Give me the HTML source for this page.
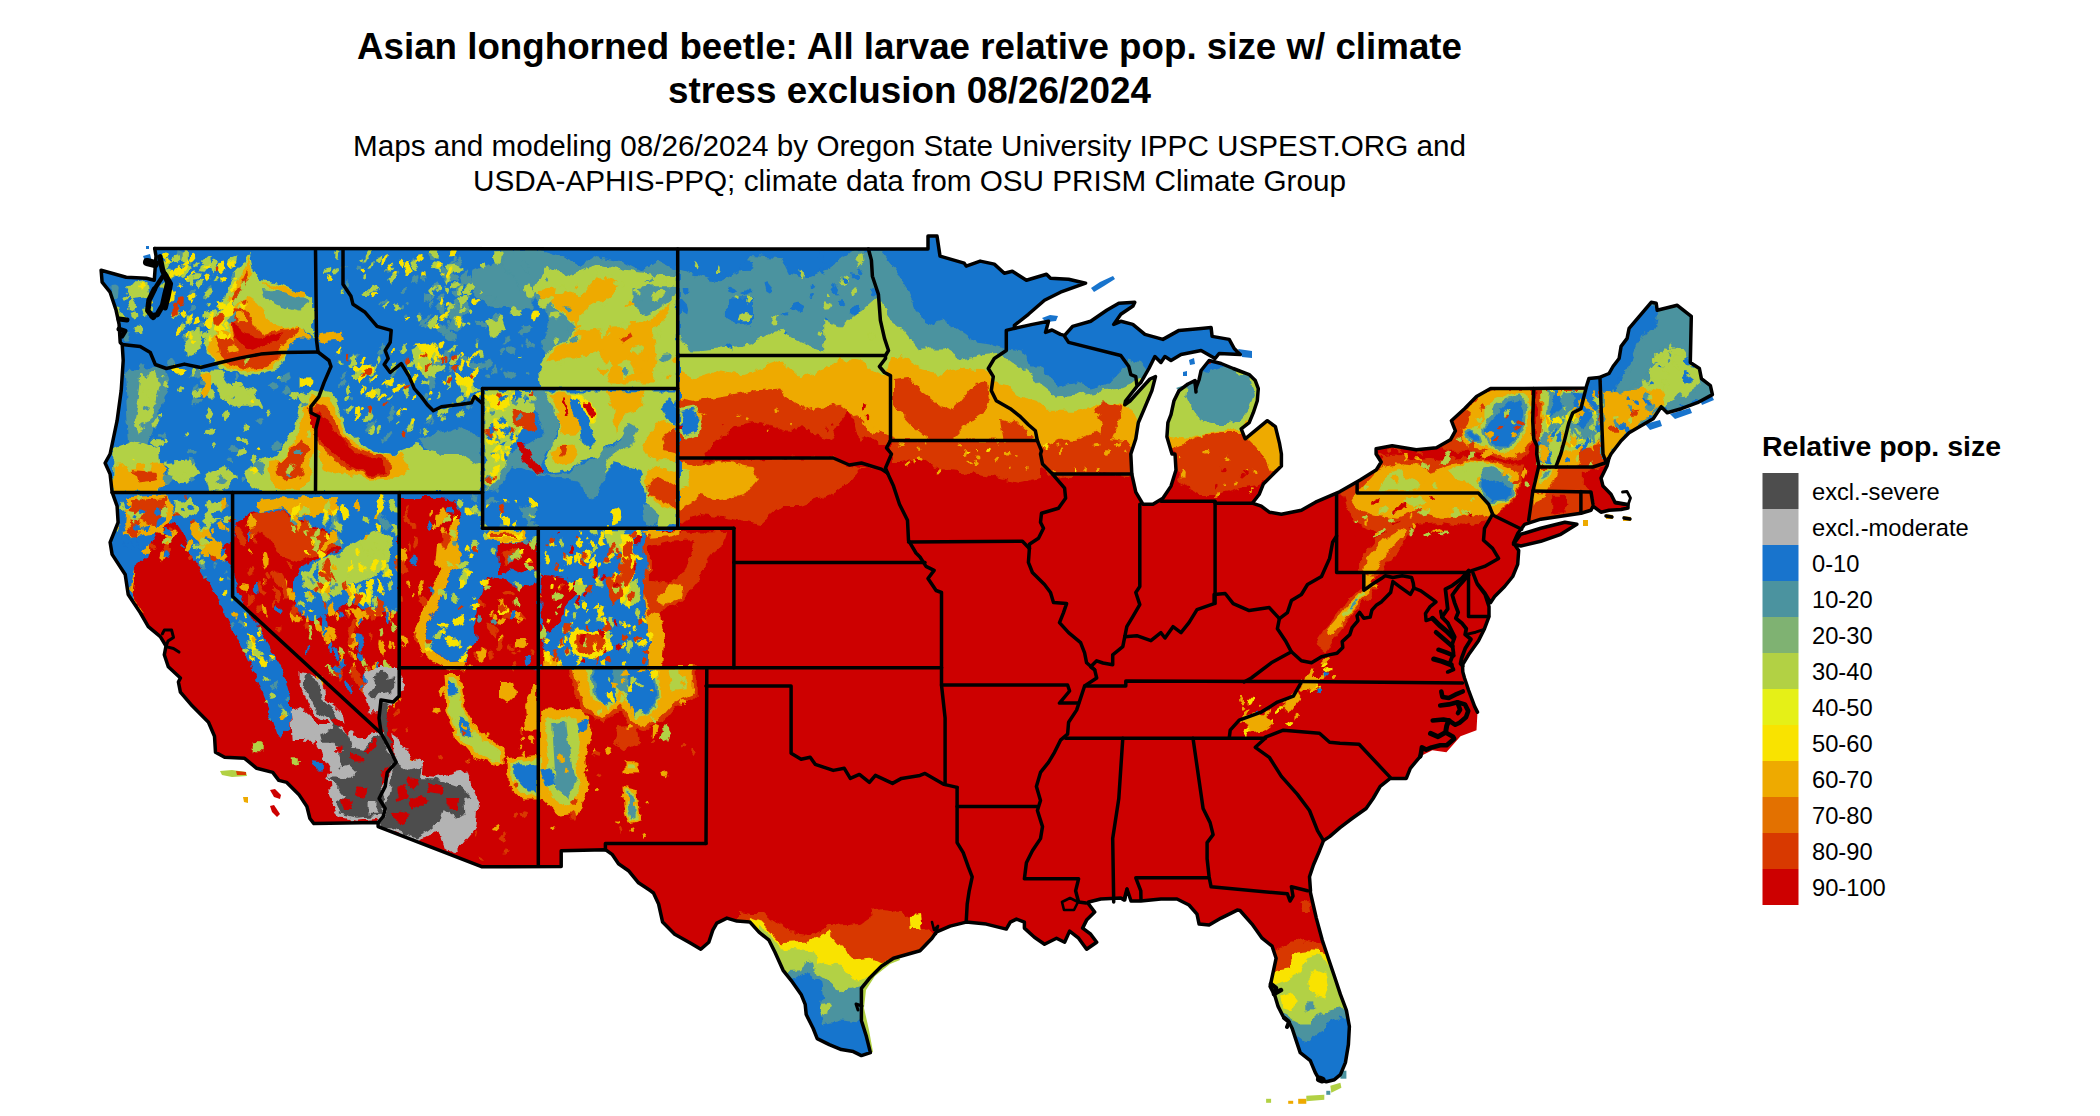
<!DOCTYPE html><html><head><meta charset="utf-8"><title>Asian longhorned beetle</title>
<style>html,body{margin:0;padding:0;background:#fff}svg{display:block}text{font-family:"Liberation Sans",Arial,sans-serif;fill:#000}</style></head><body>
<svg width="2100" height="1116" viewBox="0 0 2100 1116">
<rect width="2100" height="1116" fill="#fff"/>
<defs><clipPath id="us"><polygon points="154.7,248.5 928.0,249.0 928.0,236.0 937.0,236.0 940.0,256.1 964.2,263.1 966.2,266.1 980.2,261.1 994.3,264.1 1004.3,273.2 1012.3,271.2 1026.4,280.2 1046.5,274.2 1050.5,278.2 1068.6,279.2 1085.6,283.2 1060.5,292.2 1044.5,300.3 1028.4,314.3 1014.4,325.4 1014.4,328.4 1032.4,324.4 1048.5,321.3 1045.5,332.4 1052.0,330.0 1060.5,334.4 1064.6,335.4 1072.6,326.4 1090.7,321.3 1106.7,310.3 1118.8,303.3 1134.8,302.3 1133.0,306.0 1120.8,314.3 1113.7,324.4 1120.8,321.3 1132.8,324.4 1144.9,334.4 1162.9,339.4 1179.0,330.4 1201.1,328.4 1211.1,327.4 1212.1,336.4 1229.2,339.4 1234.2,348.5 1240.2,354.5 1219.1,353.5 1215.1,358.5 1201.1,350.5 1181.0,354.5 1171.0,360.5 1164.9,356.5 1160.9,362.5 1154.9,356.5 1148.9,368.5 1140.8,382.6 1136.8,386.6 1131.0,394.0 1125.5,401.0 1124.8,404.7 1130.0,401.0 1139.0,391.0 1150.0,379.0 1155.5,376.6 1151.9,390.6 1143.5,410.7 1138.3,422.7 1135.8,438.8 1130.8,454.0 1131.8,474.1 1135.8,492.1 1142.9,504.2 1152.9,504.2 1162.9,498.2 1171.0,486.1 1176.0,470.1 1175.0,454.0 1172.0,454.0 1166.9,436.8 1167.9,422.7 1171.0,414.7 1174.0,400.7 1179.0,390.6 1188.0,384.0 1195.0,380.6 1196.0,388.0 1199.0,380.0 1201.1,370.5 1209.1,360.5 1221.1,363.5 1233.2,368.5 1249.2,374.6 1255.3,380.6 1258.3,388.6 1257.3,400.7 1253.3,412.7 1249.2,422.7 1241.2,428.8 1245.2,438.8 1257.3,428.8 1267.3,420.7 1275.4,426.7 1279.4,442.8 1281.4,454.0 1281.4,466.0 1273.3,474.1 1263.3,484.1 1259.3,494.2 1252.3,503.2 1261.3,506.2 1269.3,512.2 1281.4,514.2 1301.4,510.2 1315.5,502.2 1340.0,491.6 1360.1,480.1 1376.1,470.1 1381.2,462.0 1376.1,454.0 1376.1,448.8 1392.2,445.8 1416.3,449.8 1436.4,447.8 1450.4,439.8 1455.4,430.8 1451.4,420.7 1464.5,408.7 1476.5,396.6 1490.6,388.6 1585.9,388.0 1588.9,378.6 1599.0,377.6 1609.0,373.5 1613.0,366.5 1619.1,358.5 1621.1,346.4 1627.1,338.4 1629.1,328.4 1651.2,302.3 1656.2,303.3 1657.2,310.3 1677.3,305.3 1691.3,316.3 1690.3,362.5 1699.4,368.5 1701.4,378.6 1710.4,385.6 1712.4,394.6 1697.4,402.7 1681.3,408.7 1667.2,412.7 1661.2,406.7 1653.2,418.7 1641.1,425.7 1629.1,432.8 1621.1,440.8 1615.0,448.8 1611.0,454.0 1609.0,458.0 1607.0,466.0 1601.0,478.1 1603.0,486.1 1611.0,494.2 1615.0,502.2 1628.0,504.5 1628.0,508.0 1621.1,509.5 1609.0,510.2 1601.0,512.2 1593.0,506.2 1591.0,510.2 1580.9,513.2 1560.8,516.2 1540.8,519.2 1524.7,524.3 1518.0,533.0 1513.5,543.0 1518.7,550.4 1517.7,564.4 1512.7,576.5 1504.6,586.5 1494.6,596.5 1490.6,602.6 1484.5,592.5 1476.5,582.5 1473.0,573.0 1477.5,584.5 1485.0,594.5 1489.0,606.6 1489.0,616.6 1484.5,628.7 1478.5,640.7 1468.5,654.8 1462.5,664.8 1462.8,671.9 1464.5,678.0 1468.5,690.0 1474.5,706.1 1477.5,712.1 1476.5,730.2 1460.5,736.2 1446.4,752.3 1432.4,750.3 1420.3,756.3 1410.3,768.3 1406.3,778.4 1390.2,778.4 1380.2,786.4 1373.1,798.5 1366.1,808.5 1352.0,818.5 1340.0,827.6 1329.6,836.6 1323.5,840.6 1319.5,850.7 1313.5,864.7 1309.5,876.8 1310.5,890.8 1310.3,892.0 1316.3,918.1 1322.3,940.2 1328.3,958.3 1334.4,976.3 1340.4,994.4 1346.4,1010.4 1349.4,1026.5 1348.4,1044.6 1345.4,1062.6 1340.4,1074.7 1334.4,1079.7 1326.3,1081.7 1319.3,1079.7 1315.3,1072.7 1310.3,1060.6 1300.2,1052.6 1296.2,1040.6 1292.2,1028.5 1288.2,1020.5 1283.2,1016.5 1278.1,1006.4 1275.1,996.4 1270.1,986.4 1273.1,972.3 1276.1,958.3 1272.1,946.2 1262.1,938.2 1252.0,924.1 1240.0,910.5 1237.2,910.1 1229.2,914.1 1221.1,918.1 1209.1,925.1 1199.1,924.1 1197.0,914.1 1189.0,905.0 1177.0,899.0 1160.9,899.0 1140.8,901.0 1131.0,901.0 1127.0,889.0 1124.0,900.0 1120.8,898.0 1100.7,899.0 1088.6,902.0 1088.6,904.0 1094.7,912.1 1086.6,920.1 1082.6,928.1 1090.7,934.2 1096.7,942.2 1086.6,949.2 1078.6,938.2 1069.6,931.1 1064.6,942.2 1056.5,938.2 1044.5,944.2 1034.4,937.2 1024.4,928.1 1024.4,922.1 1016.4,919.1 1010.3,922.1 1006.3,929.1 986.3,924.1 966.2,922.1 950.1,926.1 936.1,932.2 932.0,938.2 920.0,950.7 893.5,958.3 881.4,966.3 869.4,978.3 861.4,988.4 861.4,1006.4 861.4,1020.5 866.4,1036.6 870.4,1052.6 861.4,1055.6 853.3,1051.6 841.3,1049.6 829.3,1044.6 817.2,1038.6 813.2,1028.5 806.2,1014.5 805.2,1004.4 801.1,994.4 791.1,980.3 783.1,970.3 775.0,952.2 769.0,940.2 759.0,932.2 750.0,922.1 736.9,921.1 726.9,918.1 716.8,923.1 712.8,930.1 708.8,942.2 700.8,949.2 690.7,943.2 674.7,934.2 662.6,922.1 658.6,904.0 653.5,893.0 650.6,890.8 638.5,882.8 628.5,870.7 618.5,863.7 612.4,854.7 605.4,849.7 561.2,850.7 561.2,866.5 481.5,866.7 378.1,826.6 378.1,822.6 313.9,823.6 309.9,818.5 306.9,806.5 298.8,794.4 286.8,782.4 278.8,780.4 272.7,772.4 256.7,768.3 244.6,758.3 224.6,757.3 215.5,752.3 214.5,736.2 208.5,722.2 192.4,706.1 180.4,692.1 178.4,682.0 180.4,678.0 168.3,666.8 164.3,654.8 166.0,646.0 160.3,636.7 148.3,626.7 140.2,612.6 128.2,594.5 125.2,574.5 112.1,554.4 110.1,542.3 118.1,522.3 117.1,506.2 112.1,492.1 110.1,474.1 105.1,463.0 110.1,454.0 117.1,420.7 121.2,390.6 123.2,360.5 122.2,344.4 120.2,342.4 119.1,324.4 116.1,310.3 110.1,292.2 102.1,282.2 101.1,270.2 126.2,277.2 146.3,278.2 154.3,280.2 156.0,256.0"/><polygon points="1513.5,544.3 1520.7,534.3 1540.8,528.3 1564.9,522.3 1576.9,524.3 1560.8,534.3 1540.8,541.3 1520.7,546.0"/></clipPath><filter id="rough" x="0" y="0" width="2100" height="1116" filterUnits="userSpaceOnUse"><feTurbulence type="fractalNoise" baseFrequency="0.09" numOctaves="3" seed="7" result="n"/><feDisplacementMap in="SourceGraphic" in2="n" scale="9" xChannelSelector="R" yChannelSelector="G"/></filter></defs>
<g font-weight="bold" font-size="36.7" text-anchor="middle"><text x="909.5" y="59" textLength="1105" lengthAdjust="spacingAndGlyphs">Asian longhorned beetle: All larvae relative pop. size w/ climate</text><text x="909.5" y="103" textLength="483" lengthAdjust="spacingAndGlyphs">stress exclusion 08/26/2024</text></g>
<g font-size="29.6" text-anchor="middle"><text x="909.5" y="155.5" textLength="1113" lengthAdjust="spacingAndGlyphs">Maps and modeling 08/26/2024 by Oregon State University IPPC USPEST.ORG and</text><text x="909.5" y="191" textLength="873" lengthAdjust="spacingAndGlyphs">USDA-APHIS-PPQ; climate data from OSU PRISM Climate Group</text></g>
<g clip-path="url(#us)"><g filter="url(#rough)">
<rect x="90" y="230" width="1640" height="880" fill="#CD0000"/>
<g fill="#D83900"><!-- RO plains -->
<polygon points="636.0,440.0 640.0,470.0 642.0,496.0 650.0,520.0 678.0,524.0 700.8,514.0 720.8,516.0 761.0,524.0 781.1,506.0 801.1,506.0 831.3,494.0 851.3,480.0 860.0,470.0 886.0,462.0 900.0,462.0 920.0,458.0 940.0,470.0 980.0,474.0 1020.0,482.0 1040.0,478.0 1040.0,466.0 1060.0,480.0 1080.0,474.0 1100.0,472.0 1120.0,476.0 1135.0,478.0 1135.0,225.0 636.0,225.0"/>
</g>
<g fill="#EEAA00"><!-- O plains -->
<polygon points="640.0,398.0 678.0,398.0 692.7,400.7 730.9,394.6 751.0,390.6 781.1,388.6 791.1,400.7 805.2,410.7 821.2,406.7 841.3,404.7 861.4,420.7 871.4,430.8 890.5,436.0 900.0,440.0 1036.0,440.8 1042.5,446.8 1060.5,438.8 1080.6,438.8 1096.7,430.8 1110.0,440.0 1128.8,442.8 1135.0,450.0 1150.0,450.0 1150.0,225.0 640.0,225.0"/>
</g>
<g fill="#B2D144"><!-- G plains -->
<polygon points="640.0,370.0 678.0,370.5 692.7,378.6 720.8,370.5 740.9,374.6 781.1,360.5 801.1,378.6 821.2,370.5 841.3,358.5 861.4,362.5 875.4,370.5 886.0,376.0 890.5,356.0 900.0,356.0 910.0,362.0 920.0,368.5 940.1,374.6 960.2,368.5 986.3,370.5 996.3,382.6 1010.3,386.6 1020.4,396.6 1036.4,400.7 1048.5,410.7 1072.6,410.7 1090.7,406.7 1100.7,402.7 1120.8,404.7 1132.8,410.7 1138.8,422.7 1145.0,425.0 1162.0,425.0 1162.0,225.0 640.0,225.0"/>
</g>
<g fill="#4B939F"><!-- T plains -->
<polygon points="678.0,334.4 692.7,350.5 720.8,348.4 751.0,344.4 767.0,334.4 781.1,328.4 791.1,338.4 823.2,350.5 823.2,320.3 841.3,326.4 861.4,310.3 875.4,298.3 879.4,300.3 890.0,318.0 905.0,330.0 920.0,348.4 944.1,348.4 960.2,358.5 980.2,354.5 1000.3,352.5 1008.3,358.5 1024.4,370.5 1040.5,384.6 1056.5,396.6 1080.6,394.6 1100.7,390.6 1120.8,388.6 1130.8,384.6 1142.0,380.0 1160.0,380.0 1160.0,225.0 678.0,225.0"/>
</g>
<g fill="#1874CD"><!-- B plains -->
<polygon points="678.0,270.2 700.8,276.2 720.8,282.2 740.9,270.2 751.0,256.1 781.1,258.1 789.1,274.2 805.2,278.2 829.3,268.1 851.3,252.1 868.4,250.1 880.0,250.0 890.0,262.0 905.0,285.0 920.0,318.3 932.0,324.4 946.1,320.3 960.2,330.4 976.2,342.4 990.3,344.4 1004.3,348.5 1022.4,350.5 1028.4,366.5 1040.5,366.5 1058.5,386.6 1076.6,382.6 1090.7,388.6 1106.7,384.6 1120.8,370.5 1128.8,358.5 1140.0,362.0 1150.0,374.0 1165.0,374.0 1165.0,366.0 1195.0,366.0 1200.0,357.0 1260.0,357.0 1260.0,225.0 678.0,225.0"/>
</g>
<g fill="#CD0000"><!-- R SD -->
<polygon points="700.0,462.0 716.0,442.0 735.0,426.0 760.0,422.0 790.0,432.0 800.0,424.0 815.0,436.0 830.0,440.0 840.0,424.0 848.0,410.0 854.0,420.0 858.0,440.0 870.0,436.0 880.0,444.0 892.0,444.0 892.0,464.0 860.0,468.0 840.0,462.0 833.0,456.0"/>
</g>
<g fill="#D83900"><!-- RO MN -->
<polygon points="893.0,380.0 910.0,378.0 922.0,392.0 935.0,402.0 952.0,410.0 962.0,398.0 975.0,384.0 988.0,382.0 990.0,400.0 984.0,412.0 965.0,425.0 950.0,440.0 930.0,440.0 915.0,428.0 900.0,412.0 893.0,405.0"/>
<polygon points="1096.0,410.0 1104.0,402.0 1122.0,408.0 1118.0,424.0 1110.0,442.0 1100.0,438.0 1102.0,424.0"/>
<polygon points="1000.0,420.0 1020.0,424.0 1034.0,436.0 1030.0,442.0 1004.0,442.0"/>
</g>
<g fill="#EEAA00"><!-- O NE -->
<polygon points="678.7,462.0 700.0,466.0 720.0,462.0 752.0,466.0 757.0,480.0 745.0,496.0 720.0,500.0 700.0,496.0 690.0,504.0 678.7,510.0"/>
</g>
<g fill="#B2D144"><!-- G NE -->
<polygon points="678.7,470.0 688.7,472.0 690.0,486.0 678.7,490.0"/>
</g>
<g fill="#D83900"><!-- RO MI -->
<polygon points="1160.0,466.0 1175.0,466.0 1181.0,484.0 1201.0,494.0 1221.0,494.0 1241.0,488.0 1261.0,484.0 1273.0,474.0 1290.0,470.0 1290.0,363.0 1185.0,363.0 1160.0,400.0"/>
</g>
<g fill="#EEAA00"><!-- O MI -->
<polygon points="1160.0,450.0 1167.0,448.0 1180.0,446.0 1200.0,436.0 1222.0,432.0 1240.0,432.0 1248.0,440.0 1256.0,448.0 1262.0,456.0 1272.0,472.0 1290.0,470.0 1290.0,363.0 1185.0,363.0 1160.0,400.0"/>
</g>
<g fill="#B2D144"><!-- G MI -->
<polygon points="1160.0,438.0 1167.0,436.8 1187.0,438.8 1217.0,430.8 1241.0,428.8 1248.0,418.0 1256.0,410.0 1265.0,400.0 1265.0,363.0 1185.0,363.0 1160.0,400.0"/>
</g>
<g fill="#4B939F"><!-- T MI -->
<polygon points="1195.0,380.0 1210.0,362.0 1225.0,366.0 1250.0,376.0 1254.0,395.0 1248.0,410.0 1240.0,420.0 1228.0,424.0 1215.0,424.0 1200.0,420.0 1192.0,410.0 1186.0,396.0 1188.0,386.0"/>
</g>
<g fill="#1874CD"><!-- B MI -->
<polygon points="1200.0,363.0 1225.0,363.0 1222.0,368.0 1210.0,372.0 1203.0,370.0"/>
</g>
<g fill="#D83900"><!-- RO NY -->
<polygon points="1375.9,447.4 1390.2,443.8 1414.6,447.4 1440.4,447.4 1450.4,440.2 1454.7,433.1 1450.4,421.6 1459.0,413.0 1469.1,402.9 1483.4,392.9 1493.4,385.7 1612.5,385.7 1612.5,471.8 1595.3,471.8 1583.8,483.3 1595.3,494.7 1595.3,509.1 1580.9,517.7 1529.3,523.4 1512.1,501.9 1504.9,509.1 1496.3,514.8 1489.1,522.0 1476.2,523.4 1461.9,524.8 1440.4,522.0 1420.3,523.4 1397.4,534.9 1375.9,532.0 1354.3,523.4 1348.6,509.1 1344.3,494.7 1334.3,493.3 1334.3,486.1 1357.2,480.4 1375.9,466.0 1380.2,457.4 1375.9,453.1"/>
</g>
<g fill="#CD0000"><!-- R hudson -->
<polygon points="1532.2,388.6 1536.5,388.6 1537.2,423.0 1536.5,440.2 1539.3,466.0 1532.2,491.9 1529.3,523.4 1523.6,529.1 1512.1,523.4 1497.8,514.8 1504.9,509.1 1513.5,500.5 1519.3,489.0 1522.1,473.2 1526.4,457.4 1532.2,447.4 1531.5,423.0 1532.9,405.8"/>
<polygon points="1378.7,448.8 1397.4,446.7 1414.6,450.3 1440.4,448.6 1449.0,451.7 1469.1,451.7 1483.4,453.1 1497.8,458.2 1512.1,460.3 1526.4,456.0 1526.4,464.6 1512.1,464.6 1497.8,461.7 1483.4,458.2 1469.1,456.0 1454.7,457.4 1440.4,460.3 1428.9,457.4 1414.6,460.3 1397.4,454.6 1383.0,456.0 1377.3,453.1"/>
<polygon points="1552.2,494.7 1563.7,494.7 1569.5,503.3 1563.7,513.4 1552.2,514.8"/>
<polygon points="1583.8,471.8 1612.5,466.0 1612.5,494.7 1598.1,509.1 1592.4,494.7 1583.8,483.3"/>
</g>
<g fill="#EEAA00"><!-- O NY -->
<polygon points="1469.1,405.8 1483.4,395.8 1494.9,390.0 1532.2,390.0 1531.5,408.7 1532.2,425.9 1530.7,440.2 1523.6,451.7 1512.1,457.4 1497.8,454.6 1483.4,448.8 1469.1,447.4 1461.9,440.2 1460.5,428.8 1469.1,423.0 1471.9,414.4 1466.2,410.1"/>
<polygon points="1358.6,490.4 1375.9,471.8 1387.3,466.0 1404.5,463.2 1420.3,466.0 1428.9,471.8 1440.4,468.9 1449.0,464.6 1469.1,460.3 1490.6,461.7 1504.9,466.0 1519.3,471.8 1517.8,489.0 1509.2,503.3 1497.8,513.4 1483.4,517.7 1469.1,513.4 1454.7,517.7 1440.4,517.7 1420.3,509.1 1397.4,517.7 1375.9,514.8 1357.2,509.1 1351.5,500.5"/>
<polygon points="1540.8,394.3 1546.5,392.9 1546.5,417.3 1543.6,437.4 1540.8,444.5 1539.3,423.0"/>
<polygon points="1559.4,448.8 1576.6,446.0 1595.3,443.1 1602.4,440.2 1603.9,454.6 1595.3,466.0 1558.0,466.0"/>
<polygon points="1537.9,468.9 1558.0,468.9 1555.1,480.4 1547.9,491.9 1533.6,491.9"/>
<polygon points="1533.6,493.3 1545.1,493.3 1540.8,501.9 1533.6,504.8"/>
</g>
<g fill="#D83900"><!-- RO NH -->
<polygon points="1583.8,448.8 1602.4,443.1 1605.3,457.4 1598.1,466.0 1576.6,466.0"/>
</g>
<g fill="#B2D144"><!-- G NY -->
<polygon points="1483.4,408.7 1494.9,400.1 1512.1,392.9 1526.4,394.3 1529.3,408.7 1526.4,427.3 1520.7,440.2 1512.1,451.7 1497.8,451.7 1483.4,444.5 1469.1,443.1 1463.3,435.9 1464.8,427.3 1476.2,425.9 1483.4,420.2"/>
<polygon points="1378.7,486.1 1387.3,473.2 1400.2,468.9 1407.4,477.5 1420.3,483.3 1417.4,490.4 1380.2,490.4"/>
<polygon points="1449.0,468.9 1469.1,461.7 1490.6,463.2 1504.9,471.8 1516.4,480.4 1515.0,494.7 1504.9,504.8 1490.6,506.2 1480.5,497.6 1477.7,489.0 1469.1,483.3 1454.7,480.4"/>
<polygon points="1404.5,497.6 1420.3,496.2 1426.0,503.3 1414.6,506.2 1404.5,503.3"/>
<polygon points="1449.0,509.1 1459.0,509.1 1461.9,516.2 1450.4,517.7"/>
<polygon points="1540.8,390.0 1585.2,390.0 1582.4,408.7 1572.3,413.0 1563.7,434.5 1559.4,451.7 1556.5,466.0 1537.9,466.0 1539.3,437.4 1543.6,415.9"/>
<polygon points="1563.7,434.5 1572.3,413.0 1583.8,427.3 1599.6,423.0 1601.0,440.2 1591.0,447.4 1576.6,448.8 1560.9,451.7"/>
<polygon points="1540.8,470.3 1550.8,470.3 1547.9,480.4 1540.8,483.3"/>
</g>
<g fill="#4B939F"><!-- T NY -->
<polygon points="1494.9,405.8 1504.9,398.6 1519.3,394.3 1526.4,402.9 1525.0,423.0 1519.3,437.4 1509.2,448.8 1497.8,450.3 1486.3,441.7 1482.0,430.2 1486.3,420.2 1492.0,414.4"/>
<polygon points="1463.3,430.2 1469.1,427.3 1477.7,434.5 1480.5,443.1 1471.9,443.1 1464.8,437.4"/>
<polygon points="1482.0,468.9 1492.0,466.0 1497.8,471.8 1507.8,477.5 1515.0,483.3 1513.5,494.7 1504.9,501.9 1490.6,503.3 1482.0,494.7 1479.1,486.1 1483.4,477.5"/>
<polygon points="1547.9,392.9 1583.8,391.5 1580.9,407.2 1569.5,411.6 1560.9,427.3 1550.8,440.2 1543.6,460.3 1540.8,466.0 1540.8,443.1 1546.5,423.0 1546.5,405.8"/>
<polygon points="1576.6,408.7 1598.1,401.5 1599.6,423.0 1592.4,434.5 1580.9,440.2 1569.5,437.4 1572.3,423.0"/>
<polygon points="1542.2,471.8 1547.9,471.8 1546.5,477.5 1542.2,479.0"/>
</g>
<g fill="#1874CD"><!-- B NY -->
<polygon points="1497.8,413.0 1509.2,401.5 1519.3,398.6 1523.6,408.7 1522.1,423.0 1516.4,437.4 1506.4,447.4 1497.8,447.4 1489.1,438.8 1484.8,428.8 1490.6,421.6"/>
<polygon points="1466.2,433.1 1470.5,430.2 1476.2,435.9 1477.7,441.7 1471.9,441.7"/>
<polygon points="1483.4,480.4 1497.8,479.0 1507.8,483.3 1512.1,489.0 1504.9,499.0 1492.0,500.5 1483.4,493.3"/>
<polygon points="1555.1,392.9 1563.7,394.3 1560.9,408.7 1552.2,415.9 1550.8,402.9"/>
<polygon points="1572.3,391.5 1583.8,392.9 1582.4,404.4 1575.2,405.8"/>
<polygon points="1542.2,454.6 1549.4,451.7 1550.8,463.2 1542.2,464.6"/>
<polygon points="1586.7,377.1 1598.1,377.1 1599.6,401.5 1592.4,417.3 1583.8,427.3 1576.6,423.0 1580.9,408.7 1583.8,397.2"/>
</g>
<g fill="#D83900"><!-- RO VT -->
<polygon points="1536.5,388.6 1540.8,388.6 1542.2,423.0 1540.1,444.5 1537.2,444.5"/>
</g>
<g fill="#4B939F"><!-- T ME -->
<polygon points="1600.0,377.6 1609.0,370.5 1621.1,342.4 1629.1,326.4 1651.2,300.3 1681.3,302.3 1695.4,314.3 1693.3,362.5 1715.4,386.6 1713.4,398.6 1681.3,410.7 1653.2,422.7 1621.1,442.8 1607.0,458.9 1601.0,458.9"/>
</g>
<g fill="#1874CD"><!-- B ME -->
<polygon points="1599.0,378.6 1609.0,373.5 1621.1,346.4 1629.1,328.4 1651.2,302.3 1657.2,310.3 1655.2,326.4 1641.1,334.4 1635.1,350.5 1627.1,370.5 1617.1,386.6 1603.0,396.6 1602.0,386.6"/>
<polygon points="1653.2,416.7 1669.3,410.7 1681.3,410.7 1665.2,422.7 1653.2,428.8"/>
<polygon points="1681.3,406.7 1701.4,400.6 1693.3,408.7"/>
</g>
<g fill="#B2D144"><!-- G ME -->
<polygon points="1637.1,390.6 1645.2,376.6 1657.2,360.5 1665.2,348.5 1681.3,350.5 1689.3,362.5 1699.4,370.5 1701.4,382.6 1681.3,396.6 1669.3,402.7 1661.2,410.7 1649.2,400.6 1621.1,402.7"/>
</g>
<g fill="#EEAA00"><!-- O ME -->
<polygon points="1603.0,390.6 1621.1,392.6 1641.1,386.6 1661.2,390.6 1665.2,402.7 1657.2,410.7 1641.1,422.7 1621.1,438.8 1607.0,458.9 1602.0,458.9"/>
</g>
<g fill="#D83900"><!-- RO ME -->
<polygon points="1629.1,410.7 1639.1,409.7 1637.1,415.7 1629.1,415.7"/>
<polygon points="1609.0,426.7 1617.1,425.7 1617.1,430.8 1609.0,430.8"/>
</g>
<g fill="#D83900"><!-- W1 RO -->
<polygon points="616.4,728.2 636.5,726.2 639.5,744.3 624.5,751.3 613.4,742.2"/>
<polygon points="568.3,666.0 696.7,666.0 696.7,696.1 676.7,706.1 664.6,720.2 644.5,730.2 626.5,724.2 619.5,708.1 604.4,722.2 584.3,712.1 574.3,692.1"/>
</g>
<g fill="#EEAA00"><!-- W1 O -->
<polygon points="644.0,530.0 662.0,530.0 664.0,560.0 658.0,600.0 664.0,640.0 662.0,668.0 648.0,668.0 650.0,640.0 644.0,600.0 647.0,560.0"/>
<polygon points="425.0,630.0 440.0,600.0 452.0,570.0 456.0,540.0 462.0,520.0 452.0,520.0 444.0,545.0 440.0,570.0 428.0,598.0 414.0,630.0 422.0,655.0 450.0,670.0 480.0,668.0 480.0,660.0 450.0,662.0 430.0,650.0"/>
<polygon points="506.0,758.3 542.2,754.3 543.2,798.5 522.1,798.5 508.0,784.4"/>
<polygon points="540.2,710.1 582.3,708.1 592.4,728.2 584.3,762.3 588.3,790.4 578.3,814.5 560.2,816.5 544.2,802.5 539.1,790.4"/>
<polygon points="572.3,666.0 692.7,666.0 692.7,694.1 674.7,702.1 662.6,716.1 644.5,726.2 628.5,720.2 620.5,702.1 604.4,718.2 586.3,708.1 578.3,690.0"/>
<polygon points="622.5,786.4 638.5,790.4 641.5,820.5 628.5,823.6 623.5,806.5"/>
<polygon points="624.5,760.3 638.5,760.3 638.5,772.4 624.5,772.4"/>
<polygon points="500.0,682.0 514.1,684.0 516.1,694.1 508.0,702.1 500.0,698.1"/>
<polygon points="524.1,708.1 534.1,684.0 538.1,684.0 538.1,728.2 526.1,730.2"/>
<polygon points="444.4,674.0 460.4,674.0 464.5,708.1 476.5,728.2 503.6,748.3 503.6,766.3 471.5,756.3 454.4,736.2 446.4,710.1"/>
<polygon points="110.1,542.3 128.2,554.4 135.2,574.5 132.2,594.5 144.2,614.6 127.2,596.5 123.2,574.5 112.1,558.4"/>
</g>
<g fill="#F9E300"><!-- W1 Y -->
</g>
<g fill="#B2D144"><!-- W1 G -->
<polygon points="510.0,762.3 540.2,758.3 540.2,794.4 524.1,794.4 512.0,782.4"/>
<polygon points="546.2,718.2 576.3,718.2 580.3,738.2 576.3,766.3 580.3,786.4 570.3,806.5 552.2,798.5 544.2,782.4 548.2,758.3 546.2,738.2"/>
<polygon points="584.3,668.0 656.6,668.0 660.6,698.1 652.6,714.1 636.5,718.2 626.5,702.1 620.5,690.0 608.4,710.1 592.4,698.1"/>
<polygon points="668.6,670.0 686.7,670.0 686.7,688.0 672.7,690.0"/>
<polygon points="625.5,789.4 636.9,793.4 638.9,818.5 630.1,820.9 625.9,806.5"/>
<polygon points="627.5,763.3 634.5,763.3 634.5,769.3 627.5,769.3"/>
<polygon points="447.4,678.0 457.4,678.0 461.4,708.1 473.5,730.2 500.0,750.3 500.0,762.3 473.5,752.3 457.4,734.2 449.4,710.1"/>
<polygon points="252.7,742.2 262.7,742.2 262.7,752.3 252.7,752.3"/>
<polygon points="290.8,758.3 298.8,758.3 298.8,764.3 290.8,764.3"/>
<polygon points="110.1,542.3 125.2,554.4 130.2,574.5 128.2,592.5 125.2,574.5 112.1,554.4"/>
</g>
<g fill="#4B939F"><!-- W1 T -->
<polygon points="552.2,724.2 566.3,722.2 570.3,758.3 576.3,778.4 568.3,798.5 556.2,790.4 554.2,758.3"/>
<polygon points="627.5,792.4 635.5,796.5 636.9,816.5 630.9,818.5 627.9,806.5"/>
<polygon points="590.3,668.0 654.6,668.0 658.6,698.1 648.6,714.1 632.5,716.1 626.5,696.1 618.5,688.0 606.4,708.1 594.4,696.1"/>
</g>
<g fill="#1874CD"><!-- W1 B -->
<polygon points="90.0,230.0 680.0,230.0 680.0,530.0 644.0,530.0 647.0,560.0 644.0,600.0 650.0,640.0 648.0,668.0 560.0,668.0 545.0,650.0 538.0,620.0 520.0,600.0 500.0,590.0 490.0,610.0 492.0,640.0 480.0,660.0 450.0,662.0 430.0,650.0 425.0,630.0 440.0,600.0 452.0,570.0 456.0,540.0 462.0,520.0 455.0,500.0 440.0,498.0 400.0,498.0 399.0,530.0 399.0,610.0 371.0,614.6 361.0,606.6 351.0,600.6 331.0,614.6 311.0,620.6 301.0,614.6 293.0,598.5 293.0,582.5 301.0,566.4 321.0,558.4 341.0,548.4 337.0,534.3 321.0,528.3 301.0,520.3 281.0,510.2 261.0,514.2 252.7,512.2 236.6,520.3 232.0,540.0 225.0,545.0 222.0,560.0 234.0,570.0 238.0,592.0 254.0,620.0 266.0,640.0 282.0,668.0 290.0,696.0 290.0,728.0 278.0,736.0 270.0,712.0 258.0,680.0 242.0,648.0 226.0,616.0 210.0,584.0 186.0,544.0 178.0,524.0 162.0,522.0 152.0,540.0 146.0,558.0 134.0,568.0 131.0,590.0 138.0,612.0 130.0,612.0 122.0,590.0 90.0,585.0"/>
<polygon points="514.1,764.3 538.1,764.3 538.1,790.4 526.1,790.4 516.1,778.4"/>
<polygon points="540.2,770.4 552.2,768.3 556.2,782.4 546.2,786.4"/>
<polygon points="576.3,724.2 588.3,718.2 588.3,728.2 578.3,732.2"/>
<polygon points="594.4,668.0 612.4,668.0 616.4,698.1 604.4,708.1 596.4,694.1"/>
<polygon points="628.5,668.0 652.6,668.0 656.6,698.1 644.5,714.1 630.5,714.1 626.5,694.1"/>
<polygon points="447.4,682.0 455.4,682.0 457.4,694.1 449.4,696.1"/>
<polygon points="457.4,718.2 469.5,722.2 473.5,738.2 461.4,736.2"/>
<polygon points="313.9,761.3 323.9,762.3 323.9,771.4 315.9,771.4"/>
</g>
<g fill="#4B939F"><!-- W2 T -->
<polygon points="472.0,272.6 510.0,254.0 532.6,254.0 532.6,309.9 486.0,305.2 472.0,291.2"/>
<polygon points="416.1,440.3 462.7,426.3 481.3,440.3 481.3,491.6 439.4,491.6 453.4,463.6"/>
<polygon points="124.9,370.4 164.5,365.8 169.2,384.4 162.2,407.7 152.9,426.3 145.9,449.6 129.6,449.6 127.3,417.0"/>
<polygon points="500.0,250.1 676.7,250.1 676.7,388.6 540.2,388.6 538.1,370.5 548.2,354.5 540.2,342.4 550.2,326.4 546.2,310.3 532.1,298.3 520.1,290.2 512.0,274.2 500.0,266.1"/>
<polygon points="530.2,391.5 550.3,391.5 556.0,408.7 558.9,427.3 556.0,440.2 544.6,454.6 538.8,471.8 547.4,474.7 570.4,471.8 579.0,463.2 593.3,460.3 607.7,447.4 620.6,440.2 627.8,423.0 637.8,428.8 632.1,446.0 613.4,460.3 607.7,471.8 601.9,483.3 593.3,500.5 584.7,494.7 579.0,480.4 556.0,477.5 527.4,471.8 513.0,466.0 505.9,477.5 495.8,491.9 485.8,489.0 485.8,466.0 498.7,460.3 513.0,451.7 533.1,440.2 544.6,434.5 538.8,417.3 533.1,405.8"/>
<polygon points="642.1,506.2 655.0,504.8 659.3,517.7 653.6,526.3 645.0,523.4"/>
<polygon points="518.8,506.2 536.0,509.1 530.2,523.4 521.6,517.7"/>
</g>
<g fill="#1874CD"><!-- W2 B -->
<polygon points="540.2,250.1 676.7,250.1 676.7,270.2 660.6,262.1 640.5,270.2 620.5,260.1 596.4,256.1 580.3,266.1 560.2,256.1"/>
</g>
<g fill="#B2D144"><!-- W2 G -->
<polygon points="201.8,370.4 220.4,370.4 229.8,384.4 253.1,389.1 262.4,407.7 239.1,407.7 220.4,398.4 215.8,384.4 204.1,389.1"/>
<polygon points="299.6,403.1 313.6,389.1 332.3,393.7 341.6,412.4 346.2,431.0 369.5,449.6 392.8,454.3 416.1,445.0 434.7,449.6 453.4,463.6 462.7,482.3 439.4,491.6 392.8,491.6 346.2,491.6 313.6,491.6 276.3,491.6 267.0,472.9 281.0,449.6 295.0,426.3"/>
<polygon points="141.2,375.1 155.2,372.8 159.9,384.4 155.2,403.1 148.2,421.7 138.9,435.7 134.3,421.7 138.9,398.4"/>
<polygon points="113.3,449.6 136.6,440.3 159.9,449.6 162.2,472.9 159.9,491.6 113.3,491.6"/>
<polygon points="411.5,349.5 430.1,344.8 439.4,361.1 432.4,379.8 416.1,370.4"/>
<polygon points="453.4,370.4 472.0,379.8 479.0,391.4 462.7,393.7"/>
<polygon points="483.7,319.2 502.3,316.9 507.0,330.8 490.7,335.5"/>
<polygon points="183.2,333.2 199.5,328.5 201.8,349.5 187.8,356.5"/>
<polygon points="124.9,284.3 148.2,281.9 150.6,295.9 129.6,298.2"/>
<polygon points="532.1,290.2 546.2,266.1 566.3,276.2 596.4,264.1 620.5,270.2 676.7,276.2 676.7,388.6 540.2,388.6 538.1,370.5 548.2,350.5 566.3,342.4 576.3,326.4 560.2,310.3 540.2,296.3"/>
<polygon points="244.6,470.1 264.7,458.0 314.9,450.0 314.9,492.1 260.7,492.1 248.6,484.1"/>
<polygon points="316.9,454.0 461.4,454.0 481.5,466.0 481.5,492.1 316.9,492.1"/>
<polygon points="166.3,462.0 192.4,460.0 200.5,472.1 184.4,484.1 168.3,478.1"/>
<polygon points="204.5,474.1 224.5,466.0 232.6,480.1 220.5,492.1 208.5,490.1"/>
<polygon points="174.4,500.2 192.4,498.2 198.5,510.2 184.4,518.2 174.4,512.2"/>
<polygon points="204.5,504.2 220.5,502.2 224.5,518.2 210.5,522.3"/>
<polygon points="320.9,560.4 341.0,550.4 361.1,538.3 381.1,530.3 393.2,538.3 389.2,558.4 377.1,574.5 361.1,582.5 341.0,590.5 320.9,594.5 304.9,586.5 300.8,574.5"/>
<polygon points="304.9,497.2 337.0,497.2 339.0,508.2 320.9,512.2 306.9,506.2"/>
<polygon points="648.6,582.5 666.6,578.5 670.6,594.5 656.6,598.5"/>
<polygon points="604.4,530.3 624.5,530.3 628.5,550.4 612.4,554.4"/>
<polygon points="616.4,582.5 636.5,582.5 640.5,602.6 624.5,606.6"/>
<polygon points="208.3,332.2 216.3,316.0 224.4,305.3 227.1,289.1 232.5,274.4 243.2,262.3 249.9,252.8 252.6,270.3 262.0,281.1 278.2,283.8 291.6,289.1 305.1,294.5 313.1,297.2 313.1,337.5 305.1,329.5 297.0,334.8 288.9,345.6 283.5,359.0 275.5,369.8 256.7,375.2 237.8,372.5 219.0,369.8 211.0,359.0 205.6,345.6"/>
<polygon points="544.6,391.5 676.5,391.5 676.5,526.3 656.4,526.3 659.3,514.8 647.8,503.3 642.1,480.4 639.2,468.9 624.9,466.0 613.4,463.2 604.8,471.8 607.7,460.3 616.3,451.7 632.1,444.5 637.8,428.8 627.8,423.0 622.0,437.4 607.7,446.0 599.1,457.4 581.9,460.3 570.4,468.9 550.3,471.8 544.6,460.3 550.3,446.0 558.9,437.4 558.9,423.0 553.2,405.8"/>
<polygon points="484.3,390.0 533.1,390.0 536.0,408.7 527.4,423.0 513.0,440.2 507.3,460.3 498.7,480.4 488.6,489.0 484.3,480.4"/>
</g>
<g fill="#4B939F"><!-- W2 T2 -->
<polygon points="632.5,288.2 652.6,286.2 672.7,286.2 672.7,298.3 656.6,310.3 640.5,314.3 632.5,302.3"/>
<polygon points="262.0,289.1 294.3,293.2 310.4,302.6 299.7,310.6 278.2,305.3 264.7,297.2"/>
</g>
<g fill="#F9E300"><!-- W2 Y -->
<polygon points="416.1,344.8 432.4,342.5 444.1,356.5 430.1,361.1"/>
<polygon points="453.4,370.4 472.0,379.8 474.3,391.4 458.0,384.4"/>
<polygon points="299.6,377.4 311.3,377.4 311.3,386.8 299.6,386.8"/>
<polygon points="353.2,365.8 369.5,363.5 371.9,370.4 355.5,372.8"/>
<polygon points="246.6,634.7 252.7,636.7 260.7,654.8 266.7,666.8 260.7,666.8 252.7,652.8"/>
<polygon points="620.5,534.3 632.5,534.3 636.5,566.4 628.5,594.5 620.5,606.6 618.5,582.5 622.5,558.4"/>
<polygon points="568.3,630.7 608.4,630.7 612.4,646.7 596.4,658.8 572.3,654.8"/>
<polygon points="500.0,530.3 520.1,530.3 520.1,542.3 500.0,542.3"/>
<polygon points="488.6,394.3 504.4,392.9 510.2,402.9 503.0,410.1 491.5,408.7"/>
<polygon points="495.8,420.2 507.3,423.0 505.9,434.5 497.2,437.4 492.9,428.8"/>
<polygon points="492.9,467.5 500.1,463.2 500.8,471.8 495.8,480.4"/>
<polygon points="570.4,392.9 581.9,394.3 593.3,408.7 596.2,421.6 590.5,421.6 581.9,408.7"/>
<polygon points="609.1,511.9 619.1,509.1 622.0,520.5 613.4,523.4"/>
</g>
<g fill="#EEAA00"><!-- W2 O -->
<polygon points="304.3,407.7 313.6,393.7 329.9,398.4 339.2,417.0 343.9,435.7 364.9,449.6 390.5,456.6 402.1,463.6 392.8,477.6 369.5,479.9 346.2,472.9 327.6,459.0 313.6,449.6 309.0,468.3 299.6,482.3 281.0,486.9 271.7,482.3 283.3,459.0 297.3,435.7"/>
<polygon points="118.0,472.9 136.6,463.6 157.6,468.3 157.6,489.2 118.0,489.2"/>
<polygon points="201.8,375.1 211.1,370.4 211.1,389.1 201.8,398.4"/>
<polygon points="318.3,333.2 341.6,330.8 343.9,340.2 320.6,342.5"/>
<polygon points="536.1,290.2 556.2,288.2 580.3,296.3 600.4,274.2 620.5,282.2 612.4,296.3 590.3,306.3 580.3,314.3 576.3,330.4 600.4,328.4 628.5,326.4 652.6,318.3 672.7,300.3 666.6,316.3 654.6,334.4 656.6,358.5 652.6,382.6 606.4,382.6 612.4,366.5 600.4,350.5 580.3,358.5 560.2,358.5 546.2,362.5 552.2,350.5 568.3,342.4 578.3,326.4 566.3,314.3 556.2,306.3 540.2,298.3"/>
<polygon points="114.1,466.0 164.3,462.0 166.3,484.1 156.3,491.1 114.1,491.1"/>
<polygon points="268.7,462.0 300.8,458.0 312.9,474.1 300.8,490.1 272.7,488.1"/>
<polygon points="316.9,454.0 401.2,454.0 409.3,470.1 393.2,480.1 357.1,476.1 324.9,470.1"/>
<polygon points="126.2,496.2 168.3,494.2 174.4,514.2 164.3,530.3 146.3,534.3 130.2,538.3 124.2,524.3"/>
<polygon points="192.4,520.3 220.5,540.3 228.6,558.4 220.5,562.4 204.5,550.4 192.4,534.3"/>
<polygon points="256.7,500.2 280.8,497.2 337.0,497.2 341.0,510.2 320.9,514.2 300.8,518.2 280.8,508.2 260.7,512.2"/>
<polygon points="646.6,532.3 680.7,532.3 660.6,540.3 646.6,544.3"/>
<polygon points="664.6,582.5 686.7,584.5 680.7,598.5 668.6,602.6"/>
<polygon points="542.2,654.8 560.2,658.8 564.2,666.8 542.2,666.8"/>
<polygon points="211.0,334.8 219.0,326.8 229.8,332.2 229.8,313.3 235.2,305.3 248.6,297.2 256.7,302.6 264.7,313.3 270.1,324.1 283.5,328.1 297.0,326.8 305.1,329.5 310.4,337.5 299.7,337.5 288.9,345.6 280.9,359.0 270.1,369.8 251.3,372.5 232.5,369.8 216.3,361.7 208.3,348.3"/>
<polygon points="241.9,274.4 248.6,256.9 251.3,273.0 245.9,286.5 237.8,291.8 232.5,302.6 227.1,299.9 235.2,286.5"/>
<polygon points="262.0,283.8 280.9,286.5 305.1,293.2 302.4,297.2 278.2,290.5"/>
<polygon points="550.3,392.9 570.4,394.3 579.0,408.7 587.6,423.0 579.0,433.1 561.8,434.5 558.9,420.2 556.0,405.8"/>
<polygon points="606.2,391.5 643.5,391.5 642.1,405.8 632.1,413.0 623.4,415.9 614.8,434.5 613.4,423.0 614.8,408.7"/>
<polygon points="550.3,454.6 556.0,446.0 573.3,444.5 577.6,454.6 570.4,463.2 556.0,466.0"/>
<polygon points="642.1,446.0 656.4,423.0 662.2,420.2 676.5,425.9 676.5,460.3 656.4,460.3 647.8,454.6"/>
<polygon points="645.0,471.8 656.4,466.0 676.5,471.8 676.5,511.9 662.2,506.2 647.8,494.7"/>
</g>
<g fill="#B2D144"><!-- W2 G3 -->
<polygon points="618.5,364.5 628.5,360.5 634.5,370.5 624.5,378.6"/>
<polygon points="679.7,407.7 693.7,405.7 702.8,418.7 698.8,434.8 684.7,438.8 678.7,426.7"/>
</g>
<g fill="#D83900"><!-- W2 RO -->
<polygon points="306.6,407.7 315.9,403.1 327.6,407.7 336.9,424.0 341.6,438.0 360.2,449.6 388.2,459.0 390.5,475.3 369.5,477.6 348.6,470.6 332.3,456.6 318.3,445.0 313.6,426.3"/>
<polygon points="276.3,472.9 290.3,449.6 302.0,440.3 309.0,449.6 299.6,468.3 285.7,482.3"/>
<polygon points="134.3,472.9 150.6,472.9 155.2,482.3 136.6,484.6"/>
<polygon points="620.5,338.4 630.5,333.4 632.5,337.4 622.5,343.4"/>
<polygon points="132.2,470.1 156.3,472.1 158.3,482.1 140.2,484.1"/>
<polygon points="276.7,462.0 296.8,462.0 304.9,474.1 292.8,480.1 278.8,474.1"/>
<polygon points="331.0,454.0 381.1,454.0 393.2,466.0 389.2,476.1 361.1,472.1 337.0,462.0"/>
<polygon points="130.2,500.2 164.3,498.2 166.3,520.3 156.3,526.3 140.2,520.3 132.2,534.3 128.2,514.2"/>
<polygon points="624.5,542.3 632.5,542.3 636.5,566.4 628.5,586.5 620.5,582.5"/>
<polygon points="604.4,578.5 620.5,574.5 624.5,594.5 612.4,606.6"/>
<polygon points="576.3,634.7 600.4,634.7 604.4,646.7 588.3,654.8 576.3,650.7"/>
<polygon points="216.3,337.5 229.8,334.8 235.2,342.9 229.8,316.0 235.2,309.3 248.6,310.6 254.0,324.1 264.7,334.8 283.5,329.5 299.7,328.1 291.6,337.5 280.9,345.6 278.2,359.0 264.7,368.4 248.6,369.8 229.8,364.4 219.0,353.7"/>
<polygon points="243.2,278.4 247.3,270.3 248.6,281.1 244.6,287.8 236.5,297.2 232.5,305.3 229.8,302.6 236.5,290.5"/>
<polygon points="511.6,408.7 533.1,414.4 537.4,428.8 527.4,431.6 515.9,425.9"/>
<polygon points="558.9,446.0 567.5,446.0 566.1,454.6 560.3,454.6"/>
<polygon points="662.2,440.2 667.9,431.6 676.5,428.8 676.5,451.7 665.0,448.8"/>
<polygon points="646.4,486.1 652.1,477.5 662.2,480.4 676.5,489.0 676.5,509.1 660.7,500.5 647.8,494.7"/>
</g>
<g fill="#EEAA00"><!-- W2 O2 -->
<polygon points="236.5,313.3 244.6,312.0 247.3,320.1 237.8,322.7"/>
<polygon points="224.4,345.6 235.2,344.2 237.8,351.0 227.1,353.7"/>
</g>
<g fill="#CD0000"><!-- W2 R -->
<polygon points="309.0,412.4 318.3,410.0 327.6,421.7 336.9,435.7 355.5,452.0 383.5,461.3 385.8,472.9 369.5,475.3 350.9,468.3 334.6,454.3 320.6,440.3 311.3,426.3"/>
<polygon points="542.2,574.5 566.3,578.5 576.3,594.5 566.3,604.6 560.2,624.6 542.2,634.7 541.2,594.5"/>
<polygon points="500.0,542.3 538.1,544.3 538.1,566.4 520.1,572.5 508.0,566.4 500.0,574.5"/>
<polygon points="500.0,590.5 516.1,594.5 526.1,586.5 538.1,582.5 538.1,666.8 500.0,666.8"/>
<polygon points="231.1,322.7 237.8,326.8 245.9,334.8 256.7,337.5 270.1,336.2 283.5,332.2 278.2,340.2 264.7,345.6 251.3,351.0 243.2,345.6 235.2,337.5"/>
<polygon points="515.9,443.1 523.1,443.1 541.7,471.8 536.0,473.2 524.5,460.3"/>
<polygon points="583.3,402.9 589.0,404.4 594.8,415.9 590.5,417.3"/>
<polygon points="561.8,398.6 564.7,398.6 569.0,414.4 566.1,414.4"/>
</g>
<g fill="#1874CD"><!-- W2 B2 -->
<polygon points="681.7,410.7 692.7,408.7 699.8,418.7 695.7,431.8 685.7,434.8 680.7,425.7"/>
<polygon points="726.9,298.3 753.0,298.3 753.0,324.4 736.9,326.4 726.9,314.3"/>
<polygon points="512.0,634.7 532.1,630.7 536.1,644.7 520.1,650.7"/>
<polygon points="660.7,407.2 669.3,397.2 676.5,402.9 676.5,425.9 669.3,420.2"/>
<polygon points="570.4,395.8 579.0,400.1 590.5,421.6 596.2,440.2 590.5,448.8 581.9,440.2 579.0,423.0 573.3,408.7"/>
</g>
<g fill="#D83900"><!-- CO RO -->
<polygon points="644.5,533.8 726.9,532.0 723.3,544.5 709.0,555.3 698.2,580.4 687.5,594.7 676.7,605.4 662.4,609.0 648.1,616.2 644.5,587.5 648.1,569.6 644.5,551.7"/>
</g>
<g fill="#EEAA00"><!-- CO O -->
<polygon points="669.6,583.9 683.9,587.5 680.3,598.3 666.0,605.4 655.2,601.9"/>
<polygon points="644.5,532.0 683.9,531.1 669.6,537.3 646.3,539.1"/>
</g>
<g fill="#CD0000"><!-- CO R -->
<polygon points="649.9,546.3 669.6,541.8 694.7,540.0 691.1,555.3 683.9,573.2 669.6,583.0 649.9,579.5"/>
</g>
<g fill="#CD0000"><!-- UT R -->
<polygon points="486.8,576.8 501.1,580.4 515.4,587.5 537.0,583.9 537.0,666.4 465.3,666.4 468.9,652.0 476.0,641.3 474.2,623.4 477.8,605.4 483.2,591.1"/>
<polygon points="497.5,546.3 515.4,542.7 537.0,540.9 537.0,569.6 522.6,569.6 511.9,566.0 504.7,573.2 497.5,562.4"/>
</g>
<g fill="#EEAA00"><!-- UT O -->
<polygon points="483.2,532.0 526.2,531.1 528.0,540.9 504.7,541.8 485.0,540.0"/>
</g>
<g fill="#F9E300"><!-- UT Y -->
<polygon points="486.8,532.9 522.6,532.3 523.5,538.2 487.7,538.2"/>
</g>
<g fill="#D83900"><!-- UT RO -->
<polygon points="490.4,533.8 515.4,533.4 516.3,537.0 491.3,537.0"/>
<polygon points="501.1,551.7 515.4,548.1 519.0,558.9 504.7,564.2"/>
</g>
<g fill="#D83900"><!-- NV RO -->
<polygon points="252.7,514.2 280.8,510.2 300.8,522.3 320.9,530.3 335.0,534.3 339.0,546.4 320.9,554.4 300.8,562.4 280.8,554.4 268.7,538.3 256.7,530.3"/>
</g>
<g fill="#EEAA00"><!-- UT O -->
<polygon points="437.4,542.3 457.4,542.3 461.4,566.4 445.4,574.5 435.4,562.4"/>
</g>
<g fill="#4B939F"><!-- speck T -->
<polygon points="190.7,293.6 189.3,291.8 191.4,288.3 193.6,288.2 194.7,291.6 192.3,294.3"/>
<polygon points="189.1,311.5 189.8,309.7 191.2,306.3 195.0,306.1 196.0,307.8 194.6,310.0 192.1,312.5"/>
<polygon points="199.0,328.2 199.0,325.8 201.5,322.6 205.2,322.2 206.0,323.5 205.0,326.3 202.9,328.3"/>
<polygon points="171.7,278.3 171.4,276.0 175.3,272.3 177.1,274.2 174.9,278.5"/>
<polygon points="182.8,339.5 183.0,337.4 184.9,333.6 188.7,332.9 188.8,335.9 185.9,338.8"/>
<polygon points="232.6,306.6 231.5,305.1 233.3,301.1 234.9,302.2 235.1,305.5"/>
<polygon points="176.6,256.9 176.7,254.4 177.6,250.1 183.2,251.9 183.5,254.6 179.8,259.0"/>
<polygon points="233.6,262.3 232.8,261.3 234.1,259.5 235.2,259.7 236.0,259.7 236.3,261.5 235.2,262.1"/>
<polygon points="230.7,281.7 229.8,277.7 233.0,272.4 236.4,272.9 234.2,279.6"/>
<polygon points="188.0,264.8 185.8,263.2 187.4,258.9 190.5,256.8 193.8,258.5 191.9,264.0"/>
<polygon points="207.5,292.7 206.0,287.1 210.4,284.8 213.3,290.3 211.2,294.2"/>
<polygon points="218.5,326.1 217.6,323.1 220.1,320.2 223.4,320.0 221.5,324.2"/>
<polygon points="228.1,324.4 226.0,319.7 229.0,314.7 236.2,313.0 235.0,319.2 230.7,324.3"/>
<polygon points="124.4,342.1 122.8,338.6 121.0,334.6 125.5,329.2 129.6,330.6 129.3,336.3 128.1,341.2"/>
<polygon points="114.0,323.4 115.2,318.4 120.6,318.1 122.1,320.3 117.9,324.2"/>
<polygon points="114.1,299.4 110.3,296.4 111.6,285.9 115.5,285.4 119.7,287.8 118.9,296.6"/>
<polygon points="423.9,329.5 425.3,325.6 430.5,320.6 433.0,321.1 432.1,325.0 427.6,329.1"/>
<polygon points="455.5,304.3 454.2,300.8 456.3,297.8 460.7,297.1 460.7,301.1 459.5,304.1"/>
<polygon points="453.0,268.3 455.4,262.2 459.4,258.4 463.4,259.0 457.9,267.7"/>
<polygon points="380.7,303.1 380.3,302.3 382.6,299.5 385.6,297.9 387.3,299.3 385.4,302.5 383.1,303.5"/>
<polygon points="417.7,326.9 420.7,321.0 427.7,316.9 430.8,317.8 422.9,324.9"/>
<polygon points="455.5,296.2 454.8,291.6 458.6,283.9 463.3,283.8 460.1,293.8"/>
<polygon points="453.9,309.1 452.8,304.9 453.6,300.5 456.7,298.6 456.8,305.7"/>
<polygon points="356.8,270.8 356.2,269.2 358.6,266.6 361.0,267.2 361.7,269.8 359.2,271.6"/>
<polygon points="421.3,282.0 422.2,279.4 423.4,276.9 426.2,274.9 426.6,276.1 425.9,277.7 423.9,281.2"/>
<polygon points="430.6,306.0 431.0,303.6 431.7,301.3 433.5,299.1 435.6,300.5 434.9,301.9 432.3,306.5"/>
<polygon points="344.7,289.3 342.8,287.6 344.3,282.5 347.4,279.1 347.7,283.0 348.1,286.4"/>
<polygon points="453.8,262.6 452.5,261.4 453.1,257.9 453.9,256.3 455.9,256.0 456.8,258.5 456.1,261.3"/>
<polygon points="421.3,328.5 419.8,327.6 422.8,323.6 424.3,324.6 425.7,325.8 423.3,328.9"/>
<polygon points="361.7,262.5 362.1,260.3 366.5,255.6 370.6,255.1 369.6,258.8 366.1,262.1"/>
<polygon points="447.7,325.6 445.8,324.7 447.1,321.9 449.8,322.4 450.6,324.4"/>
<polygon points="450.6,330.0 450.7,328.4 452.5,327.0 454.5,325.9 454.3,327.6 453.7,328.9 452.0,330.2"/>
<polygon points="403.7,318.2 402.4,316.9 403.8,314.2 405.1,315.6 405.4,317.5"/>
<polygon points="445.0,269.8 446.0,265.7 450.0,261.9 453.6,260.5 453.2,262.6 450.9,267.3 448.4,270.1"/>
<polygon points="413.7,282.0 411.0,280.6 412.7,276.4 413.8,275.7 416.3,275.0 416.5,278.8 415.5,281.3"/>
<polygon points="448.4,335.3 446.6,332.3 447.0,329.1 448.4,325.2 449.2,326.2 450.0,329.6 449.5,332.2"/>
<polygon points="420.2,278.9 419.2,277.2 421.0,275.7 422.8,275.8 423.7,276.9 423.3,277.8 421.5,279.5"/>
<polygon points="413.6,265.7 412.6,263.2 414.0,257.6 415.6,259.6 415.9,262.2"/>
<polygon points="430.8,299.3 430.6,297.6 431.9,292.5 433.3,291.9 434.1,292.6 434.2,295.3 432.9,298.2"/>
<polygon points="395.9,273.4 396.3,271.9 398.0,270.4 399.8,271.5 398.2,273.4"/>
<polygon points="461.0,278.8 459.8,278.5 461.6,274.6 464.9,271.5 466.3,272.0 464.6,275.6 462.6,278.2"/>
<polygon points="383.2,263.0 383.6,260.8 384.8,258.9 386.4,258.5 388.7,258.9 387.0,261.1 384.5,263.1"/>
<polygon points="407.0,303.0 406.5,301.8 408.2,299.5 409.1,299.7 409.8,301.4 408.8,303.2"/>
<polygon points="438.5,299.8 437.5,298.2 440.1,294.6 443.0,292.9 444.6,294.3 443.4,297.2 441.8,299.4"/>
<polygon points="438.3,305.9 439.0,304.1 441.3,303.2 442.9,304.0 441.3,306.0"/>
<polygon points="419.6,316.5 419.0,314.4 421.7,312.3 423.7,314.6 422.1,316.7"/>
<polygon points="342.4,271.0 341.7,268.5 343.1,266.5 346.0,265.1 346.8,266.2 344.7,269.5"/>
<polygon points="401.4,291.6 402.3,288.7 405.6,287.2 407.2,287.6 407.5,290.7 405.1,292.1"/>
<polygon points="456.8,310.4 455.7,307.5 458.6,306.2 460.2,308.3 459.6,310.4"/>
<polygon points="400.8,308.7 398.7,306.2 400.7,302.9 402.9,303.8 402.5,306.3"/>
<polygon points="378.9,357.0 378.1,353.4 380.4,348.3 381.2,346.4 384.5,347.7 383.9,352.2 382.2,355.9"/>
<polygon points="424.8,399.7 423.5,397.7 423.5,394.9 424.9,392.8 426.5,393.2 427.5,394.9 427.0,398.0"/>
<polygon points="349.7,360.3 349.7,357.9 354.6,354.4 358.8,352.7 356.8,357.4 352.5,361.1"/>
<polygon points="463.4,406.3 461.5,403.7 467.0,399.2 468.8,399.9 466.5,404.6"/>
<polygon points="350.3,401.3 349.2,399.6 350.1,397.9 352.5,398.4 351.7,401.5"/>
<polygon points="382.2,441.8 381.0,438.7 382.0,437.3 384.6,437.7 383.7,440.3"/>
<polygon points="390.4,422.9 388.5,419.5 388.6,416.7 390.2,412.5 392.4,415.5 391.7,420.2"/>
<polygon points="476.5,346.2 475.2,342.3 477.4,337.0 479.8,338.9 479.2,344.0"/>
<polygon points="366.9,425.7 368.2,422.5 369.2,421.9 372.1,419.7 372.9,421.5 372.4,423.3 368.9,425.4"/>
<polygon points="380.4,349.1 379.3,347.2 381.0,345.1 383.8,344.8 383.7,347.2 381.5,348.8"/>
<polygon points="391.3,378.0 391.0,374.3 393.2,370.8 395.1,367.5 397.3,368.4 396.7,372.3 395.1,375.1"/>
<polygon points="365.6,432.9 366.2,429.0 370.3,423.9 373.1,421.5 374.0,424.4 369.2,430.6"/>
<polygon points="398.9,389.9 398.7,388.5 401.8,381.8 404.0,380.6 405.0,382.4 404.9,384.1 402.2,388.1"/>
<polygon points="440.2,365.7 442.5,361.9 445.6,359.8 446.2,362.2 443.1,365.6"/>
<polygon points="374.2,423.1 373.4,421.0 375.1,417.9 376.2,419.1 376.0,421.4"/>
<polygon points="391.5,415.6 390.1,413.2 391.6,407.6 394.0,407.9 394.5,413.2"/>
<polygon points="468.5,409.0 467.9,406.1 470.7,403.5 472.7,405.3 471.7,408.4"/>
<polygon points="431.6,423.6 431.7,422.7 432.0,420.8 432.9,419.8 434.0,420.9 434.7,422.2 433.6,423.5"/>
<polygon points="336.8,389.2 337.8,385.1 341.3,381.1 346.2,378.2 345.9,381.2 344.6,385.0 341.2,387.4"/>
<polygon points="448.8,371.3 450.1,367.5 452.1,364.7 454.3,365.8 451.2,371.0"/>
<polygon points="443.4,362.6 443.1,359.8 446.0,357.2 449.9,356.1 448.9,359.1 445.7,362.1"/>
<polygon points="417.7,435.2 418.4,432.5 420.7,429.8 421.6,430.7 420.6,433.8"/>
<polygon points="432.2,366.5 430.1,363.9 429.9,358.3 433.8,354.0 434.6,354.9 436.4,357.9 434.4,363.9"/>
<polygon points="384.5,440.9 383.8,437.5 386.4,434.7 390.5,431.8 391.2,433.9 389.1,436.9 387.1,439.5"/>
<polygon points="466.0,364.3 462.9,363.2 464.5,360.0 467.3,359.8 468.8,363.2"/>
<polygon points="340.3,379.4 339.3,377.9 344.0,372.6 345.6,371.6 348.0,372.8 345.0,377.0 343.5,378.2"/>
<polygon points="368.4,383.2 368.1,381.6 369.5,378.9 370.9,377.9 372.5,378.2 372.1,381.5 370.9,382.9"/>
<polygon points="424.3,423.6 427.4,418.4 432.4,416.3 433.0,419.7 428.8,423.2"/>
<polygon points="305.1,406.3 301.7,405.9 301.5,402.2 304.1,401.1 306.2,404.5"/>
<polygon points="190.8,463.3 188.8,460.7 189.1,457.2 193.2,458.7 193.7,462.8"/>
<polygon points="290.3,395.1 286.2,393.5 283.3,390.9 284.1,385.8 287.3,385.6 289.5,386.9 290.8,392.9"/>
<polygon points="216.5,481.4 219.0,476.8 223.0,476.1 224.4,481.2 219.4,483.3"/>
<polygon points="198.9,377.6 195.9,374.5 198.7,369.8 201.6,369.5 203.1,373.9 201.8,375.8"/>
<polygon points="272.3,391.1 268.7,386.6 270.7,385.2 273.3,382.9 276.5,384.1 277.6,386.7 274.8,391.4"/>
<polygon points="260.4,425.3 257.2,423.1 255.3,419.8 258.6,416.1 261.3,417.3 261.5,422.9"/>
<polygon points="260.9,475.9 256.5,472.3 256.6,467.2 260.3,459.4 262.9,463.7 264.6,467.9 262.3,472.7"/>
<polygon points="163.5,483.6 162.5,478.7 167.4,474.3 172.6,476.2 168.5,483.8"/>
<polygon points="235.4,378.9 234.1,377.4 233.9,375.3 234.3,374.3 236.1,374.4 237.7,375.9 237.8,377.6"/>
<polygon points="234.8,462.3 231.7,462.0 229.7,461.5 227.5,459.5 229.3,457.7 232.0,457.7 233.4,459.5"/>
<polygon points="192.1,405.2 194.4,398.2 197.3,398.1 202.0,400.0 200.9,403.6 196.5,405.0"/>
<polygon points="202.9,375.9 198.7,378.0 194.2,378.8 188.6,377.6 190.2,373.7 193.7,373.1 198.7,373.5"/>
<polygon points="195.9,452.1 194.2,453.9 188.9,453.3 186.9,451.4 190.0,449.3 194.5,449.9"/>
<polygon points="253.6,469.2 253.0,466.8 253.7,461.3 257.5,458.5 259.1,462.5 258.3,467.0"/>
<polygon points="140.5,425.9 140.2,423.6 141.9,422.2 143.6,422.2 144.9,424.6 144.0,426.4 141.1,427.4"/>
<polygon points="158.7,438.2 159.6,435.8 163.0,433.8 165.6,433.5 164.3,437.0 160.9,439.0"/>
<polygon points="168.5,369.3 166.6,366.9 167.6,362.4 171.5,359.2 173.9,362.3 175.2,364.8 173.2,368.1"/>
<polygon points="279.8,382.4 282.0,376.9 288.2,373.1 289.9,377.7 286.6,381.5"/>
<polygon points="144.6,409.8 143.8,407.0 144.8,404.9 148.2,404.0 148.7,405.6 147.3,409.5"/>
<polygon points="235.6,451.1 230.4,452.0 227.5,450.0 228.9,446.2 232.7,445.2 237.5,448.4"/>
<polygon points="245.8,479.6 244.4,480.7 241.2,480.9 240.5,477.3 242.6,476.7 245.3,477.5"/>
<polygon points="156.1,421.5 155.3,418.9 156.1,416.1 158.3,416.2 160.4,418.9 158.8,420.9"/>
<polygon points="231.6,399.1 231.9,397.4 234.2,396.1 235.4,397.2 234.0,399.3"/>
<polygon points="195.2,479.9 191.4,482.3 188.3,480.3 190.0,477.4 192.5,476.7"/>
<polygon points="292.6,476.9 289.4,477.5 286.3,474.7 286.8,473.0 288.3,472.4 291.1,474.1"/>
<polygon points="294.8,451.9 297.0,448.7 300.9,447.5 302.6,448.8 302.8,452.9 300.6,453.9 297.3,453.9"/>
<polygon points="145.3,379.0 144.0,375.2 144.3,371.0 147.0,367.0 149.8,369.6 150.9,372.2 148.0,376.9"/>
<polygon points="198.6,390.7 195.0,389.6 194.1,385.9 196.9,384.9 198.5,387.6"/>
<polygon points="202.3,385.3 198.7,384.8 197.6,380.8 201.2,378.7 203.6,381.8"/>
<polygon points="145.1,370.0 141.6,371.1 137.4,369.3 137.9,364.6 143.2,364.2"/>
<polygon points="158.9,423.5 156.7,427.9 146.1,427.9 143.3,423.6 146.7,421.7 154.7,419.4"/>
<polygon points="275.1,449.8 272.8,448.1 276.8,441.6 280.7,441.6 282.1,445.2 278.1,449.7"/>
<polygon points="451.7,268.5 449.7,265.1 456.1,261.7 459.7,263.1 455.6,268.4"/>
<polygon points="469.4,308.2 466.5,312.5 455.8,309.5 455.1,305.1 469.2,301.8"/>
<polygon points="459.1,337.4 454.4,340.7 448.3,341.0 445.2,338.6 444.1,334.8 451.4,331.7 456.2,335.3"/>
<polygon points="519.9,333.6 519.0,330.5 522.9,324.9 528.1,325.3 530.7,327.5 526.9,333.7 524.3,334.3"/>
<polygon points="438.2,361.6 435.6,360.4 435.4,358.0 435.9,356.9 438.1,357.4 438.7,359.2"/>
<polygon points="447.0,362.5 443.1,354.5 445.1,349.5 450.2,349.2 450.4,358.3"/>
<polygon points="512.8,377.1 511.6,379.3 506.7,376.2 505.4,373.5 506.9,369.8 510.6,370.5 514.4,372.3"/>
<polygon points="451.2,321.2 448.9,313.2 453.1,308.0 460.0,309.6 459.9,315.0 457.8,318.2"/>
<polygon points="468.8,312.6 463.6,316.0 454.2,311.4 453.1,306.3 462.3,307.7"/>
<polygon points="499.7,353.0 500.5,350.4 503.3,347.8 505.5,346.5 506.3,348.4 506.1,350.5 502.2,354.3"/>
<polygon points="470.6,361.5 465.9,365.3 458.3,362.1 459.2,356.9 466.7,356.5"/>
<polygon points="485.3,328.7 482.5,327.9 477.0,325.6 475.5,320.9 480.9,321.0 484.8,323.9"/>
<polygon points="447.5,329.2 451.6,321.5 455.0,315.3 464.2,313.8 463.4,318.4 460.0,325.7 457.0,330.7"/>
<polygon points="512.8,353.8 509.5,353.5 506.7,348.3 509.7,346.2 515.0,349.7"/>
<polygon points="497.5,374.4 493.5,373.9 491.8,368.8 493.0,366.1 495.7,366.7 497.2,371.0"/>
<polygon points="471.1,367.6 471.8,363.5 476.4,362.0 483.3,361.3 487.0,365.4 482.1,369.8 475.3,370.6"/>
<polygon points="431.2,259.2 428.5,260.2 427.4,254.9 432.0,250.2 434.6,252.0 435.2,255.9 433.8,258.8"/>
<polygon points="436.6,383.7 431.2,386.1 424.6,381.3 428.8,374.5 434.9,377.8"/>
<polygon points="448.3,333.3 441.5,335.6 434.1,327.0 435.2,324.4 441.4,323.3 446.8,327.3"/>
<polygon points="433.6,290.1 433.0,285.0 437.3,281.3 439.0,283.2 437.2,289.2"/>
<polygon points="510.6,313.4 510.6,310.4 511.6,307.9 514.0,307.4 516.2,309.2 515.3,312.5 510.8,314.7"/>
<polygon points="445.0,352.6 446.8,351.3 448.8,350.7 451.0,351.4 450.3,354.7 447.6,354.9"/>
<polygon points="501.0,370.8 501.2,368.5 503.6,365.5 504.9,367.0 503.9,369.2"/>
<polygon points="502.4,343.3 502.4,341.2 503.7,337.8 506.7,336.7 508.0,338.7 507.0,341.7 504.9,343.4"/>
<polygon points="457.8,280.5 450.0,280.9 440.0,276.4 440.9,270.8 442.1,266.2 447.6,269.6 458.1,276.6"/>
<polygon points="491.3,377.4 489.2,378.4 485.6,377.7 485.2,374.6 485.6,373.7 489.2,373.2 490.9,374.2"/>
<polygon points="488.4,368.2 484.8,367.0 483.7,363.5 483.9,359.9 488.0,358.1 489.3,360.9 490.8,366.0"/>
<polygon points="434.7,388.8 432.0,387.8 429.0,383.3 431.2,382.5 435.0,385.0"/>
<polygon points="523.0,347.6 521.4,346.8 521.3,344.6 522.2,344.0 524.0,344.5 524.2,347.0"/>
<polygon points="431.7,390.1 428.8,389.5 427.8,383.1 430.2,381.5 433.6,384.3"/>
<polygon points="488.6,303.4 486.9,298.3 490.1,294.1 494.4,295.9 491.8,301.2"/>
<polygon points="430.0,363.3 431.6,359.7 434.1,359.4 438.2,361.2 439.0,363.9 435.2,365.3 432.9,364.7"/>
<polygon points="440.7,316.3 437.7,312.7 436.0,304.7 439.7,300.1 444.0,303.9 444.7,311.7"/>
<polygon points="530.2,373.6 528.5,374.0 527.9,373.2 528.0,371.6 529.1,370.8 530.6,372.8"/>
<polygon points="533.4,346.8 530.2,347.0 526.5,343.4 526.8,339.5 529.4,339.5 534.0,344.1"/>
<polygon points="496.1,321.0 494.6,316.5 495.8,313.9 498.4,313.8 501.0,316.8 499.1,319.4"/>
<polygon points="474.4,283.8 469.4,285.9 461.5,284.9 460.7,278.5 463.3,275.3 470.8,277.8"/>
<polygon points="431.0,300.8 427.5,302.6 423.8,300.8 424.3,295.7 429.8,295.9"/>
<polygon points="502.3,266.4 497.0,263.8 493.0,255.1 497.3,251.3 505.1,259.6"/>
<polygon points="522.2,336.4 520.0,335.6 518.8,331.1 520.0,330.6 521.2,329.8 523.6,331.2 523.3,334.6"/>
<polygon points="530.8,275.2 524.8,272.6 520.4,264.2 522.5,262.1 527.8,264.1 530.6,270.0"/>
<polygon points="341.1,548.4 335.0,546.3 331.0,537.4 333.6,532.8 337.2,534.2 341.5,542.8"/>
<polygon points="332.8,527.0 330.8,528.4 331.0,520.7 335.8,510.6 337.1,513.7 337.5,522.1 335.5,529.4"/>
<polygon points="327.7,591.2 324.3,587.7 324.3,581.8 326.3,580.7 330.1,583.5 330.3,589.5"/>
<polygon points="388.9,529.4 382.7,528.7 377.5,517.0 381.5,511.5 389.4,522.7"/>
<polygon points="292.8,524.4 290.8,521.6 292.6,517.3 294.4,513.9 298.4,515.5 300.2,519.1 297.0,522.9"/>
<polygon points="312.4,584.0 310.3,583.0 309.0,580.1 308.2,577.3 311.2,578.6 313.4,581.8"/>
<polygon points="333.3,591.5 330.7,589.9 333.4,580.8 335.9,581.5 335.7,589.0"/>
<polygon points="339.6,558.7 338.5,558.3 337.1,554.8 337.1,552.2 338.7,552.4 340.6,554.2 340.7,556.7"/>
<polygon points="537.7,529.6 535.0,530.6 531.1,529.9 528.8,527.3 529.0,524.3 533.4,524.6 538.1,526.3"/>
<polygon points="507.1,562.8 507.8,556.7 513.8,553.4 516.0,556.6 513.5,561.1"/>
<polygon points="526.3,544.9 523.7,542.9 524.6,539.2 527.2,537.2 529.6,538.1 529.4,542.5"/>
<polygon points="476.0,621.7 477.5,617.6 479.2,614.4 481.3,616.0 482.4,618.2 481.1,621.4"/>
<polygon points="495.7,623.7 491.8,623.1 491.7,619.9 494.8,617.3 496.8,621.3"/>
<polygon points="500.4,529.6 499.4,527.5 499.9,525.1 502.9,523.0 505.3,523.2 504.8,526.1 503.2,528.4"/>
<polygon points="473.1,504.4 470.9,500.9 472.2,495.2 477.4,496.5 476.6,503.7"/>
<polygon points="480.6,511.5 476.8,514.0 472.0,513.5 467.0,510.8 472.7,508.3 479.7,509.2"/>
<polygon points="499.8,502.2 495.7,503.7 486.4,503.0 485.1,498.8 490.1,497.4 494.3,496.7"/>
<polygon points="529.4,526.3 528.6,523.2 529.7,521.4 532.8,520.9 533.6,522.0 533.1,525.4"/>
<polygon points="504.7,503.0 506.0,500.3 510.0,500.7 510.8,503.5 506.8,504.7"/>
<polygon points="455.3,546.4 452.9,545.4 450.8,540.5 454.8,539.9 456.9,542.9"/>
<polygon points="229.6,582.1 227.2,581.6 226.5,579.2 228.4,578.0 230.0,580.2"/>
<polygon points="244.0,626.3 242.1,626.4 238.8,624.6 239.9,621.9 241.9,620.9 243.7,623.0"/>
<polygon points="203.5,568.4 201.5,566.9 199.6,563.5 200.5,562.3 203.9,561.6 204.7,564.3 205.2,566.6"/>
<polygon points="270.2,662.5 267.7,661.4 268.6,658.9 270.7,657.4 271.5,660.0"/>
<polygon points="276.7,687.0 275.5,686.7 273.7,684.2 273.5,682.9 275.0,681.7 277.3,683.6 277.7,685.0"/>
<polygon points="288.7,700.5 286.3,700.0 285.5,698.4 285.9,696.6 287.3,696.3 289.0,696.4 289.6,699.1"/>
<polygon points="285.3,708.6 282.5,708.1 280.0,706.9 280.1,704.5 282.4,703.6 285.1,705.7"/>
<polygon points="272.8,718.6 270.8,719.1 270.6,718.1 270.3,716.8 272.1,716.0 273.1,716.7"/>
<polygon points="262.0,654.1 258.2,653.1 257.6,649.2 260.3,649.3 262.2,652.0"/>
<polygon points="204.8,568.5 201.1,568.0 199.4,565.0 198.9,563.1 199.9,561.4 202.7,564.3 204.5,566.0"/>
<polygon points="207.2,577.7 205.8,578.0 205.0,576.7 206.5,575.2 207.7,575.7 208.0,576.3"/>
<polygon points="276.2,689.6 275.2,689.2 274.1,684.9 275.1,683.7 276.5,683.1 277.9,685.1 277.5,688.0"/>
<polygon points="273.2,689.4 270.5,688.5 269.9,685.3 272.4,684.8 274.3,687.5"/>
<polygon points="217.5,567.7 216.0,567.7 214.4,566.6 215.5,564.4 217.1,565.4 218.3,566.7"/>
<polygon points="234.0,629.3 231.6,626.7 230.9,622.0 233.3,622.5 235.2,625.8"/>
<polygon points="284.3,719.6 282.4,718.3 281.6,716.5 281.3,714.5 282.8,714.9 284.0,715.7 284.6,718.0"/>
<polygon points="226.9,574.7 224.7,574.6 224.1,572.2 225.9,569.9 228.0,571.9"/>
<polygon points="282.0,707.8 279.9,707.8 278.3,706.4 278.0,704.0 279.0,703.1 281.7,705.0 282.2,706.1"/>
<polygon points="278.7,687.1 275.2,685.1 275.6,681.3 278.5,679.8 279.3,684.1"/>
<polygon points="1578.5,415.7 1575.1,411.2 1575.1,406.6 1577.2,405.4 1579.1,411.1"/>
<polygon points="1590.3,438.7 1588.6,437.0 1589.2,434.3 1591.1,433.1 1592.9,434.1 1592.2,437.0"/>
<polygon points="1575.2,391.0 1571.4,388.4 1572.4,383.1 1573.5,380.6 1575.5,384.1 1575.8,389.0"/>
<polygon points="1596.5,442.8 1592.0,438.2 1593.3,429.9 1596.7,431.4 1598.4,438.6"/>
<polygon points="1550.7,394.9 1547.3,390.5 1546.7,386.2 1548.8,385.5 1552.5,391.4"/>
<polygon points="1590.3,412.9 1588.6,412.4 1588.8,409.9 1589.5,409.0 1591.3,408.1 1592.7,411.2 1591.6,413.0"/>
<polygon points="498.4,455.4 496.7,458.5 491.2,457.5 490.2,454.3 494.8,453.5"/>
<polygon points="518.2,404.5 516.2,404.5 515.2,402.8 515.3,400.8 516.9,400.7 517.8,401.5"/>
<polygon points="496.6,443.2 494.5,441.9 494.5,436.9 496.6,434.7 499.4,437.6 500.5,439.5 498.2,443.2"/>
<polygon points="486.0,477.3 487.8,475.5 492.3,475.1 495.9,476.4 495.3,478.6 491.8,479.6 488.0,480.1"/>
<polygon points="529.7,398.9 526.1,400.2 524.2,396.9 526.3,394.2 529.4,394.9"/>
<polygon points="518.6,418.7 517.6,416.1 519.4,413.8 522.0,415.4 521.2,418.0"/>
<polygon points="500.7,401.8 498.4,399.2 500.1,395.5 502.6,397.1 502.5,400.3"/>
<polygon points="501.8,429.4 503.4,427.0 505.6,426.7 507.8,427.8 505.9,429.5 503.4,430.2"/>
<polygon points="535.5,403.2 533.5,403.4 531.4,401.7 533.2,400.4 535.8,401.0"/>
<polygon points="515.0,403.4 512.5,402.2 510.0,396.7 511.3,395.5 513.7,393.9 516.5,397.9 516.7,401.2"/>
<polygon points="491.5,415.9 491.0,414.8 490.7,413.0 493.2,411.3 495.4,410.7 494.7,414.2 493.3,416.8"/>
<polygon points="1661.1,353.3 1659.9,350.7 1661.7,346.3 1663.7,346.7 1665.2,350.2 1663.1,352.0"/>
<polygon points="1647.1,380.6 1644.4,379.8 1643.8,376.5 1645.5,373.5 1648.8,373.5 1649.7,378.8"/>
<polygon points="1623.5,427.4 1618.4,428.1 1614.4,422.4 1615.4,418.9 1623.4,424.0"/>
<polygon points="1651.6,412.0 1653.1,410.3 1655.8,408.6 1658.4,408.4 1657.7,411.0 1654.5,412.2"/>
<polygon points="1692.9,393.7 1691.8,392.6 1691.9,390.5 1692.5,389.4 1694.2,389.3 1694.6,391.0 1694.0,392.9"/>
<polygon points="1673.8,398.2 1674.7,396.0 1675.5,393.7 1679.5,393.3 1681.2,394.9 1680.3,397.9 1675.6,398.8"/>
<polygon points="1630.6,371.2 1629.0,370.8 1628.9,368.7 1630.2,367.3 1632.3,368.1 1632.2,370.8"/>
<polygon points="1628.9,388.7 1635.3,382.4 1641.2,383.0 1641.9,386.3 1637.9,388.8"/>
<polygon points="1665.8,415.8 1663.2,414.9 1661.3,413.0 1661.7,409.8 1663.3,407.6 1666.4,409.2 1666.6,413.8"/>
<polygon points="1671.6,356.1 1670.4,355.0 1670.6,351.3 1672.5,352.8 1673.3,355.0"/>
<polygon points="1627.8,410.9 1627.6,408.3 1627.6,406.5 1630.8,406.6 1631.6,408.3 1631.7,411.4 1630.1,411.9"/>
<polygon points="1664.8,411.2 1663.6,412.8 1660.1,409.6 1660.3,408.1 1661.6,406.1 1664.2,406.7 1665.4,408.9"/>
<polygon points="1643.4,398.2 1643.0,395.0 1645.7,392.2 1649.7,391.2 1651.0,393.1 1648.0,397.2 1646.4,397.9"/>
<polygon points="1669.8,362.2 1667.9,361.4 1668.0,358.4 1670.0,357.9 1671.8,359.6"/>
<polygon points="1645.5,408.0 1648.8,403.8 1653.5,403.7 1654.7,408.7 1649.5,409.9"/>
<polygon points="546.1,280.1 546.1,277.8 549.1,277.3 550.5,278.9 548.4,280.5"/>
<polygon points="567.4,335.1 566.7,333.9 566.5,331.8 568.2,328.8 568.7,330.1 569.0,332.2 569.0,333.9"/>
<polygon points="569.6,341.6 569.4,339.2 575.7,335.7 577.7,337.6 577.0,341.7 571.5,343.1"/>
<polygon points="570.7,309.7 567.9,310.3 566.0,308.6 565.7,305.0 569.4,305.8 572.1,308.0"/>
<polygon points="669.9,296.0 668.3,290.9 672.7,286.4 677.8,287.3 675.6,293.0"/>
<polygon points="641.6,303.3 640.5,301.9 642.6,299.8 643.4,301.1 642.7,303.1"/>
<polygon points="655.9,276.2 654.5,277.7 651.5,276.5 650.3,274.4 651.0,271.6 653.4,271.7 656.4,274.0"/>
<polygon points="644.9,282.0 647.9,279.4 651.2,278.3 651.8,280.8 648.4,283.4"/>
<polygon points="657.5,357.5 664.0,354.5 669.7,354.5 669.3,359.3 663.8,362.5"/>
<polygon points="620.1,373.2 621.9,369.3 626.6,369.1 629.0,371.1 628.8,373.9 624.0,375.5"/>
</g>
<g fill="#B2D144"><!-- speck G -->
<polygon points="238.4,310.2 238.4,307.7 240.1,304.9 241.8,304.5 243.3,307.1 241.3,309.3"/>
<polygon points="177.2,274.7 176.2,273.1 175.8,272.3 177.3,271.0 178.9,271.2 179.6,272.6 178.6,275.2"/>
<polygon points="229.1,264.3 229.4,260.5 232.4,257.2 237.1,255.5 236.3,260.5 232.7,262.8"/>
<polygon points="171.9,318.1 171.0,316.5 173.6,310.8 177.2,310.0 178.8,311.0 178.6,315.1 175.1,317.8"/>
<polygon points="233.8,306.2 233.2,303.4 236.0,297.1 239.4,297.4 240.0,301.1 236.6,305.5"/>
<polygon points="208.0,305.9 206.4,304.4 207.1,302.2 210.1,302.5 210.9,304.0 209.3,306.2"/>
<polygon points="164.2,269.9 162.5,268.5 162.3,262.1 165.4,259.9 168.3,261.5 169.1,265.1 167.7,267.6"/>
<polygon points="202.2,337.1 202.8,333.8 206.2,331.9 208.6,333.9 206.6,338.5"/>
<polygon points="184.6,313.8 183.3,313.5 182.9,311.3 183.7,309.9 185.5,310.9 186.4,312.0 185.9,313.9"/>
<polygon points="232.4,284.2 231.8,280.5 234.5,276.2 238.6,276.1 237.9,279.5 236.1,282.0"/>
<polygon points="225.0,321.7 222.5,320.6 222.2,317.2 224.5,314.7 227.0,315.5 229.0,318.6 227.3,321.2"/>
<polygon points="220.3,304.6 220.2,301.8 223.5,299.5 224.5,300.7 222.9,303.1"/>
<polygon points="242.3,271.8 241.0,268.0 244.1,263.6 246.6,262.9 247.0,265.6 245.2,268.9"/>
<polygon points="199.2,335.1 200.3,332.4 202.8,331.8 203.9,333.0 202.3,335.6"/>
<polygon points="164.6,288.4 162.5,286.8 164.5,283.5 168.9,281.3 170.5,283.0 169.2,286.5 165.7,289.2"/>
<polygon points="183.2,275.7 182.6,271.2 186.5,261.3 189.1,266.5 188.9,272.6"/>
<polygon points="211.1,332.5 209.1,325.6 210.0,320.4 215.9,321.2 215.2,326.9"/>
<polygon points="194.6,343.0 194.5,338.7 197.2,338.7 200.3,339.8 198.7,344.5"/>
<polygon points="223.9,320.5 224.2,316.6 224.5,313.5 227.4,311.3 231.0,310.6 231.6,314.9 229.0,318.4"/>
<polygon points="196.0,279.4 195.3,276.0 199.0,271.5 200.6,273.8 199.8,278.9"/>
<polygon points="229.3,297.4 230.5,293.1 233.5,290.9 235.4,293.1 232.8,296.4"/>
<polygon points="215.0,306.2 215.2,303.7 216.9,301.8 219.6,303.3 217.9,306.1"/>
<polygon points="168.0,263.2 166.2,261.3 168.2,258.9 171.7,260.5 170.4,262.9"/>
<polygon points="208.8,319.8 207.0,316.7 210.0,311.4 214.1,310.6 217.9,312.5 215.3,318.6 212.0,319.4"/>
<polygon points="194.1,266.7 194.0,264.8 195.4,263.3 197.5,262.2 197.6,264.5 196.1,267.2"/>
<polygon points="187.9,322.7 186.7,322.7 186.5,318.0 187.6,315.2 191.2,316.2 192.0,317.9 190.7,323.2"/>
<polygon points="161.1,276.6 159.8,273.9 164.1,271.0 170.2,268.6 171.0,270.2 167.0,276.5 164.7,277.5"/>
<polygon points="182.1,330.6 180.3,329.6 182.5,324.7 183.4,323.6 186.6,323.8 185.4,328.0 184.4,328.8"/>
<polygon points="186.6,272.9 185.0,271.0 186.1,267.0 189.7,265.0 192.1,265.6 192.5,267.7 190.1,271.3"/>
<polygon points="220.9,308.5 218.6,306.1 221.4,303.0 226.4,301.6 226.5,304.6 225.6,307.0 222.1,308.5"/>
<polygon points="203.4,343.9 203.4,341.5 205.7,338.4 208.8,339.4 208.3,342.1 206.3,343.9"/>
<polygon points="171.5,261.8 172.3,258.6 174.3,255.2 179.9,253.9 180.3,257.2 179.9,259.1 175.0,263.2"/>
<polygon points="242.3,290.1 239.3,288.9 240.2,283.4 242.8,282.6 245.6,280.6 247.0,286.5 246.0,289.1"/>
<polygon points="212.1,338.2 209.5,334.0 211.9,332.2 216.1,330.0 217.9,335.3 214.9,337.4"/>
<polygon points="197.7,288.2 196.0,283.9 200.1,279.7 203.8,281.0 201.5,285.8"/>
<polygon points="216.6,280.9 214.4,279.0 215.9,276.5 217.7,275.5 220.4,277.8 218.8,280.2"/>
<polygon points="225.6,317.8 225.7,315.4 230.1,312.6 231.7,314.2 228.5,318.0"/>
<polygon points="165.2,269.5 163.0,268.1 164.4,265.1 166.6,263.4 167.6,266.7 167.9,268.3"/>
<polygon points="207.1,340.0 207.0,337.1 210.0,336.1 213.3,337.2 209.8,341.7"/>
<polygon points="206.2,297.5 206.4,296.4 207.7,294.9 209.0,294.7 209.8,294.9 209.6,296.6 207.3,298.4"/>
<polygon points="208.9,332.7 207.0,329.4 212.4,326.1 217.8,328.7 212.8,335.1"/>
<polygon points="203.1,296.6 204.9,291.7 209.3,287.4 212.5,288.9 213.9,291.7 207.1,296.4"/>
<polygon points="203.3,268.3 203.5,265.0 205.9,260.5 209.4,257.9 211.6,259.7 212.4,264.8 206.7,268.4"/>
<polygon points="214.7,317.4 211.9,314.4 213.9,310.4 215.7,310.3 218.7,312.6 217.7,316.5"/>
<polygon points="211.9,274.4 209.8,268.1 210.9,263.9 215.6,260.5 217.8,263.2 216.0,270.5"/>
<polygon points="188.8,347.8 185.2,341.7 188.9,333.7 193.6,336.5 191.7,343.9"/>
<polygon points="178.5,275.2 177.5,272.1 179.3,270.2 181.2,270.2 182.0,272.0 180.6,274.2"/>
<polygon points="203.6,318.5 202.1,316.5 202.6,314.5 204.5,311.0 206.8,311.9 207.9,313.1 206.3,317.2"/>
<polygon points="184.6,282.7 184.3,281.0 187.2,276.2 194.0,273.4 196.2,277.8 192.3,284.0 189.6,284.5"/>
<polygon points="207.0,265.9 202.8,262.0 206.3,255.9 211.7,256.8 211.0,263.0"/>
<polygon points="222.5,305.3 221.9,300.6 225.0,298.2 227.0,299.6 228.8,305.0 226.7,306.5"/>
<polygon points="215.7,318.1 215.1,315.2 216.1,312.8 219.9,315.2 218.7,316.9"/>
<polygon points="201.2,264.1 199.9,260.7 206.0,255.5 209.1,257.8 205.6,264.9"/>
<polygon points="203.0,273.3 200.6,270.5 202.0,265.3 205.0,262.8 206.5,263.4 207.7,266.6 205.1,270.9"/>
<polygon points="181.0,259.3 181.8,254.8 183.4,252.4 187.5,249.6 188.9,253.2 188.8,257.1 184.5,261.1"/>
<polygon points="204.3,319.3 203.7,316.6 204.5,311.7 207.8,310.0 209.4,313.6 208.2,316.7"/>
<polygon points="180.8,275.5 181.4,273.3 183.3,271.0 185.6,272.3 186.4,273.3 182.5,276.9"/>
<polygon points="142.9,330.8 141.1,332.7 135.1,333.2 133.4,329.9 134.5,328.3 137.2,327.3 142.1,328.3"/>
<polygon points="116.8,316.8 115.9,314.6 116.9,311.6 118.2,310.0 119.3,312.2 118.5,316.1"/>
<polygon points="121.3,338.8 120.2,336.3 121.9,334.0 123.5,334.1 124.1,337.2"/>
<polygon points="144.1,316.0 142.0,311.5 146.4,306.3 152.0,308.1 151.9,312.3 146.8,315.8"/>
<polygon points="116.9,312.9 115.6,312.9 114.1,311.2 114.7,308.8 115.8,308.6 117.3,309.5 118.0,310.5"/>
<polygon points="126.4,317.6 123.2,320.0 119.0,318.4 118.6,316.5 118.1,313.8 121.9,312.8 124.5,313.7"/>
<polygon points="132.8,311.1 130.8,310.6 128.9,303.2 130.5,299.8 132.5,297.5 135.7,302.8 135.9,308.3"/>
<polygon points="127.0,293.1 125.4,289.6 129.1,285.9 133.6,285.0 134.5,289.3 132.7,292.8"/>
<polygon points="138.4,317.6 135.6,318.9 131.0,317.5 129.9,313.0 132.2,312.6 136.1,310.9 138.0,314.2"/>
<polygon points="123.3,299.4 122.2,296.3 125.5,295.1 128.2,296.6 127.3,299.5"/>
<polygon points="386.7,273.7 386.8,271.7 389.7,268.9 392.3,268.8 391.1,271.1 388.7,273.0"/>
<polygon points="369.1,269.6 368.3,268.6 369.3,266.8 371.4,264.8 372.2,265.5 372.3,267.9 371.4,269.6"/>
<polygon points="451.5,290.0 452.3,284.3 455.9,281.3 459.0,283.9 456.4,286.9"/>
<polygon points="364.8,296.6 363.5,295.7 367.0,290.1 370.8,290.5 370.5,293.8 367.6,297.2"/>
<polygon points="340.8,292.0 340.7,290.8 342.2,288.7 344.3,288.6 344.4,291.2 342.4,293.1"/>
<polygon points="368.9,269.9 368.6,267.8 371.7,264.1 374.3,263.0 374.5,264.0 374.4,265.8 370.7,268.8"/>
<polygon points="364.2,278.5 363.1,277.6 364.2,275.2 366.1,276.3 365.8,277.8"/>
<polygon points="460.1,326.8 460.4,322.6 463.4,322.3 465.1,324.7 463.1,326.8"/>
<polygon points="449.2,313.1 448.0,309.9 449.3,306.4 452.5,304.9 453.1,306.0 453.4,309.0 451.5,311.1"/>
<polygon points="368.6,292.7 370.8,290.0 373.8,285.7 376.5,285.2 378.7,287.4 376.0,291.4 372.8,292.5"/>
<polygon points="448.2,284.2 447.4,281.3 447.3,277.9 449.7,273.9 450.9,273.3 451.5,276.5 449.9,281.0"/>
<polygon points="461.6,311.3 460.0,308.7 465.2,305.5 467.6,308.1 465.5,310.8"/>
<polygon points="386.4,308.9 384.8,304.7 386.9,302.0 389.5,302.6 388.7,306.1"/>
<polygon points="324.1,273.7 324.7,269.4 328.1,267.9 332.1,266.9 332.2,270.7 328.1,273.8"/>
<polygon points="438.9,290.4 437.1,288.4 437.5,286.2 438.3,284.7 440.6,285.1 441.9,288.3 440.5,289.7"/>
<polygon points="418.3,321.6 416.7,319.1 417.6,316.6 420.5,314.6 421.5,317.0 421.3,320.1"/>
<polygon points="364.7,260.4 366.1,255.5 368.2,251.0 371.5,251.2 372.0,255.1 369.9,258.4"/>
<polygon points="445.2,321.6 444.3,316.6 448.0,312.9 449.9,313.6 448.4,320.3"/>
<polygon points="376.8,263.1 376.0,261.2 378.6,257.2 382.0,255.6 382.2,258.9 379.4,262.4"/>
<polygon points="428.5,292.5 430.4,288.7 432.8,286.6 434.0,285.7 437.0,285.3 435.2,288.7 432.3,291.3"/>
<polygon points="410.8,269.9 410.9,266.4 412.3,263.9 417.2,259.7 419.0,259.9 417.4,265.5 415.4,269.1"/>
<polygon points="431.8,327.6 429.2,326.9 432.0,318.8 433.2,315.2 435.6,315.7 436.3,323.0 433.1,328.4"/>
<polygon points="335.1,274.5 333.8,271.8 335.6,268.9 339.5,268.0 340.0,271.8 337.5,274.1"/>
<polygon points="405.9,273.0 405.3,270.0 407.0,267.6 410.6,269.1 409.6,271.5"/>
<polygon points="389.5,280.8 389.7,277.7 391.2,274.9 393.3,274.5 395.9,275.2 394.2,279.4 391.9,281.1"/>
<polygon points="463.6,293.1 462.9,291.1 468.8,283.6 472.6,282.8 473.1,286.0 468.2,292.7"/>
<polygon points="456.6,326.7 454.9,322.3 456.7,317.3 459.5,317.4 458.8,325.4"/>
<polygon points="430.1,295.7 428.9,294.0 428.4,291.1 430.7,289.7 432.9,290.6 432.8,292.4 432.6,295.7"/>
<polygon points="338.1,259.9 335.4,256.8 335.3,254.1 336.6,250.4 339.2,252.0 340.0,255.1 339.6,259.2"/>
<polygon points="394.4,309.6 394.0,305.6 396.1,304.2 399.3,306.2 397.9,310.6"/>
<polygon points="466.0,295.3 466.5,292.3 468.6,291.9 471.1,293.6 468.8,296.0"/>
<polygon points="459.3,295.3 458.1,292.7 458.7,286.7 460.9,285.5 462.2,286.0 462.1,289.6 461.6,292.5"/>
<polygon points="459.7,308.0 459.1,305.1 459.5,302.3 461.7,301.6 462.4,303.1 461.3,306.2"/>
<polygon points="389.5,283.9 390.2,281.9 392.2,279.4 394.4,277.7 395.7,279.1 394.6,282.0 390.4,285.4"/>
<polygon points="359.4,259.8 359.8,258.5 360.9,257.6 363.1,257.5 362.9,259.3 360.7,260.9"/>
<polygon points="345.0,411.5 344.5,409.6 348.1,407.1 350.3,406.3 353.2,406.4 349.7,410.5 347.5,411.8"/>
<polygon points="409.6,432.7 408.4,427.7 411.6,419.3 414.4,420.0 413.2,427.9"/>
<polygon points="338.7,362.4 338.4,360.4 340.7,359.5 341.9,360.1 341.0,362.3"/>
<polygon points="431.7,358.6 430.6,357.4 433.7,353.2 435.6,351.9 436.5,354.1 436.9,355.2 433.4,358.7"/>
<polygon points="363.0,422.8 364.2,417.5 366.0,414.4 372.8,408.3 372.6,412.6 370.6,417.2 365.0,423.5"/>
<polygon points="456.9,405.1 456.0,401.8 458.0,398.0 461.6,395.5 462.9,398.6 460.1,404.1"/>
<polygon points="447.1,408.7 447.3,406.5 449.5,403.4 452.8,404.2 451.4,407.3 449.3,408.8"/>
<polygon points="441.4,421.9 440.3,421.2 442.0,417.7 444.5,416.0 445.1,418.0 443.2,420.7"/>
<polygon points="447.1,389.4 445.9,382.8 446.9,376.8 450.1,373.4 450.5,380.2 450.9,384.0"/>
<polygon points="422.9,364.8 422.1,364.5 423.3,361.5 425.9,359.6 426.5,360.6 425.5,363.4 424.4,364.9"/>
<polygon points="371.3,434.8 369.3,432.7 369.8,428.5 372.2,425.8 373.6,426.9 374.4,429.4 373.1,433.1"/>
<polygon points="344.5,399.2 344.2,396.1 346.2,394.6 349.7,394.8 348.3,398.3 346.4,399.5"/>
<polygon points="436.8,419.1 438.7,414.8 442.2,414.4 443.7,415.3 439.7,419.0"/>
<polygon points="422.8,385.6 423.1,383.0 424.0,380.6 425.9,379.4 428.6,379.6 427.8,382.5 425.6,384.9"/>
<polygon points="387.6,388.0 388.0,381.7 390.8,377.0 393.1,378.1 393.5,384.3"/>
<polygon points="366.1,398.1 365.1,396.3 367.9,392.8 370.2,395.7 369.5,397.6"/>
<polygon points="349.7,369.2 348.4,365.7 352.2,359.3 355.9,355.3 356.2,361.8 352.5,367.6"/>
<polygon points="450.8,363.5 450.0,361.2 452.4,358.1 457.1,355.4 458.4,358.2 456.0,361.1 454.0,364.2"/>
<polygon points="369.9,396.3 370.2,394.3 372.1,390.3 375.5,388.1 376.6,390.0 375.1,393.5 372.6,396.0"/>
<polygon points="352.1,360.4 351.9,357.8 354.8,355.6 356.3,357.7 354.5,361.0"/>
<polygon points="340.3,365.1 339.5,361.8 341.5,360.5 343.4,361.4 343.4,364.5"/>
<polygon points="374.1,372.6 373.1,369.5 374.5,363.6 376.7,365.1 376.2,370.5"/>
<polygon points="376.1,397.2 374.7,397.2 375.1,390.8 377.0,387.7 378.4,390.7 377.7,396.0"/>
<polygon points="435.9,399.1 435.8,397.8 440.2,394.8 441.5,394.6 442.1,396.0 438.2,398.7"/>
<polygon points="354.4,380.4 353.2,377.1 357.8,369.0 359.6,368.9 361.8,370.1 361.1,373.0 357.5,378.0"/>
<polygon points="448.4,352.5 449.8,349.5 454.6,345.8 458.1,346.4 453.2,351.7"/>
<polygon points="386.0,400.2 386.2,398.9 388.1,396.5 390.7,396.1 390.5,398.1 388.5,399.7"/>
<polygon points="407.0,376.6 406.2,374.5 409.2,372.3 411.1,374.3 409.6,376.6"/>
<polygon points="459.2,416.4 459.1,414.1 460.4,411.2 461.9,410.2 463.3,410.8 462.9,412.7 462.2,415.5"/>
<polygon points="377.7,365.7 376.3,361.5 378.0,356.9 379.9,357.5 380.7,362.3"/>
<polygon points="393.9,391.5 393.7,388.0 397.5,385.7 400.2,384.4 401.1,385.4 399.8,389.3 397.2,391.2"/>
<polygon points="367.1,375.0 366.4,372.4 367.6,370.3 370.8,367.7 372.8,367.6 372.0,372.1 369.2,375.9"/>
<polygon points="425.5,419.1 425.4,416.1 426.3,414.0 430.9,413.4 430.6,417.1 428.4,419.3"/>
<polygon points="424.5,436.6 424.0,432.2 425.7,427.7 428.0,427.7 427.5,433.3"/>
<polygon points="347.9,393.7 346.7,388.9 349.3,385.4 351.0,388.4 350.8,392.8"/>
<polygon points="450.8,364.0 450.8,359.9 453.4,357.4 457.1,354.6 456.5,359.6 453.1,363.5"/>
<polygon points="429.1,402.5 428.0,400.6 428.6,399.3 429.8,398.9 430.9,399.1 431.1,400.7 430.3,401.4"/>
<polygon points="406.7,368.1 407.3,364.8 412.8,360.9 415.1,362.9 410.1,367.9"/>
<polygon points="434.3,375.2 435.1,372.7 439.0,366.6 444.2,364.2 446.9,366.1 443.3,371.8 440.0,373.5"/>
<polygon points="464.8,398.0 462.9,398.1 464.7,392.3 468.0,390.0 470.2,391.7 470.1,394.4 468.1,398.5"/>
<polygon points="398.0,425.5 397.0,424.9 397.1,422.0 398.1,419.6 399.2,420.4 399.3,422.2 398.5,425.0"/>
<polygon points="401.9,352.0 400.6,350.7 401.6,347.2 405.3,343.6 406.6,345.8 407.2,348.4 403.9,351.9"/>
<polygon points="393.0,373.2 391.6,370.0 391.9,365.7 395.5,361.7 396.2,363.6 396.6,368.7 395.1,372.2"/>
<polygon points="474.5,349.3 473.4,344.8 475.6,342.3 478.3,343.2 477.6,346.0"/>
<polygon points="405.1,396.8 402.6,392.5 404.8,387.9 408.9,388.0 408.5,394.5"/>
<polygon points="370.6,382.6 369.2,379.5 370.2,377.6 372.9,378.3 373.0,380.4"/>
<polygon points="433.3,377.5 432.8,373.0 436.9,366.2 439.4,365.0 440.2,370.1 436.4,378.1"/>
<polygon points="376.8,433.2 376.7,430.6 378.2,427.6 381.4,425.9 382.0,428.4 379.7,432.4"/>
<polygon points="371.7,380.6 371.1,377.7 374.8,374.7 375.6,377.2 373.9,380.8"/>
<polygon points="455.5,359.3 455.5,357.8 456.4,356.1 458.5,356.6 458.2,358.5 457.1,359.2"/>
<polygon points="440.0,416.3 439.9,411.9 444.1,407.4 447.4,407.5 447.0,411.6 443.3,415.1"/>
<polygon points="282.1,456.6 281.0,455.9 279.1,452.0 279.3,450.6 281.7,448.2 283.6,451.0 285.0,454.6"/>
<polygon points="152.1,427.1 151.3,422.6 157.8,418.5 159.9,422.8 155.4,426.5"/>
<polygon points="225.6,401.2 226.7,398.6 230.9,399.7 231.6,402.4 228.7,404.4"/>
<polygon points="259.5,406.7 255.1,406.1 250.7,398.3 252.1,395.0 260.3,401.0"/>
<polygon points="209.1,421.8 208.0,420.9 208.9,418.3 210.3,416.9 210.7,417.8 211.7,419.3 210.3,422.7"/>
<polygon points="211.0,399.1 207.0,393.2 209.7,388.1 214.2,390.8 215.5,394.6"/>
<polygon points="245.9,451.4 241.8,455.7 237.5,454.8 236.0,450.2 237.5,448.8 243.5,447.3"/>
<polygon points="147.2,472.6 144.4,468.7 145.6,465.1 147.3,462.2 151.2,462.4 151.7,468.1 150.3,470.8"/>
<polygon points="311.6,436.0 308.4,435.6 305.6,433.6 307.0,430.3 308.9,430.8 311.8,433.4"/>
<polygon points="250.2,394.0 249.8,390.8 253.6,388.1 256.0,388.7 256.2,390.5 251.8,395.3"/>
<polygon points="127.8,466.5 130.2,463.7 135.6,462.5 136.4,464.8 136.0,469.0 130.3,469.6"/>
<polygon points="243.0,431.2 242.1,429.5 241.5,426.2 244.1,423.3 247.0,426.0 248.1,427.2 245.7,432.3"/>
<polygon points="244.2,366.1 243.1,362.4 244.0,359.7 247.1,358.6 246.5,364.8"/>
<polygon points="160.0,417.2 160.8,415.1 163.9,415.0 164.2,416.7 161.6,418.4"/>
<polygon points="246.5,374.9 243.4,375.8 238.7,375.0 238.5,373.1 240.7,370.3 246.1,371.2"/>
<polygon points="205.6,432.5 206.7,430.0 211.1,429.6 213.5,430.1 214.0,432.9 212.4,435.0 208.2,433.7"/>
<polygon points="280.9,379.4 280.2,380.6 276.7,378.5 277.4,377.0 280.2,376.9"/>
<polygon points="163.9,445.2 156.6,448.3 151.7,444.3 150.7,440.8 160.2,441.2"/>
<polygon points="176.9,389.3 177.8,388.4 179.6,386.1 181.8,387.3 182.3,389.2 181.6,390.4 178.3,391.3"/>
<polygon points="188.8,434.9 187.3,436.1 183.9,436.3 183.8,434.8 184.5,432.5 185.8,432.1 189.9,433.1"/>
<polygon points="250.7,444.6 247.8,446.0 244.3,442.8 240.2,439.7 243.7,438.1 245.6,438.2 251.1,441.9"/>
<polygon points="199.3,369.7 199.1,368.1 200.7,364.2 203.4,364.0 204.5,367.2 201.9,370.1"/>
<polygon points="164.6,376.0 162.8,376.4 161.0,375.4 160.8,374.2 163.0,373.1 164.0,374.6"/>
<polygon points="155.0,397.4 152.2,400.2 145.3,396.6 143.1,393.6 143.2,390.1 147.8,389.9 152.3,393.6"/>
<polygon points="165.6,466.3 164.6,464.1 165.4,460.7 167.3,459.5 167.7,462.3 167.2,464.5"/>
<polygon points="192.7,377.7 190.6,373.8 192.2,368.6 196.3,371.6 195.7,375.2"/>
<polygon points="287.1,472.5 286.5,467.7 291.0,465.4 295.9,468.0 291.8,473.5"/>
<polygon points="250.6,461.7 251.0,457.6 252.1,455.5 255.8,455.1 258.9,457.7 256.5,461.8 253.9,463.7"/>
<polygon points="212.7,417.6 210.1,418.5 206.5,417.2 205.0,411.9 208.0,408.9 210.6,410.1 214.3,413.4"/>
<polygon points="233.6,384.9 234.5,382.9 236.9,381.0 241.2,381.9 242.9,383.9 241.2,385.9 233.8,387.5"/>
<polygon points="237.9,440.0 238.6,436.7 241.4,435.4 243.3,436.7 240.6,439.9"/>
<polygon points="265.8,414.4 266.4,412.2 268.6,409.7 270.6,410.6 268.5,414.2"/>
<polygon points="300.9,415.9 299.0,415.8 298.5,413.1 299.4,411.9 302.0,414.1"/>
<polygon points="301.3,402.5 299.2,399.7 300.1,395.7 302.7,392.8 305.7,393.6 307.8,395.0 304.0,401.9"/>
<polygon points="237.8,477.7 231.3,478.3 227.5,475.8 228.2,470.4 237.3,474.2"/>
<polygon points="170.9,387.6 167.8,388.1 163.8,385.1 164.9,382.2 167.2,381.5 170.0,383.4"/>
<polygon points="166.1,444.3 163.4,443.7 161.4,439.1 163.9,438.3 166.3,440.5"/>
<polygon points="186.8,479.5 180.9,480.0 178.5,476.4 182.6,472.4 186.6,473.1"/>
<polygon points="194.5,398.2 193.4,394.3 195.6,390.1 201.0,388.0 202.1,390.7 200.1,395.6 197.1,396.9"/>
<polygon points="226.1,420.4 223.5,416.6 222.9,412.4 225.5,409.5 229.8,412.6 230.5,415.9"/>
<polygon points="213.3,448.2 212.7,446.2 214.3,444.3 217.0,444.4 216.3,446.0 214.2,448.0"/>
<polygon points="288.4,399.0 287.8,397.3 295.2,393.3 299.4,392.3 300.7,395.8 298.9,398.3 293.5,402.1"/>
<polygon points="455.7,298.8 460.8,294.7 463.3,294.3 468.5,297.1 467.4,302.1 459.7,304.1"/>
<polygon points="484.1,355.5 479.7,356.0 477.0,353.1 477.8,350.4 482.5,351.3"/>
<polygon points="470.9,313.0 469.0,312.6 467.9,310.3 468.4,309.3 469.8,308.3 471.5,309.6 472.8,311.2"/>
<polygon points="532.3,296.7 525.8,296.8 523.8,286.5 528.3,284.2 533.6,292.3"/>
<polygon points="481.5,269.0 479.2,267.5 478.8,265.4 480.5,262.9 483.9,262.4 484.2,265.1 484.9,267.3"/>
<polygon points="449.9,308.1 448.4,306.2 448.5,304.1 451.0,303.3 452.1,306.7"/>
<polygon points="461.3,271.3 455.7,272.2 450.7,272.7 446.0,267.8 445.6,264.4 455.8,263.7 461.3,267.9"/>
<polygon points="438.4,256.4 433.0,256.5 429.3,253.4 431.4,249.4 433.5,247.7 436.3,248.3 439.4,251.1"/>
<polygon points="497.4,264.7 494.9,261.9 492.9,255.6 494.9,251.2 498.7,250.9 502.7,254.8 501.5,264.7"/>
<polygon points="521.3,359.1 521.5,360.2 518.4,359.5 516.6,358.5 516.7,357.0 519.1,357.2 521.4,357.6"/>
<polygon points="521.6,311.8 520.4,315.4 512.3,313.6 509.3,307.6 513.2,305.9 521.1,308.5"/>
<polygon points="433.6,271.2 430.7,268.1 434.8,261.2 440.6,262.5 440.2,273.0"/>
<polygon points="471.3,326.4 468.8,327.7 466.8,325.5 467.8,323.0 471.5,324.5"/>
<polygon points="448.7,293.3 446.9,291.6 445.1,288.4 446.8,286.4 448.2,286.8 450.2,289.3"/>
<polygon points="481.8,296.2 480.6,295.4 481.0,292.6 482.7,292.9 483.0,295.3"/>
<polygon points="372.1,567.7 370.6,566.9 370.5,563.8 372.7,563.2 372.9,565.8"/>
<polygon points="312.1,601.6 308.3,600.2 304.8,595.6 305.1,590.2 307.9,589.9 311.7,593.2 313.5,597.4"/>
<polygon points="350.9,608.1 348.8,605.2 346.6,599.9 349.0,596.7 351.3,597.7 352.9,604.6"/>
<polygon points="331.4,514.9 330.1,516.2 327.2,511.8 326.6,508.0 328.6,505.7 331.5,509.6 332.1,512.4"/>
<polygon points="337.9,527.7 336.8,527.5 336.3,524.7 337.7,522.5 338.5,523.8 339.8,525.5 338.6,528.5"/>
<polygon points="334.9,561.8 333.2,562.1 333.7,555.6 334.8,553.5 337.4,554.8 337.5,558.7 336.3,561.2"/>
<polygon points="378.4,551.9 374.4,548.9 374.8,542.2 378.5,543.9 381.3,549.4"/>
<polygon points="302.5,518.8 300.4,517.2 299.2,511.8 301.1,507.9 304.3,508.1 306.1,512.6 304.3,517.2"/>
<polygon points="371.7,558.0 367.6,556.4 365.9,551.4 369.4,548.6 373.6,553.5"/>
<polygon points="325.7,596.5 322.3,595.9 318.6,589.7 318.7,586.9 320.8,585.8 324.3,589.0 327.5,596.3"/>
<polygon points="326.6,514.1 324.1,509.9 324.2,504.9 329.4,497.9 331.4,502.7 330.5,509.7"/>
<polygon points="307.1,527.1 305.1,526.3 306.6,522.0 310.4,523.1 310.2,527.0"/>
<polygon points="341.4,563.6 340.1,564.5 336.6,558.0 338.6,556.1 341.7,554.4 343.2,558.5 343.9,561.3"/>
<polygon points="306.1,608.5 301.1,607.6 298.2,605.6 300.0,600.3 304.2,602.1 305.5,604.7"/>
<polygon points="350.4,578.1 349.0,577.6 349.2,574.8 351.4,574.6 352.4,576.4"/>
<polygon points="374.5,611.5 371.8,611.0 369.5,607.9 370.6,604.9 374.7,605.5 375.8,607.4"/>
<polygon points="393.1,613.6 391.5,611.7 392.8,609.2 394.6,608.6 395.7,612.9"/>
<polygon points="389.7,578.7 385.7,575.6 383.5,568.6 385.2,563.8 388.2,563.8 390.5,573.1"/>
<polygon points="391.9,589.3 388.0,588.5 387.8,585.7 390.3,581.0 393.6,583.6 394.0,586.6"/>
<polygon points="308.2,538.1 305.5,537.4 304.2,531.8 305.4,528.9 306.8,529.6 308.8,535.1"/>
<polygon points="374.5,606.5 373.2,601.4 374.6,598.0 377.8,596.1 377.0,602.5"/>
<polygon points="318.9,552.4 315.0,549.0 308.9,536.7 314.9,538.0 319.8,543.5"/>
<polygon points="390.9,542.2 389.1,542.8 387.7,538.8 387.9,537.3 390.0,535.3 391.0,537.1 392.6,540.5"/>
<polygon points="315.4,539.1 313.5,536.6 316.5,526.4 320.4,528.6 319.6,534.2"/>
<polygon points="396.2,536.6 391.2,533.9 389.4,526.1 392.7,525.9 397.8,532.8"/>
<polygon points="363.8,551.4 360.5,548.4 359.5,545.0 360.0,540.3 363.9,543.0 366.8,548.5"/>
<polygon points="335.1,597.1 332.4,592.6 334.2,584.3 338.9,584.1 338.9,593.3"/>
<polygon points="367.5,523.0 363.4,521.4 364.2,514.7 367.5,514.8 369.6,518.4"/>
<polygon points="326.0,603.5 324.2,602.6 322.5,594.9 323.9,591.9 326.4,590.0 331.3,595.9 328.8,600.7"/>
<polygon points="356.9,596.5 356.6,592.0 356.8,589.9 358.7,585.1 359.9,584.8 360.0,590.3 359.3,594.2"/>
<polygon points="370.9,604.1 366.4,600.5 366.7,588.4 371.9,585.8 375.1,594.6"/>
<polygon points="340.4,544.5 339.2,543.1 339.3,539.3 340.0,536.6 342.0,539.5 342.5,544.4"/>
<polygon points="323.1,583.9 320.7,578.5 321.1,570.3 325.6,560.2 329.5,562.6 328.9,571.9 327.2,576.5"/>
<polygon points="383.2,564.0 382.8,558.8 383.8,553.0 386.7,546.6 390.5,546.9 391.2,556.4 389.3,560.7"/>
<polygon points="399.5,512.8 392.3,511.7 387.6,501.8 390.2,499.0 398.3,506.0"/>
<polygon points="309.5,515.6 305.7,516.1 303.7,509.5 307.3,508.8 310.7,511.6"/>
<polygon points="294.0,531.5 290.1,529.2 290.2,525.0 293.6,524.7 295.6,528.4"/>
<polygon points="325.0,579.2 323.0,577.6 320.4,570.8 321.1,565.4 325.9,568.2 328.6,576.7"/>
<polygon points="389.2,545.0 385.8,542.7 388.7,536.7 391.7,538.0 391.9,542.3"/>
<polygon points="340.5,531.4 337.4,531.4 334.1,526.7 333.4,522.7 334.6,521.3 338.7,524.6 340.2,528.7"/>
<polygon points="343.2,509.2 341.4,508.8 340.8,507.6 341.1,506.6 341.7,505.5 342.9,506.8 343.7,508.0"/>
<polygon points="324.8,527.8 321.9,518.8 325.1,511.4 329.5,510.7 328.4,521.9"/>
<polygon points="437.7,594.3 437.9,591.2 443.1,590.6 446.8,591.2 445.2,593.2 441.9,595.8 438.0,595.6"/>
<polygon points="488.2,539.0 482.8,538.6 480.9,535.1 480.8,532.6 483.6,530.8 486.8,535.0"/>
<polygon points="532.7,569.7 528.8,570.0 524.3,564.5 528.3,563.3 533.1,566.5"/>
<polygon points="447.9,599.5 445.3,600.1 442.8,597.3 441.3,592.8 447.4,592.7 448.3,595.3"/>
<polygon points="511.0,558.5 510.9,555.1 517.6,553.5 521.9,556.1 521.6,558.6 518.2,561.0 512.4,559.7"/>
<polygon points="467.9,565.0 463.1,568.9 458.2,567.0 457.4,562.9 465.3,562.0"/>
<polygon points="487.5,530.2 485.1,529.7 483.1,527.9 481.4,523.2 483.5,523.0 486.1,523.4 488.7,527.1"/>
<polygon points="463.9,585.2 459.8,579.3 461.7,575.8 465.1,567.7 468.6,568.2 468.3,577.4 467.6,581.9"/>
<polygon points="484.9,588.9 485.2,587.3 486.2,585.4 488.7,585.2 490.4,586.0 489.5,588.1 486.6,590.6"/>
<polygon points="460.8,643.9 458.6,646.0 456.5,643.7 457.6,641.1 459.8,641.6"/>
<polygon points="457.0,644.3 456.5,641.3 459.5,638.2 462.4,640.9 458.8,644.2"/>
<polygon points="443.6,523.0 442.2,521.4 444.5,517.5 446.5,516.3 448.6,518.0 449.7,519.9 447.2,522.4"/>
<polygon points="473.1,512.4 471.5,508.7 475.8,506.4 478.2,507.8 477.3,512.7"/>
<polygon points="494.7,553.8 491.7,552.8 491.8,550.6 493.0,548.5 495.3,549.7 495.6,552.4"/>
<polygon points="458.0,600.4 455.8,601.5 452.4,600.2 451.9,596.9 453.6,595.5 457.1,598.3"/>
<polygon points="436.7,638.9 433.5,636.6 435.4,631.4 441.6,631.1 441.9,634.9 440.2,639.5"/>
<polygon points="472.4,596.4 472.2,595.3 474.6,594.7 476.9,596.4 475.2,598.2 473.9,598.1"/>
<polygon points="454.3,567.8 449.1,567.6 445.5,562.7 448.0,560.8 452.6,562.8"/>
<polygon points="490.4,532.7 489.7,531.7 489.7,529.4 491.4,529.4 492.4,531.4"/>
<polygon points="541.0,577.8 539.4,578.2 534.7,576.0 532.8,572.1 535.1,570.9 538.4,571.9 541.9,574.4"/>
<polygon points="529.3,549.5 529.3,544.3 533.2,537.7 539.0,537.2 539.2,540.3 534.4,548.8"/>
<polygon points="481.3,516.7 478.3,515.2 476.9,512.8 478.7,509.9 480.9,512.0 481.3,514.3"/>
<polygon points="521.3,554.7 518.5,555.7 516.2,554.7 514.9,551.6 516.0,548.8 518.2,549.1 521.2,552.6"/>
<polygon points="478.0,549.3 473.4,548.2 472.3,541.9 475.5,541.7 480.6,546.7"/>
<polygon points="520.5,591.0 515.9,588.8 514.6,584.1 517.2,579.5 520.8,584.3 521.4,588.1"/>
<polygon points="460.3,508.1 457.1,503.5 457.0,497.9 462.9,499.6 463.5,502.7"/>
<polygon points="517.1,605.5 515.0,604.3 512.8,601.8 512.5,596.5 515.9,598.1 518.6,601.8"/>
<polygon points="452.7,537.6 449.2,535.6 448.4,531.6 452.1,529.4 456.1,530.6 454.6,536.4"/>
<polygon points="427.6,654.1 425.8,653.5 425.5,645.5 426.0,642.5 431.3,640.9 432.9,645.5 431.1,651.2"/>
<polygon points="529.1,515.6 531.2,513.7 534.6,513.3 534.6,515.8 532.4,516.5"/>
<polygon points="554.7,600.9 554.8,596.0 559.9,592.3 563.1,595.7 560.2,599.7"/>
<polygon points="566.4,656.0 564.6,654.2 563.5,652.1 563.8,649.4 566.2,649.1 567.2,650.9 567.9,653.2"/>
<polygon points="587.5,623.9 585.6,623.3 585.1,620.1 586.7,618.7 589.5,618.9 590.2,621.3 589.4,623.6"/>
<polygon points="591.2,552.9 590.7,549.2 592.1,544.2 596.2,542.9 595.7,550.2"/>
<polygon points="578.8,596.9 577.4,596.8 576.5,592.0 576.8,588.7 579.6,588.0 582.4,592.3 581.2,597.1"/>
<polygon points="566.0,656.6 563.7,653.6 564.2,649.4 565.2,647.8 568.0,646.8 569.6,649.2 569.3,654.5"/>
<polygon points="597.8,621.5 597.0,618.0 599.8,616.4 602.3,616.8 601.0,620.8"/>
<polygon points="599.2,587.6 596.1,586.2 595.0,582.6 596.2,578.7 598.8,577.3 602.5,580.5 602.6,587.4"/>
<polygon points="598.9,612.9 597.2,610.1 597.4,608.0 598.6,606.0 600.6,607.9 601.4,611.1"/>
<polygon points="582.9,647.0 581.6,644.7 580.6,642.8 583.3,637.6 586.1,638.7 586.7,642.0 586.0,645.7"/>
<polygon points="638.0,599.9 637.9,597.3 638.7,595.0 640.1,595.5 641.5,596.7 640.2,599.2"/>
<polygon points="636.4,538.8 635.8,535.9 638.8,534.0 640.6,535.3 639.0,538.9"/>
<polygon points="557.7,599.7 552.9,597.7 552.8,593.3 557.1,591.6 560.5,596.3"/>
<polygon points="575.0,618.6 573.2,617.9 572.7,613.5 575.4,613.0 576.7,617.8"/>
<polygon points="607.8,642.9 605.8,641.7 606.0,633.8 610.1,631.6 611.3,634.9 611.3,638.5"/>
<polygon points="560.5,668.2 559.0,666.8 559.2,664.1 561.1,663.3 562.1,666.4"/>
<polygon points="557.0,617.0 555.7,616.3 555.6,613.9 556.4,612.2 557.9,612.9 558.2,615.3"/>
<polygon points="575.0,596.3 572.7,591.5 574.7,583.3 578.4,581.2 581.8,585.1 578.9,594.4"/>
<polygon points="615.6,592.9 613.9,590.6 612.9,587.3 614.9,585.5 617.9,586.0 618.5,588.2 617.9,591.5"/>
<polygon points="639.9,645.2 638.8,644.5 638.9,642.1 640.1,641.6 641.2,641.7 642.0,643.7 640.8,644.6"/>
<polygon points="543.4,638.4 540.6,637.6 540.8,631.0 542.1,626.8 545.0,629.7 547.0,631.8 545.8,636.0"/>
<polygon points="635.1,593.9 632.3,591.5 631.9,590.2 632.6,586.6 634.6,586.4 635.6,589.0 635.7,591.3"/>
<polygon points="561.0,547.8 558.8,545.0 558.8,542.2 562.1,539.5 564.1,542.7 563.7,545.5"/>
<polygon points="629.6,654.3 627.3,649.3 626.4,644.3 628.2,641.8 631.4,640.7 633.1,644.1 631.3,650.0"/>
<polygon points="576.0,559.1 575.2,556.6 575.2,553.7 577.3,552.2 579.0,552.9 578.0,557.4"/>
<polygon points="645.1,623.3 643.1,622.7 643.3,621.2 644.5,618.9 647.1,620.2 646.9,622.6"/>
<polygon points="632.1,585.9 631.1,583.4 633.3,580.2 636.6,580.1 636.8,582.8 635.5,584.7"/>
<polygon points="559.8,609.9 558.1,609.5 557.9,607.5 558.4,606.0 560.9,607.2 561.4,609.6"/>
<polygon points="611.7,626.7 608.2,622.5 608.9,617.7 612.1,618.2 613.8,622.9"/>
<polygon points="607.3,564.1 605.3,563.2 604.9,559.6 607.3,558.9 609.2,560.8 609.7,563.4"/>
<polygon points="637.7,619.7 635.5,618.7 634.7,614.3 635.9,610.7 638.5,609.9 640.5,614.2 639.6,616.2"/>
<polygon points="593.7,534.5 590.6,531.7 590.9,527.9 595.6,527.3 597.0,533.5"/>
<polygon points="610.0,639.2 610.0,636.3 611.3,634.1 613.5,634.3 614.1,636.5 612.8,637.9"/>
<polygon points="565.5,632.8 562.7,632.4 563.7,628.7 565.2,627.2 567.3,628.6 568.5,632.1"/>
<polygon points="580.9,593.5 577.5,591.0 578.8,585.3 582.8,583.9 586.2,585.1 585.0,591.5"/>
<polygon points="575.9,608.6 574.9,605.8 574.8,603.5 577.7,602.2 580.8,603.6 580.7,605.1 578.3,608.0"/>
<polygon points="621.9,589.4 620.9,585.4 620.8,582.3 623.8,579.9 624.7,584.0 625.4,586.1"/>
<polygon points="343.8,654.2 340.9,653.2 339.0,649.1 339.2,646.5 342.2,648.3 343.6,650.3"/>
<polygon points="366.8,672.8 364.9,671.2 365.7,667.0 367.2,667.1 367.7,670.8"/>
<polygon points="366.5,666.3 362.5,663.7 361.6,658.2 363.8,657.0 366.7,663.5"/>
<polygon points="312.4,638.7 308.0,632.4 307.5,627.9 310.1,626.9 313.5,633.8"/>
<polygon points="351.1,673.7 349.5,673.5 348.5,671.7 349.9,670.1 351.1,670.1 352.2,672.5"/>
<polygon points="391.8,674.0 384.4,667.6 383.2,662.9 383.4,657.8 391.4,668.2"/>
<polygon points="393.8,632.5 391.6,630.9 390.4,619.6 392.6,621.9 395.0,629.3"/>
<polygon points="318.1,629.2 315.0,624.8 315.1,615.6 317.4,614.4 319.5,622.6"/>
<polygon points="336.7,678.2 330.6,674.1 327.5,669.4 325.6,666.0 329.1,666.0 332.9,669.8 336.1,675.0"/>
<polygon points="381.6,638.4 378.9,635.5 379.6,628.1 382.7,628.1 383.3,634.1"/>
<polygon points="328.5,642.1 327.2,641.5 324.1,637.9 322.4,633.1 325.5,633.5 326.7,633.7 329.0,640.2"/>
<polygon points="350.7,652.0 349.5,651.8 349.3,649.6 350.8,648.6 352.0,650.8"/>
<polygon points="630.9,689.8 628.0,690.0 625.0,686.5 626.3,684.9 630.3,686.4"/>
<polygon points="642.0,686.9 639.0,687.2 635.0,685.1 634.7,683.1 638.0,682.7 643.1,684.6"/>
<polygon points="657.1,722.0 654.4,724.0 652.7,721.3 650.3,718.0 651.6,715.0 654.3,716.7 658.0,719.9"/>
<polygon points="635.0,715.2 635.3,713.1 637.9,710.6 641.6,710.1 643.5,712.2 641.3,714.8 638.2,716.3"/>
<polygon points="609.5,681.3 608.2,680.4 607.6,680.0 606.9,678.4 608.9,677.0 609.8,677.9 610.4,679.2"/>
<polygon points="625.2,700.7 621.1,701.8 616.2,697.6 619.5,695.2 622.1,696.3"/>
<polygon points="629.4,679.8 629.6,677.1 633.2,676.5 637.5,677.6 637.5,680.2 633.5,683.5 629.0,682.7"/>
<polygon points="601.2,713.9 599.4,713.1 598.6,710.3 600.1,709.3 601.9,710.8"/>
<polygon points="669.1,739.0 665.6,735.8 663.2,728.5 666.2,723.4 669.8,727.2 672.2,735.5"/>
<polygon points="663.5,742.5 659.9,737.4 661.5,733.8 664.8,729.2 669.0,729.0 669.5,734.2 667.3,740.8"/>
<polygon points="285.8,717.5 283.0,716.0 281.8,711.6 284.0,707.9 286.0,709.0 287.4,712.0 287.0,716.5"/>
<polygon points="205.3,557.3 203.4,555.2 203.1,551.5 205.8,552.3 207.0,554.1"/>
<polygon points="204.4,564.1 201.5,564.7 200.2,563.6 200.0,561.9 201.0,560.5 202.9,560.4 204.0,562.7"/>
<polygon points="248.4,653.2 246.3,654.4 242.1,652.0 242.4,649.6 243.9,647.8 246.6,649.2 249.2,650.7"/>
<polygon points="263.6,654.3 259.6,654.3 257.1,650.4 258.4,648.5 263.7,651.8"/>
<polygon points="273.3,698.5 271.1,698.8 268.8,695.3 268.0,693.3 270.1,692.2 273.2,693.7 274.3,696.9"/>
<polygon points="249.8,649.7 247.0,647.7 246.4,644.9 247.4,641.1 249.9,642.5 251.8,647.6"/>
<polygon points="260.4,631.1 257.8,630.3 257.0,628.4 257.8,626.4 260.7,628.6"/>
<polygon points="232.5,601.3 231.6,601.5 230.7,599.1 230.9,597.3 232.4,597.3 233.4,599.0 233.3,600.1"/>
<polygon points="267.2,680.7 264.1,680.6 262.2,678.8 263.2,675.9 265.7,676.6 267.4,679.0"/>
<polygon points="268.8,704.4 266.1,703.6 264.9,703.0 263.9,700.9 266.8,700.0 268.7,701.8"/>
<polygon points="199.8,558.8 196.9,557.8 197.4,555.2 199.5,554.4 200.8,555.5"/>
<polygon points="260.0,657.9 257.8,658.5 253.6,652.4 254.7,649.0 258.1,650.7 260.9,655.6"/>
<polygon points="200.8,533.4 198.6,528.3 202.8,521.1 209.5,517.1 210.4,523.3 207.2,530.3"/>
<polygon points="223.7,520.4 225.4,513.9 231.9,513.2 232.6,519.0 229.1,521.2"/>
<polygon points="214.2,522.2 210.3,522.4 205.3,517.9 207.6,513.4 212.6,514.6 213.8,516.7"/>
<polygon points="161.1,520.5 160.5,515.2 161.8,507.4 166.2,507.8 167.8,509.9 166.5,515.5"/>
<polygon points="133.1,521.8 134.3,516.0 140.9,509.7 144.7,514.0 141.0,520.3"/>
<polygon points="206.4,558.5 203.9,559.0 202.5,554.4 205.4,551.9 207.5,555.8"/>
<polygon points="123.7,511.8 120.1,508.6 121.5,502.7 124.9,504.4 126.8,508.3"/>
<polygon points="203.6,547.1 202.1,548.9 199.2,549.3 194.8,547.0 195.2,545.0 198.7,544.6 203.3,545.6"/>
<polygon points="204.9,545.1 203.2,544.4 203.5,541.8 205.0,541.7 205.9,543.5"/>
<polygon points="134.3,522.5 128.6,520.6 127.4,516.4 127.2,510.4 134.3,512.0 135.7,518.5"/>
<polygon points="172.1,542.2 167.9,538.4 168.5,533.2 171.2,532.3 173.3,536.9"/>
<polygon points="190.6,508.7 187.8,507.5 186.5,505.0 186.6,503.3 188.5,503.3 190.4,506.0"/>
<polygon points="138.0,501.0 136.9,499.1 138.9,496.5 142.6,494.5 143.3,497.1 142.9,499.1 139.9,502.0"/>
<polygon points="115.7,530.7 114.6,529.9 114.1,527.6 115.4,526.3 116.8,527.7 116.4,529.7"/>
<polygon points="199.8,540.8 202.5,537.3 206.1,538.6 209.0,540.4 210.2,542.0 207.2,544.6 200.3,544.4"/>
<polygon points="161.8,542.3 162.6,538.4 169.9,535.1 172.3,537.8 171.2,543.4 167.1,545.2"/>
<polygon points="211.1,506.7 206.2,506.4 205.4,501.0 208.8,499.9 211.9,502.9"/>
<polygon points="162.2,500.6 161.1,498.3 162.4,496.1 163.9,496.7 163.9,499.2"/>
<polygon points="210.5,512.5 209.8,509.7 210.6,505.0 213.3,506.3 213.4,510.8"/>
<polygon points="1590.3,467.6 1588.7,465.7 1589.2,462.9 1590.7,461.6 1591.8,463.1 1592.8,465.4"/>
<polygon points="1573.3,439.1 1571.4,437.4 1571.1,433.9 1573.4,430.9 1574.4,434.4 1573.8,437.6"/>
<polygon points="1577.4,423.5 1575.8,422.3 1575.9,420.0 1577.4,419.3 1578.7,421.8"/>
<polygon points="1597.4,443.2 1596.5,437.1 1597.1,430.1 1599.8,428.2 1601.9,432.4 1600.5,438.5"/>
<polygon points="1576.0,461.9 1574.5,458.1 1576.0,454.6 1579.1,455.9 1578.4,460.2"/>
<polygon points="1596.9,424.7 1593.3,422.2 1590.7,413.1 1593.8,411.5 1597.5,414.3 1597.0,420.7"/>
<polygon points="1579.2,435.2 1578.1,435.8 1576.4,431.6 1576.3,429.2 1577.9,428.4 1579.8,431.2 1580.0,433.0"/>
<polygon points="1565.5,411.3 1563.3,410.1 1562.2,407.6 1564.0,405.3 1565.6,408.4"/>
<polygon points="1547.0,431.9 1544.5,431.9 1543.8,428.5 1544.2,425.1 1547.1,423.9 1548.1,425.3 1548.7,431.7"/>
<polygon points="1580.0,450.5 1577.1,449.4 1575.2,441.2 1576.2,435.8 1579.5,440.7 1580.4,447.0"/>
<polygon points="1562.0,399.1 1561.1,395.3 1561.3,392.9 1563.7,390.0 1564.4,393.0 1563.2,396.6"/>
<polygon points="1553.2,436.5 1550.2,434.0 1550.7,430.8 1552.9,429.6 1554.6,434.8"/>
<polygon points="1562.9,422.1 1561.1,420.4 1560.3,419.1 1561.9,417.3 1564.2,418.2 1564.5,420.3"/>
<polygon points="1544.4,398.6 1542.8,395.5 1542.7,392.6 1545.0,393.4 1545.5,397.0"/>
<polygon points="1564.4,447.2 1562.8,445.4 1558.5,436.3 1560.4,433.3 1563.7,435.0 1565.6,441.8"/>
<polygon points="1593.1,429.9 1590.3,429.1 1591.1,425.8 1592.0,422.7 1594.5,423.4 1595.1,426.8 1594.9,429.9"/>
<polygon points="1566.5,431.8 1564.0,431.1 1563.6,428.6 1564.2,427.6 1567.0,427.7 1568.6,431.0"/>
<polygon points="1599.6,410.0 1595.9,405.6 1593.3,398.8 1594.0,392.6 1598.9,398.1 1601.7,405.6"/>
<polygon points="1415.3,509.8 1414.9,508.3 1419.1,506.6 1421.2,506.6 1421.5,507.2 1420.2,508.9 1417.0,510.0"/>
<polygon points="1463.1,513.9 1463.1,512.5 1466.8,509.7 1468.7,509.6 1467.8,511.6 1465.1,513.9"/>
<polygon points="1393.2,510.7 1393.8,508.6 1396.2,505.7 1397.9,504.6 1397.5,508.5 1394.7,511.5"/>
<polygon points="1353.7,523.8 1353.4,522.7 1355.6,520.6 1356.7,520.4 1358.3,522.5 1357.5,523.7 1355.3,524.5"/>
<polygon points="1378.0,512.5 1379.7,510.0 1383.2,507.6 1388.5,506.8 1389.2,508.6 1384.5,512.3 1380.8,513.5"/>
<polygon points="1372.9,537.7 1376.0,533.5 1381.3,529.5 1385.7,530.5 1382.8,533.7 1378.5,536.2"/>
<polygon points="1418.8,512.7 1422.3,509.8 1424.9,508.3 1432.4,508.9 1429.8,511.9 1429.0,513.4 1421.9,514.5"/>
<polygon points="1408.8,535.6 1408.9,532.1 1409.7,529.3 1413.9,530.2 1413.8,532.0 1412.6,535.1"/>
<polygon points="1361.6,517.0 1364.9,514.7 1368.2,514.4 1370.1,516.8 1368.2,518.7 1364.4,520.3"/>
<polygon points="1387.6,521.0 1388.1,518.7 1390.9,517.7 1394.0,518.1 1393.6,520.9 1392.3,521.7 1389.6,522.5"/>
<polygon points="1421.5,536.6 1421.7,535.0 1426.5,532.1 1430.9,532.2 1431.2,534.0 1428.0,537.4 1423.2,538.1"/>
<polygon points="1438.9,534.7 1440.7,531.7 1445.9,530.6 1447.4,532.8 1443.5,535.2"/>
<polygon points="1470.7,500.7 1471.7,499.7 1474.4,499.0 1475.0,500.6 1472.5,501.8"/>
<polygon points="1462.4,440.9 1459.6,441.7 1457.3,441.7 1455.9,438.9 1455.8,437.6 1459.7,437.7 1461.8,439.9"/>
<polygon points="1466.8,471.9 1464.7,471.7 1462.7,468.7 1462.4,465.5 1464.7,465.7 1466.2,465.7 1467.4,470.2"/>
<polygon points="1530.4,485.3 1527.2,487.6 1523.9,485.7 1523.5,483.1 1527.0,481.3"/>
<polygon points="1508.0,417.4 1503.9,415.8 1503.6,412.8 1506.3,409.1 1509.6,410.4 1510.3,416.0"/>
<polygon points="1445.3,457.8 1446.9,453.4 1450.4,451.6 1452.1,453.8 1449.2,457.4"/>
<polygon points="1401.7,405.8 1398.4,403.2 1398.4,399.3 1399.7,396.2 1401.7,398.1 1403.1,402.1"/>
<polygon points="1478.1,422.5 1477.1,420.7 1477.7,417.3 1480.0,416.1 1480.7,418.4 1479.7,420.1"/>
<polygon points="1439.5,464.9 1440.9,459.9 1444.1,456.0 1449.8,456.5 1447.7,461.4 1444.6,464.8"/>
<polygon points="1443.7,426.5 1447.4,421.6 1453.1,421.6 1454.5,424.1 1454.9,426.9 1447.0,429.0"/>
<polygon points="1431.7,486.6 1434.4,482.8 1437.8,483.7 1439.2,485.4 1435.4,487.4"/>
<polygon points="1429.1,466.5 1427.1,468.6 1420.6,467.1 1421.1,465.1 1422.0,461.9 1427.3,463.7"/>
<polygon points="1469.9,460.0 1468.4,457.6 1470.4,452.4 1473.4,452.6 1472.9,457.3"/>
<polygon points="1480.5,479.4 1478.9,479.3 1477.9,477.4 1478.2,474.6 1479.8,474.6 1480.3,475.7 1481.4,478.5"/>
<polygon points="1369.5,489.6 1365.9,488.7 1363.7,488.2 1363.9,485.3 1365.2,484.6 1368.2,487.3"/>
<polygon points="1512.2,424.0 1510.8,421.4 1512.2,419.2 1514.0,419.5 1514.6,422.7"/>
<polygon points="1654.2,361.2 1654.3,355.1 1659.0,352.7 1663.3,354.0 1659.3,358.4"/>
<polygon points="1613.3,418.0 1612.9,416.0 1615.2,415.1 1616.4,416.0 1616.6,417.6 1615.6,418.7 1613.4,418.7"/>
<polygon points="1672.2,349.2 1670.9,349.4 1669.9,346.2 1671.0,343.4 1672.9,345.0 1673.7,347.8"/>
<polygon points="1631.8,420.6 1629.3,422.0 1626.4,420.4 1625.9,418.4 1628.5,416.3 1631.1,416.8"/>
<polygon points="1690.0,356.3 1691.5,351.6 1695.1,347.0 1697.0,350.0 1694.5,355.0"/>
<polygon points="1676.3,369.5 1673.2,367.0 1673.9,363.6 1675.3,361.5 1676.3,360.5 1677.9,364.4 1677.5,367.8"/>
<polygon points="1657.0,357.1 1657.8,354.1 1659.0,352.9 1660.6,353.3 1659.2,356.3"/>
<polygon points="1670.1,384.1 1669.0,385.2 1664.6,385.2 1661.3,382.1 1662.3,380.6 1666.7,380.0 1670.1,382.3"/>
<polygon points="1650.1,398.6 1647.3,396.4 1648.5,395.3 1649.7,393.9 1651.2,393.6 1652.8,396.6 1651.7,398.4"/>
<polygon points="1668.3,389.0 1665.2,392.1 1661.5,389.3 1661.2,387.1 1663.5,384.1 1667.5,386.3"/>
<polygon points="1687.1,360.5 1682.2,362.2 1674.2,359.7 1676.8,354.8 1681.9,355.9"/>
<polygon points="1683.8,396.9 1682.0,393.8 1682.5,390.5 1684.9,389.2 1686.6,388.8 1687.3,391.2 1685.8,396.5"/>
<polygon points="1668.2,373.6 1665.4,369.6 1663.3,362.4 1665.3,362.0 1669.2,368.1"/>
<polygon points="1652.6,363.3 1650.7,361.0 1652.2,359.3 1654.9,358.2 1655.6,360.7 1655.1,362.3"/>
<polygon points="1651.2,383.9 1647.3,382.6 1648.7,379.6 1649.9,377.2 1651.8,378.2 1654.0,381.7 1653.1,384.5"/>
<polygon points="748.0,302.5 746.1,301.5 747.4,297.2 749.4,296.8 752.0,297.0 752.0,300.7 750.5,302.5"/>
<polygon points="829.9,308.2 825.7,308.8 822.6,303.2 824.6,301.3 831.9,304.0"/>
<polygon points="875.8,337.2 869.6,337.7 867.5,332.9 871.4,331.6 874.3,332.1"/>
<polygon points="818.7,334.2 818.7,332.3 821.5,331.4 822.3,333.5 820.9,335.3"/>
<polygon points="828.5,297.0 826.8,296.3 828.1,293.8 829.3,293.9 830.6,296.4"/>
<polygon points="736.4,298.5 737.0,296.8 738.0,296.2 740.2,297.3 739.3,299.1 737.4,300.1"/>
<polygon points="838.8,284.1 841.1,278.7 847.2,274.3 850.4,277.6 844.8,284.3"/>
<polygon points="805.1,278.2 801.9,276.9 799.5,272.2 802.0,270.8 806.1,274.5"/>
<polygon points="719.4,271.0 716.1,270.7 715.8,266.1 717.5,263.8 720.9,267.0"/>
<polygon points="738.5,321.3 741.2,315.3 746.7,313.1 751.8,315.1 749.4,320.9 744.7,321.3"/>
<polygon points="852.0,296.1 850.9,291.6 855.0,287.3 857.6,288.0 858.2,292.7 855.3,296.1"/>
<polygon points="775.7,322.7 773.3,320.0 773.4,317.5 776.1,316.3 779.1,317.3 777.1,322.1"/>
<polygon points="857.9,267.4 857.4,260.1 859.6,253.5 863.6,253.3 864.4,261.2"/>
<polygon points="697.9,269.2 693.6,266.7 694.0,262.5 697.1,262.6 698.8,265.5"/>
<polygon points="653.4,301.8 652.6,296.3 656.9,291.3 660.1,288.6 663.8,292.2 662.1,297.0 657.7,302.7"/>
<polygon points="576.5,342.2 575.6,340.0 576.1,337.6 579.2,335.2 580.2,337.0 581.5,340.1 580.3,342.8"/>
<polygon points="562.4,365.5 559.8,366.6 558.6,364.0 557.5,362.5 560.0,360.2 562.5,361.8 563.9,363.2"/>
<polygon points="607.1,336.0 607.2,332.4 608.2,329.4 610.7,329.5 610.2,333.4"/>
<polygon points="560.0,343.1 556.6,345.2 555.2,344.9 553.6,341.5 555.0,338.6 556.3,338.5 559.8,340.1"/>
<polygon points="624.2,285.0 622.9,287.4 615.3,286.6 612.9,284.5 613.7,281.0 620.8,280.9"/>
<polygon points="661.8,378.8 660.9,377.4 662.2,374.7 663.7,375.1 665.0,376.5 664.3,378.7"/>
<polygon points="600.5,337.2 599.8,334.7 599.8,329.6 602.3,326.8 604.7,328.6 605.6,331.8 602.9,335.7"/>
<polygon points="665.9,282.9 664.7,281.8 663.7,280.3 665.4,278.1 666.8,278.9 667.5,280.2 667.2,282.2"/>
<polygon points="633.4,349.5 633.2,348.1 634.1,346.8 635.4,347.4 635.7,348.9"/>
<polygon points="602.5,280.4 598.1,277.2 596.7,269.3 600.2,268.3 603.6,273.4"/>
<polygon points="655.1,301.8 652.1,300.6 652.7,295.1 655.3,294.4 657.0,300.8"/>
<polygon points="582.9,358.0 581.4,357.7 580.9,355.4 581.6,354.6 583.8,354.9 584.1,355.6 583.9,357.2"/>
<polygon points="628.1,328.5 624.5,330.1 621.5,328.2 620.8,324.1 623.7,322.8 628.1,324.5"/>
<polygon points="605.8,277.9 607.9,273.7 611.1,274.4 613.9,275.4 612.6,278.3 608.3,278.4"/>
<polygon points="659.1,387.1 655.7,385.7 656.4,381.8 657.0,379.4 660.0,379.4 661.9,383.3 660.8,385.6"/>
<polygon points="631.6,351.1 632.3,347.4 640.2,344.5 644.4,347.0 642.5,349.8 638.3,352.4 632.1,353.2"/>
<polygon points="548.9,319.2 550.6,312.4 554.8,311.6 561.0,311.2 559.3,316.1 556.2,319.3"/>
<polygon points="637.9,292.2 636.9,292.8 634.1,292.0 633.4,289.9 634.2,288.1 637.4,289.2 638.8,291.1"/>
<polygon points="538.5,307.9 539.6,301.0 548.6,295.8 553.9,297.0 545.5,307.3"/>
<polygon points="654.1,337.8 651.0,334.2 652.1,328.4 656.2,326.5 657.8,329.8 657.9,335.0"/>
<polygon points="660.5,336.6 658.4,335.4 656.6,330.4 656.4,328.2 658.7,327.9 661.1,332.0 661.8,333.8"/>
<polygon points="656.5,368.9 657.3,364.9 660.7,364.7 666.4,366.7 666.0,370.5 661.3,372.8 657.0,372.3"/>
<polygon points="555.7,293.9 557.3,287.2 561.8,284.4 566.5,289.4 559.9,294.0"/>
<polygon points="604.6,306.5 602.3,307.0 602.0,303.1 603.2,301.3 605.7,302.4 606.8,304.5"/>
</g>
<g fill="#F9E300"><!-- speck Y -->
<polygon points="233.7,281.3 233.1,279.2 234.8,277.5 237.2,279.2 236.1,281.8"/>
<polygon points="175.5,276.3 176.3,270.2 179.9,264.2 182.4,268.4 182.4,272.2"/>
<polygon points="243.3,309.7 241.0,306.5 240.6,302.9 244.0,302.2 246.2,302.7 246.4,306.9"/>
<polygon points="193.6,324.2 193.5,320.9 195.8,317.6 198.4,317.7 200.5,322.3 198.0,323.4"/>
<polygon points="205.7,280.8 204.9,278.9 204.2,276.4 206.4,274.5 207.8,275.0 209.4,277.4 207.8,279.3"/>
<polygon points="166.9,262.8 166.2,261.1 167.1,258.2 169.0,257.4 170.3,259.0 170.5,260.6 168.5,262.0"/>
<polygon points="219.3,339.6 218.0,336.6 219.6,333.2 223.8,333.9 225.3,336.4 223.1,339.1"/>
<polygon points="225.2,336.7 225.1,335.2 226.1,333.3 229.1,332.2 229.7,333.4 229.6,335.8 226.8,337.6"/>
<polygon points="203.8,325.5 205.6,319.9 214.0,315.4 216.2,318.9 211.2,326.6"/>
<polygon points="186.4,270.0 185.4,267.6 185.3,265.4 186.7,265.1 188.3,265.3 187.9,266.6 187.7,268.8"/>
<polygon points="176.4,336.2 174.8,332.7 178.6,326.9 182.3,326.1 182.4,330.7 180.8,332.9"/>
<polygon points="182.7,264.8 181.2,262.7 187.2,258.3 189.1,259.3 188.0,263.3 185.9,264.1"/>
<polygon points="173.2,273.5 175.3,270.3 179.2,264.3 181.9,265.1 186.7,267.0 184.6,270.1 178.8,274.5"/>
<polygon points="184.1,319.3 180.0,314.9 183.5,310.0 186.8,311.0 187.7,315.1"/>
<polygon points="212.5,316.8 210.1,315.6 210.5,313.9 212.7,312.4 214.8,313.5 214.6,315.8"/>
<polygon points="171.3,296.3 171.8,294.2 173.3,292.5 175.8,292.3 173.7,295.6"/>
<polygon points="190.9,339.1 189.3,336.4 189.7,333.9 191.5,333.0 193.4,333.9 192.2,337.3"/>
<polygon points="192.7,275.0 193.8,271.5 196.4,270.3 197.6,271.6 195.4,274.3"/>
<polygon points="215.4,307.5 215.0,302.8 219.5,302.2 223.2,302.4 224.0,305.7 218.7,310.3"/>
<polygon points="225.4,328.4 224.4,325.5 226.0,323.5 227.8,324.1 227.6,327.2"/>
<polygon points="225.5,316.0 223.4,310.3 227.8,305.9 230.4,305.3 234.7,307.1 231.9,314.9 228.2,316.8"/>
<polygon points="169.4,278.4 168.1,276.1 168.6,272.3 173.9,269.1 175.4,271.7 176.9,273.2 173.0,277.3"/>
<polygon points="179.0,287.1 178.3,284.4 181.0,283.3 183.1,285.1 181.6,287.0"/>
<polygon points="190.6,261.4 189.7,259.3 191.4,255.6 193.5,254.7 196.2,256.9 193.5,260.7"/>
<polygon points="184.1,281.3 183.6,278.4 187.2,275.4 188.6,277.4 186.9,279.9"/>
<polygon points="186.5,265.2 185.2,262.8 186.6,260.6 188.2,262.1 188.1,263.4"/>
<polygon points="188.4,299.8 188.1,296.4 189.3,294.3 192.0,292.8 194.3,294.4 194.5,297.9 190.0,300.7"/>
<polygon points="221.8,312.5 223.4,305.6 229.1,300.8 233.3,299.9 232.2,305.6 225.7,312.3"/>
<polygon points="232.4,291.3 230.9,289.7 231.8,284.7 234.3,284.4 235.1,285.4 234.5,290.1"/>
<polygon points="162.4,258.8 162.6,255.5 165.4,252.4 167.2,252.8 168.1,255.6 166.5,258.9"/>
<polygon points="191.2,304.2 189.6,301.8 191.0,300.2 193.1,300.7 193.4,303.0"/>
<polygon points="209.7,340.5 209.3,338.7 210.7,335.3 212.0,335.5 212.6,337.2 211.8,339.7"/>
<polygon points="221.8,282.4 221.1,277.9 223.4,275.9 225.1,277.3 224.9,280.1"/>
<polygon points="218.8,335.0 219.4,332.9 221.3,331.6 222.9,331.8 223.2,334.4 220.9,336.3"/>
<polygon points="221.7,272.8 218.3,268.9 217.9,266.0 220.3,263.1 223.5,262.4 225.8,266.2 224.3,269.8"/>
<polygon points="203.0,269.1 205.4,265.2 208.7,264.6 211.2,265.1 206.4,270.0"/>
<polygon points="220.7,323.8 219.9,320.1 223.9,317.3 225.3,320.2 224.5,323.0"/>
<polygon points="168.9,305.4 164.7,301.6 165.2,293.6 170.6,288.8 172.9,292.3 172.4,299.7"/>
<polygon points="190.8,342.5 190.8,340.1 192.0,337.9 194.1,338.4 196.2,340.6 195.3,342.2 193.1,344.2"/>
<polygon points="231.6,267.9 228.7,264.7 231.4,261.3 234.7,259.8 234.8,266.4"/>
<polygon points="215.1,331.3 214.2,328.6 216.7,323.2 220.5,321.8 223.0,324.5 223.3,328.3 219.6,332.1"/>
<polygon points="187.5,323.0 187.7,318.7 190.2,315.0 193.0,315.8 191.6,320.1"/>
<polygon points="205.6,279.8 205.4,277.2 207.7,276.2 210.0,276.3 210.1,278.5 208.0,281.1"/>
<polygon points="186.7,335.9 185.4,334.6 187.0,331.3 188.7,331.5 188.5,334.4"/>
<polygon points="217.4,321.8 219.7,315.1 225.9,310.8 228.1,316.1 222.8,320.7"/>
<polygon points="145.1,301.9 146.7,300.2 149.4,299.6 152.2,300.3 153.0,304.1 150.1,305.4 147.1,305.2"/>
<polygon points="138.5,289.8 139.8,286.0 141.6,284.0 145.1,284.0 146.0,286.4 144.9,287.5 141.6,289.2"/>
<polygon points="421.4,275.1 421.1,272.4 421.9,270.4 425.4,271.5 425.9,274.4 424.2,275.4"/>
<polygon points="406.9,274.9 405.3,273.3 409.6,269.7 410.7,270.8 409.3,274.7"/>
<polygon points="363.0,275.1 360.8,273.1 360.9,269.9 365.0,269.8 364.8,273.8"/>
<polygon points="371.7,297.3 371.8,293.8 374.1,292.5 377.0,291.8 377.1,293.7 375.8,295.9 374.4,296.5"/>
<polygon points="417.9,262.2 417.8,258.6 420.5,254.3 422.5,253.8 422.5,256.0 420.3,260.0"/>
<polygon points="328.1,281.5 328.1,278.6 330.0,275.5 331.8,275.5 330.9,279.5"/>
<polygon points="440.5,275.7 440.4,274.8 441.5,272.9 442.3,273.5 443.4,274.3 443.4,275.8 441.3,276.8"/>
<polygon points="434.7,327.5 434.8,324.9 436.7,323.0 438.3,321.9 439.7,324.4 440.6,327.1 437.1,328.9"/>
<polygon points="402.3,266.3 400.3,264.5 399.6,261.8 402.6,259.8 405.2,261.1 404.6,264.8"/>
<polygon points="405.2,320.7 404.7,318.2 406.1,316.6 409.1,317.0 408.3,319.2"/>
<polygon points="385.7,272.0 385.5,269.4 390.5,263.5 393.2,262.5 392.2,265.2 388.6,270.3"/>
<polygon points="420.1,261.2 418.9,260.5 421.2,257.3 423.3,256.5 423.8,258.2 421.5,262.3"/>
<polygon points="446.0,276.9 445.5,272.9 449.4,266.6 452.6,267.7 449.1,276.6"/>
<polygon points="439.3,320.3 439.4,317.6 445.9,313.0 451.0,311.9 450.3,313.9 448.4,316.6 443.7,321.3"/>
<polygon points="382.1,265.6 382.9,259.3 385.9,255.7 388.9,254.9 386.7,261.7"/>
<polygon points="455.8,326.8 456.2,319.3 458.7,314.8 462.3,315.8 458.6,324.6"/>
<polygon points="446.1,309.1 446.0,304.6 446.4,301.7 448.4,300.7 450.0,302.0 447.6,306.5"/>
<polygon points="441.1,304.8 439.5,302.1 440.4,298.0 442.3,297.6 443.3,301.7"/>
<polygon points="405.7,272.4 404.4,268.4 405.8,263.0 407.9,260.7 410.8,259.6 410.0,265.7 409.2,269.6"/>
<polygon points="437.1,270.9 435.9,268.8 437.5,265.1 440.5,262.8 442.7,262.9 442.3,266.0 439.3,268.9"/>
<polygon points="391.4,275.7 391.8,273.8 394.3,271.9 395.9,272.2 396.1,273.3 392.9,276.2"/>
<polygon points="466.5,396.6 465.9,393.2 468.3,385.7 471.5,382.6 473.5,383.6 471.9,390.3 470.7,394.2"/>
<polygon points="468.9,361.4 468.9,359.0 470.3,357.0 472.0,357.6 471.3,360.6"/>
<polygon points="411.9,424.7 410.8,422.4 412.3,420.0 413.5,419.1 414.9,420.2 414.6,422.3 412.9,424.1"/>
<polygon points="459.9,358.2 459.5,355.9 461.4,353.6 462.8,353.3 462.5,356.6"/>
<polygon points="441.4,382.9 442.1,381.4 442.6,380.2 444.8,379.7 445.3,381.3 445.0,382.7 444.1,384.1"/>
<polygon points="431.9,362.8 432.7,358.9 435.8,356.4 437.6,359.0 435.9,361.5"/>
<polygon points="365.9,396.6 365.6,394.8 368.0,393.0 369.6,392.5 371.3,394.9 371.0,396.3 368.9,397.1"/>
<polygon points="387.3,386.6 387.0,383.9 391.1,379.4 392.8,378.5 394.6,379.3 394.9,381.8 391.0,386.7"/>
<polygon points="358.5,380.6 357.6,377.6 361.8,373.2 365.2,372.1 366.4,374.2 364.5,376.9 359.3,382.6"/>
<polygon points="402.7,409.8 402.1,409.0 403.4,406.8 404.8,407.3 405.8,409.0 404.5,410.3"/>
<polygon points="459.3,369.3 458.2,366.1 459.7,362.0 461.4,360.5 463.7,361.4 463.8,363.2 460.5,369.4"/>
<polygon points="361.1,411.2 360.9,409.8 361.6,407.1 363.7,406.4 365.2,407.3 364.8,409.0 362.1,411.3"/>
<polygon points="360.2,396.0 359.1,390.8 361.6,385.8 362.8,387.3 363.4,392.2"/>
<polygon points="417.6,370.4 417.1,366.5 419.8,363.0 421.2,365.4 420.2,368.0"/>
<polygon points="362.6,364.5 361.2,360.8 362.3,357.3 365.5,358.8 364.8,362.3"/>
<polygon points="392.7,392.2 392.6,389.0 400.2,383.0 403.2,383.1 405.7,383.0 403.6,387.2 397.4,391.6"/>
<polygon points="382.3,387.2 383.6,384.5 386.3,380.6 388.7,379.7 390.2,380.4 388.5,383.2 385.8,385.7"/>
<polygon points="471.7,358.5 472.9,354.2 475.6,350.7 478.4,352.5 476.0,356.4"/>
<polygon points="365.1,391.0 363.6,390.0 363.1,387.4 365.1,386.1 366.7,387.5 366.3,389.6"/>
<polygon points="437.4,347.7 438.0,344.2 441.0,341.6 443.8,340.9 444.5,342.5 442.7,346.5 440.2,347.8"/>
<polygon points="413.7,400.3 412.6,399.9 413.1,396.6 415.6,394.7 416.5,397.6 415.8,399.2"/>
<polygon points="337.2,355.6 336.0,354.4 336.9,350.7 338.2,346.5 340.6,347.5 340.3,350.7 340.2,354.4"/>
<polygon points="394.9,414.7 396.7,411.2 398.2,409.9 401.3,409.1 400.6,411.1 397.1,414.4"/>
<polygon points="357.1,416.8 354.7,413.5 355.5,408.6 357.4,405.8 358.8,406.7 359.4,411.1 358.8,415.2"/>
<polygon points="390.8,354.0 391.0,349.6 392.8,344.8 393.9,346.2 393.6,350.5"/>
<polygon points="468.9,378.4 469.7,373.8 475.6,369.4 479.7,367.3 478.1,372.2 471.6,379.4"/>
<polygon points="472.4,401.8 472.4,397.2 479.0,392.6 483.2,391.9 478.1,399.3"/>
<polygon points="353.3,420.4 353.9,418.7 358.1,415.0 360.5,414.9 358.7,418.3 356.1,420.2"/>
<polygon points="368.9,399.2 369.1,393.8 374.9,385.8 375.1,391.4 372.7,398.5"/>
<polygon points="409.0,384.0 410.3,378.5 416.8,373.5 417.5,376.8 412.8,383.0"/>
<polygon points="370.7,381.4 371.7,377.1 375.8,373.3 377.5,375.4 375.2,378.5"/>
<polygon points="371.4,372.3 369.0,370.9 370.3,366.9 372.9,365.7 373.5,367.5 373.5,371.8"/>
<polygon points="377.8,399.4 377.9,396.8 379.8,394.0 382.3,393.6 385.3,394.2 381.7,398.1 379.3,400.9"/>
<polygon points="428.2,396.1 427.9,393.8 429.3,390.5 431.1,392.0 430.6,394.5"/>
<polygon points="420.1,361.1 419.9,356.2 421.5,352.1 423.7,353.2 422.2,359.3"/>
<polygon points="183.8,371.9 177.0,372.7 172.0,370.6 172.9,366.8 179.4,367.0"/>
<polygon points="250.1,472.1 249.8,469.6 253.3,467.1 258.2,467.9 257.4,471.8 254.6,474.3"/>
<polygon points="259.3,448.8 256.3,449.3 254.6,447.2 256.7,445.1 259.0,446.1"/>
<polygon points="250.9,404.3 250.2,403.2 251.1,399.2 252.4,398.2 253.5,399.3 252.6,402.7"/>
<polygon points="131.8,459.6 131.4,457.8 132.6,456.7 133.7,458.0 133.6,459.4"/>
<polygon points="533.6,321.6 532.0,317.9 534.4,310.4 538.8,311.0 539.0,318.3"/>
<polygon points="448.9,256.6 450.1,251.6 453.1,247.5 458.7,247.0 457.2,251.6 454.9,255.7"/>
<polygon points="470.6,367.2 467.8,366.5 465.1,363.2 469.0,361.4 471.5,362.7"/>
<polygon points="479.8,300.8 478.6,302.9 475.5,304.0 472.1,301.4 473.0,299.1 474.5,298.0 479.9,300.0"/>
<polygon points="325.7,521.5 323.3,518.8 323.3,510.9 325.1,508.2 326.7,511.7 327.7,519.1"/>
<polygon points="347.7,572.6 346.7,568.0 347.9,565.1 350.6,561.8 352.2,564.4 350.8,568.9"/>
<polygon points="320.2,562.6 318.6,556.3 318.3,551.9 321.6,547.3 322.7,549.0 324.4,553.8 321.4,560.2"/>
<polygon points="383.1,567.7 381.3,566.4 378.8,561.0 380.4,559.3 384.1,560.2 385.1,564.6"/>
<polygon points="379.4,531.7 376.0,530.1 374.1,527.5 375.2,522.3 377.9,523.8 380.2,524.9 379.6,528.4"/>
<polygon points="346.2,519.3 343.3,519.2 341.3,509.0 342.9,504.4 345.6,504.4 348.7,510.8 349.6,517.3"/>
<polygon points="312.7,546.1 311.3,543.9 310.8,540.9 312.7,541.4 314.3,544.1"/>
<polygon points="293.4,522.2 292.8,514.9 294.9,505.4 298.7,503.9 299.7,512.7"/>
<polygon points="310.7,612.8 309.1,611.3 311.1,608.3 312.7,608.6 312.8,610.7"/>
<polygon points="324.2,593.9 320.9,591.2 321.1,585.3 323.5,581.8 327.6,580.5 327.9,587.8 328.5,591.4"/>
<polygon points="358.3,556.4 356.0,553.4 355.2,549.3 357.9,549.0 360.0,553.9"/>
<polygon points="321.8,576.4 320.9,575.2 320.1,572.6 321.3,571.4 322.7,571.1 323.0,573.0 323.2,574.7"/>
<polygon points="389.0,577.1 386.3,573.8 387.4,569.5 389.7,568.1 391.4,574.9"/>
<polygon points="351.5,599.8 348.9,599.5 346.6,592.6 347.8,586.0 350.1,588.4 354.5,597.1"/>
<polygon points="363.1,571.9 359.6,569.6 359.3,565.1 361.4,563.3 365.4,566.2 366.5,567.9"/>
<polygon points="372.4,569.9 371.5,567.1 372.3,560.7 375.9,558.7 377.2,561.9 375.7,569.3"/>
<polygon points="333.7,517.7 332.3,515.6 331.3,512.1 334.8,507.9 336.9,507.6 337.9,510.6 335.0,518.6"/>
<polygon points="371.0,591.1 368.1,589.1 366.4,584.0 368.5,579.4 372.0,581.8 373.3,585.9"/>
<polygon points="327.7,539.9 325.5,535.2 326.3,532.0 328.5,530.7 329.3,535.9"/>
<polygon points="371.4,601.8 365.9,600.7 364.4,589.0 369.1,589.7 372.1,594.6"/>
<polygon points="356.3,596.0 351.3,592.2 350.3,585.7 354.9,585.8 356.9,591.9"/>
<polygon points="325.5,579.7 323.3,578.5 320.2,572.2 321.6,569.0 323.5,568.9 326.2,571.7 327.4,578.1"/>
<polygon points="381.6,593.9 377.5,587.0 377.3,579.2 379.5,578.9 383.8,588.6"/>
<polygon points="310.3,555.4 307.5,554.6 305.9,551.9 306.5,550.0 308.7,549.8 310.0,551.8 310.7,553.1"/>
<polygon points="364.4,604.4 361.4,602.2 358.6,597.2 359.3,594.4 360.6,590.9 364.9,596.7 366.5,600.4"/>
<polygon points="371.7,590.0 368.4,589.5 368.0,586.7 369.0,585.4 371.4,586.3 372.1,587.9"/>
<polygon points="378.9,515.3 376.8,511.8 377.8,499.6 382.8,491.7 385.6,499.5 383.4,507.7"/>
<polygon points="378.8,618.0 376.2,618.3 373.8,614.4 373.4,611.3 378.4,610.1 380.4,614.2 381.4,616.3"/>
<polygon points="532.9,563.3 530.4,564.6 526.0,562.9 527.7,559.2 532.1,559.9"/>
<polygon points="423.9,653.0 425.9,650.1 430.3,649.1 433.4,651.0 430.6,653.4 426.8,654.5"/>
<polygon points="459.1,623.9 456.9,619.8 461.5,616.3 464.6,619.2 461.9,625.0"/>
<polygon points="479.2,607.2 475.9,609.2 473.1,608.1 471.1,603.8 472.7,602.5 478.4,603.5"/>
<polygon points="507.2,502.1 505.6,502.7 502.9,502.3 501.7,500.3 503.4,499.3 506.5,499.6"/>
<polygon points="518.2,502.8 515.9,502.1 514.0,499.7 515.1,498.3 517.7,500.5"/>
<polygon points="460.2,624.4 455.7,626.8 452.8,624.3 453.3,621.5 454.3,618.3 460.7,620.6"/>
<polygon points="451.0,520.8 451.6,517.6 453.3,516.1 455.7,516.1 456.4,519.3 453.9,520.8"/>
<polygon points="470.2,621.4 470.9,619.6 473.7,617.5 474.9,618.6 474.5,620.0 472.4,622.3"/>
<polygon points="466.3,651.4 468.0,647.7 470.9,647.5 471.7,649.4 469.3,652.1"/>
<polygon points="438.4,633.9 441.3,630.8 443.2,629.9 447.0,631.3 445.2,633.9 442.5,634.1"/>
<polygon points="508.1,526.1 504.5,523.6 503.9,517.6 505.3,513.8 508.0,514.0 510.5,517.3 509.8,521.8"/>
<polygon points="487.5,507.0 486.4,505.7 487.3,504.2 488.8,503.1 489.6,504.7 489.8,506.0 488.5,507.1"/>
<polygon points="482.0,585.5 480.4,581.6 484.9,578.4 489.7,579.1 489.6,583.6 486.7,586.6"/>
<polygon points="497.7,612.5 497.0,609.7 505.2,607.4 508.3,608.6 508.3,610.9 503.5,614.8 500.4,614.2"/>
<polygon points="534.1,507.4 531.4,508.8 528.4,503.5 530.0,498.4 533.8,498.9 537.2,505.4"/>
<polygon points="451.2,648.0 450.3,643.1 453.3,640.3 455.3,638.6 458.7,642.4 458.2,645.0 454.0,647.4"/>
<polygon points="464.6,549.7 465.0,546.8 467.4,545.3 470.7,547.1 470.4,549.2 465.9,550.5"/>
<polygon points="472.8,573.6 468.7,576.1 465.7,575.1 465.7,571.1 469.3,571.2"/>
<polygon points="458.9,587.8 458.4,581.6 462.5,578.7 464.9,579.7 462.7,586.9"/>
<polygon points="444.2,638.3 446.1,635.3 450.4,634.5 453.7,636.7 453.3,639.1 449.7,641.2 446.7,640.2"/>
<polygon points="519.6,554.8 518.5,551.2 520.3,549.1 522.1,550.1 522.2,553.0"/>
<polygon points="512.2,527.3 513.5,523.5 517.7,521.2 518.3,524.5 515.9,527.4"/>
<polygon points="446.2,642.0 445.8,640.7 451.5,638.1 453.2,638.6 454.4,641.7 452.9,644.0 448.3,643.8"/>
<polygon points="458.7,647.1 459.5,645.3 460.3,645.1 462.5,645.3 462.1,647.0 461.1,648.7 458.7,648.0"/>
<polygon points="448.2,627.1 447.3,628.5 441.0,628.4 437.7,624.6 438.7,623.3 444.6,622.7 448.2,624.4"/>
<polygon points="461.2,661.2 459.8,658.0 461.8,654.6 467.1,652.8 467.8,657.1 463.5,662.5"/>
<polygon points="468.6,515.6 464.6,513.0 464.6,507.5 470.0,507.8 473.2,512.7"/>
<polygon points="489.2,628.9 487.7,628.0 487.7,625.1 488.9,623.2 490.7,623.9 491.1,627.5"/>
<polygon points="503.8,516.3 501.6,515.7 501.7,512.5 502.6,510.2 504.2,511.8 504.5,515.2"/>
<polygon points="472.5,557.4 470.6,557.3 469.5,554.1 470.2,551.6 473.2,553.3 474.0,556.3"/>
<polygon points="576.4,665.5 574.9,660.5 577.5,658.9 581.1,660.3 578.6,663.9"/>
<polygon points="622.0,647.9 621.4,645.8 622.9,644.3 624.8,643.3 625.3,645.0 624.0,647.3"/>
<polygon points="638.0,642.7 636.5,641.5 637.7,638.6 639.9,637.2 640.8,638.5 639.2,641.3"/>
<polygon points="599.8,566.7 598.2,566.1 597.1,562.8 599.3,561.4 600.7,561.5 602.1,564.5 601.8,566.0"/>
<polygon points="593.8,652.0 592.2,650.0 591.5,646.8 593.6,642.3 594.7,641.8 596.6,644.6 596.9,650.0"/>
<polygon points="585.4,607.0 583.1,605.5 582.9,601.2 583.6,599.2 587.0,600.6 587.0,603.4"/>
<polygon points="586.0,612.2 584.9,610.5 586.6,607.7 588.8,607.9 587.8,611.0"/>
<polygon points="640.4,646.5 640.3,641.8 642.9,639.2 645.6,640.1 645.7,644.2"/>
<polygon points="568.6,566.6 565.2,561.0 566.9,554.1 571.2,555.1 572.1,563.3"/>
<polygon points="582.3,661.8 579.5,660.2 579.3,655.5 582.4,654.8 583.6,659.8"/>
<polygon points="649.9,639.9 647.4,639.7 646.1,634.5 649.0,632.4 651.8,633.5 652.5,637.7"/>
<polygon points="541.2,598.1 540.0,597.0 539.3,595.0 540.0,594.3 541.2,594.4 542.5,595.2 542.5,597.0"/>
<polygon points="601.9,624.7 600.8,618.9 604.8,615.5 606.0,618.3 605.4,621.7"/>
<polygon points="587.7,561.9 586.5,562.1 585.1,557.2 587.0,551.8 588.9,550.4 591.7,554.1 590.4,560.2"/>
<polygon points="623.0,558.7 621.3,557.8 620.7,554.7 621.9,553.9 623.8,553.7 625.1,555.4 624.4,557.4"/>
<polygon points="601.5,541.6 600.7,537.9 600.7,535.2 603.0,531.0 606.0,532.4 606.0,536.8 605.5,539.4"/>
<polygon points="644.1,623.4 642.5,621.6 642.2,619.7 643.3,616.1 644.6,617.3 646.5,617.8 646.3,621.5"/>
<polygon points="580.6,584.7 576.9,582.4 579.2,579.0 583.3,579.2 583.8,584.5"/>
<polygon points="600.7,547.1 598.7,545.6 598.0,543.1 599.2,538.4 600.7,536.4 604.3,542.2 604.4,544.9"/>
<polygon points="548.6,622.8 548.6,620.4 550.1,618.1 551.6,618.5 552.3,619.5 550.9,622.6"/>
<polygon points="564.5,561.4 562.4,560.1 561.9,558.0 563.4,556.2 565.3,555.6 566.0,558.0 565.0,560.0"/>
<polygon points="612.8,579.1 611.7,577.1 614.9,572.7 618.2,573.4 615.8,579.9"/>
<polygon points="551.1,547.1 548.9,545.1 550.5,539.5 553.7,540.8 554.7,545.7"/>
<polygon points="640.5,559.8 635.7,557.5 637.0,553.2 639.1,552.7 642.2,557.6"/>
<polygon points="591.2,546.0 588.7,543.5 589.8,540.1 593.1,540.8 593.2,544.1"/>
<polygon points="551.6,588.9 549.4,587.8 549.5,584.4 550.6,583.4 552.8,584.5 552.3,587.7"/>
<polygon points="599.3,614.1 597.1,608.3 600.4,604.3 605.2,605.5 603.3,612.2"/>
<polygon points="576.0,635.2 574.3,634.0 574.4,630.7 577.4,628.4 578.5,630.0 578.6,633.0"/>
<polygon points="599.4,618.7 598.6,615.5 600.0,612.8 603.1,612.0 604.5,612.9 602.4,616.4"/>
<polygon points="586.7,539.6 586.3,538.8 585.9,537.1 587.3,536.5 588.7,536.9 589.1,537.7 588.0,538.9"/>
<polygon points="632.0,561.4 630.8,559.0 630.7,555.4 633.8,554.3 636.7,553.5 636.0,558.1 634.4,562.0"/>
<polygon points="566.7,615.4 564.9,613.3 566.0,608.9 568.1,609.8 568.3,613.6"/>
<polygon points="630.1,568.3 629.5,565.9 630.0,563.9 633.7,561.0 634.3,563.2 634.0,565.5 632.7,567.1"/>
<polygon points="566.2,643.7 564.7,642.2 564.6,638.0 566.2,637.5 568.6,639.4 568.8,641.8"/>
<polygon points="570.7,591.0 568.3,588.0 568.4,584.2 569.4,581.4 572.5,584.3 573.2,586.8"/>
<polygon points="611.1,536.5 606.7,533.8 607.1,526.3 612.2,525.9 613.3,531.3"/>
<polygon points="546.5,564.6 543.0,561.7 543.9,557.8 547.8,554.5 549.7,555.3 551.1,560.5 548.1,564.0"/>
<polygon points="546.8,555.8 545.9,554.7 545.6,553.1 546.8,551.7 547.7,552.4 548.3,553.9 547.9,555.3"/>
<polygon points="546.9,663.1 544.0,659.0 544.3,655.7 546.8,655.9 547.7,658.3"/>
<polygon points="628.8,608.5 627.5,607.3 627.8,605.5 629.4,604.5 630.1,607.1"/>
<polygon points="587.6,560.6 586.1,558.0 587.7,555.8 589.9,555.3 589.4,559.0"/>
<polygon points="633.8,631.6 632.7,629.9 632.8,628.5 634.2,627.2 635.2,627.3 636.1,628.7 635.1,630.3"/>
<polygon points="595.5,606.9 595.0,605.0 595.4,602.1 597.2,600.6 598.6,602.2 597.9,605.9"/>
<polygon points="559.5,647.7 558.4,645.3 561.9,641.3 563.4,642.7 561.6,646.3"/>
<polygon points="626.9,607.1 625.8,603.6 628.3,597.3 631.9,599.0 631.6,603.8"/>
<polygon points="627.0,629.2 626.0,627.5 626.8,626.0 628.1,625.0 630.0,625.3 629.7,627.3 628.0,629.3"/>
<polygon points="559.9,664.8 559.2,663.3 560.7,660.2 562.7,659.4 563.3,661.7 562.6,663.7"/>
<polygon points="624.9,629.2 623.2,627.9 621.2,622.8 622.5,620.0 625.5,622.5 626.5,625.4"/>
<polygon points="546.7,644.2 544.0,641.8 546.7,637.1 550.4,639.2 549.9,641.5"/>
<polygon points="611.0,560.4 608.9,559.1 609.1,556.3 609.4,554.1 610.8,553.0 612.9,555.9 612.7,558.8"/>
<polygon points="579.6,532.6 579.0,531.9 579.6,529.5 580.3,528.7 581.7,529.7 581.1,532.5"/>
<polygon points="582.2,565.3 578.0,561.5 578.8,557.1 582.4,556.8 584.1,562.1"/>
<polygon points="580.7,547.1 579.3,546.7 580.5,542.9 582.9,541.9 583.9,541.9 584.3,545.8 582.7,547.9"/>
<polygon points="597.3,582.4 595.8,581.0 594.7,577.5 595.8,574.6 597.5,575.5 599.2,577.3 599.6,581.1"/>
<polygon points="547.6,664.8 547.4,662.3 548.5,661.0 550.7,661.4 550.7,663.7"/>
<polygon points="624.5,665.8 622.8,665.0 622.9,664.0 623.5,662.2 625.1,662.3 626.2,663.3 626.0,665.2"/>
<polygon points="604.9,668.1 602.5,666.0 601.3,660.9 603.5,659.5 606.2,661.5 607.1,665.4"/>
<polygon points="566.4,565.5 564.6,562.3 566.9,555.3 569.6,554.9 572.6,554.9 571.7,560.8 570.7,562.9"/>
<polygon points="588.5,569.8 588.9,563.8 591.5,558.9 594.8,555.0 595.9,558.4 595.9,563.4 592.5,568.9"/>
<polygon points="575.9,561.5 574.1,557.5 573.9,555.1 576.2,551.9 580.2,554.9 578.6,558.0"/>
<polygon points="544.4,663.1 542.8,660.1 543.3,655.3 545.5,652.3 550.3,653.0 549.4,658.8 546.9,662.6"/>
<polygon points="570.1,627.5 569.0,624.7 570.0,622.6 572.3,622.5 571.7,625.8"/>
<polygon points="562.2,571.5 561.3,571.5 560.9,568.1 561.7,566.2 562.9,567.2 563.5,568.0 563.4,571.3"/>
<polygon points="626.8,561.2 624.9,559.7 625.3,558.2 626.4,556.5 627.8,557.2 628.6,558.0 628.1,560.2"/>
<polygon points="637.9,538.4 635.3,532.5 638.4,529.7 643.1,530.5 642.1,535.5"/>
<polygon points="647.0,536.8 645.8,536.5 645.2,535.4 646.0,534.2 646.9,534.1 648.1,535.0 647.6,536.2"/>
<polygon points="559.9,589.5 558.5,585.6 560.4,583.6 563.0,583.6 561.9,587.7"/>
<polygon points="553.7,580.4 552.4,579.2 552.0,577.8 553.7,577.6 555.2,578.6 554.6,579.5"/>
<polygon points="629.2,636.3 627.2,635.1 628.5,633.3 630.8,633.7 630.5,635.4"/>
<polygon points="578.3,546.2 574.8,543.9 576.8,537.5 580.7,537.3 581.3,544.3"/>
<polygon points="612.2,701.1 608.8,699.0 607.7,696.1 607.9,692.1 611.7,692.0 613.1,695.1 614.4,700.4"/>
<polygon points="654.2,678.5 652.7,678.9 650.8,676.9 651.6,673.8 654.7,674.1 655.4,675.4"/>
<polygon points="652.1,679.0 650.6,674.2 653.1,669.3 657.4,668.8 656.5,677.6"/>
<polygon points="627.2,693.4 626.9,689.4 627.9,686.5 631.1,682.1 632.4,681.8 632.1,687.0 630.4,692.6"/>
<polygon points="272.4,660.7 270.4,659.4 269.6,656.7 271.5,654.7 274.2,656.0 274.9,658.3"/>
<polygon points="247.1,617.1 245.1,617.2 243.4,613.4 245.9,612.3 247.7,614.1"/>
<polygon points="246.8,627.5 244.7,627.1 243.7,624.9 244.0,622.9 245.0,622.4 246.9,623.3 247.1,626.7"/>
<polygon points="264.4,667.5 263.6,667.1 261.7,663.9 263.0,661.4 265.2,661.6 267.2,663.6 266.7,666.3"/>
<polygon points="251.3,661.8 249.3,659.0 250.0,656.4 252.4,655.3 252.8,659.5"/>
<polygon points="222.3,581.3 219.3,582.2 218.4,580.3 218.2,577.4 220.6,577.0 222.4,579.2"/>
<polygon points="226.9,595.0 225.0,596.0 223.0,595.4 223.5,591.9 225.1,590.9 227.4,592.6"/>
<polygon points="261.1,635.9 258.6,635.8 256.4,634.3 255.9,631.1 257.4,630.2 259.7,631.2 260.5,633.5"/>
<polygon points="261.9,643.6 260.1,642.6 261.2,640.7 262.8,640.4 264.0,642.6"/>
<polygon points="1570.3,422.9 1566.2,420.8 1565.3,417.0 1567.9,417.0 1570.3,419.0"/>
<polygon points="1547.4,427.6 1545.8,421.4 1546.5,413.7 1550.7,413.7 1551.8,421.6"/>
<polygon points="1575.0,422.0 1572.2,420.3 1571.9,414.7 1573.9,412.8 1575.3,413.1 1576.0,419.0"/>
<polygon points="1594.5,414.2 1593.4,413.1 1592.8,409.9 1594.2,409.2 1595.9,410.0 1596.5,412.5"/>
<polygon points="1556.0,424.8 1552.9,421.6 1553.8,418.0 1557.6,417.8 1557.7,422.2"/>
<polygon points="1578.6,441.2 1577.5,439.7 1578.2,437.9 1579.7,437.4 1580.5,438.6 1580.6,440.7"/>
<polygon points="1572.2,447.2 1570.7,447.2 1569.3,445.2 1569.8,444.2 1570.1,442.7 1572.1,444.2 1572.9,445.6"/>
<polygon points="1559.4,425.8 1557.4,424.8 1555.5,420.9 1557.6,418.6 1559.6,420.2 1560.9,424.0"/>
<polygon points="1551.6,393.2 1550.7,391.2 1552.1,386.4 1554.1,387.3 1554.1,391.7"/>
<polygon points="998.6,444.4 996.8,444.6 995.9,443.1 995.5,441.0 997.1,441.0 998.7,442.1"/>
<polygon points="985.9,451.5 986.2,449.6 987.7,448.7 990.4,448.9 991.0,450.3 989.2,451.8 987.2,451.9"/>
<polygon points="1074.2,470.3 1073.3,470.2 1072.0,467.9 1072.3,466.5 1073.7,467.2 1074.4,468.5"/>
<polygon points="1064.8,444.4 1065.4,443.3 1066.6,442.6 1067.8,443.0 1067.6,444.0 1066.5,444.5"/>
<polygon points="1017.8,455.8 1017.3,456.6 1016.0,456.5 1015.3,455.5 1015.4,454.6 1017.1,454.4 1018.0,455.1"/>
<polygon points="966.2,453.4 966.8,451.9 969.3,451.5 970.7,451.9 971.6,452.4 969.1,454.1 968.1,454.1"/>
<polygon points="1047.3,446.6 1046.3,448.1 1045.2,447.9 1043.6,446.5 1044.6,444.8 1045.4,443.9 1047.6,444.7"/>
<polygon points="1009.5,468.6 1008.6,467.6 1008.0,467.3 1008.8,465.8 1009.7,465.9 1010.6,467.0 1010.5,467.5"/>
<polygon points="977.9,450.3 977.0,450.8 975.1,449.2 974.9,448.1 976.2,447.9 977.8,448.8"/>
<polygon points="498.7,452.3 497.2,453.6 494.3,452.7 492.6,450.7 494.2,449.0 497.2,447.5 498.5,449.8"/>
<polygon points="503.3,454.6 501.7,454.4 501.2,451.1 502.0,450.2 503.6,449.6 504.5,450.6 503.6,453.6"/>
<polygon points="488.8,483.3 489.3,480.3 491.8,477.5 495.0,478.3 495.9,480.2 495.0,482.6 492.4,483.3"/>
<polygon points="512.0,450.4 510.5,451.8 505.5,450.6 506.3,447.5 509.6,447.0"/>
<polygon points="509.3,393.1 507.9,391.0 507.9,388.4 509.5,388.0 511.0,389.2 510.7,391.2"/>
<polygon points="507.2,457.5 504.7,458.4 503.5,458.1 502.7,456.3 503.8,455.0 506.3,456.5"/>
<polygon points="500.9,459.1 501.0,455.2 504.1,452.7 507.6,452.0 508.5,454.9 503.5,460.5"/>
<polygon points="519.6,431.8 517.6,430.6 517.7,428.7 519.2,427.8 521.0,428.2 520.8,429.5"/>
<polygon points="508.7,398.7 510.7,395.4 513.6,394.1 516.8,394.2 517.0,395.6 516.0,398.5 509.7,400.4"/>
<polygon points="484.5,480.6 483.2,479.9 483.3,477.4 483.9,474.9 485.3,477.0 485.9,479.0"/>
<polygon points="493.2,438.4 490.7,437.8 489.3,436.8 491.2,434.7 493.1,435.9"/>
<polygon points="491.7,461.2 491.5,458.0 493.8,455.3 497.6,454.3 500.0,455.8 497.8,460.4 495.1,462.5"/>
<polygon points="506.1,413.4 504.2,413.4 503.7,412.4 502.8,411.1 503.7,409.9 505.3,410.4 506.5,411.3"/>
<polygon points="495.0,450.9 494.0,449.1 496.8,445.8 502.1,445.8 502.2,448.4 501.4,450.4 497.0,452.1"/>
<polygon points="511.8,442.2 510.3,440.0 511.0,437.0 515.5,433.9 516.6,436.8 516.7,438.6 514.6,442.4"/>
<polygon points="489.9,472.1 492.0,470.7 495.7,470.7 495.9,472.3 495.4,474.2 492.8,474.0"/>
<polygon points="491.1,440.5 489.3,437.7 487.0,434.0 488.9,431.4 491.3,430.0 492.9,433.4 492.3,437.9"/>
<polygon points="500.3,408.8 499.7,408.0 499.9,405.9 500.6,404.4 503.3,405.4 502.8,406.7 501.9,408.2"/>
<polygon points="493.3,427.9 490.7,424.8 493.4,422.8 495.1,424.0 495.5,427.5"/>
<polygon points="482.3,399.3 482.8,396.3 486.9,394.5 488.0,396.4 489.2,399.0 483.9,401.2"/>
<polygon points="490.1,400.6 488.0,402.6 485.1,399.7 486.3,395.8 489.5,395.1 490.9,397.2"/>
<polygon points="491.3,441.1 493.6,439.7 495.2,439.1 497.4,439.0 498.3,441.1 496.8,442.9 493.7,442.5"/>
<polygon points="488.4,444.4 486.5,439.8 492.2,434.0 494.6,435.5 491.9,443.8"/>
<polygon points="487.1,413.6 485.3,409.6 486.7,406.7 489.1,406.2 490.5,408.9 489.0,412.8"/>
<polygon points="1309.7,691.1 1311.4,688.7 1314.3,685.8 1318.0,684.3 1317.8,686.2 1316.8,688.3 1313.0,690.7"/>
<polygon points="1276.1,712.0 1275.0,710.8 1279.8,707.2 1281.3,707.2 1282.4,708.0 1281.0,710.6 1277.3,712.1"/>
<polygon points="1287.9,726.4 1287.2,724.4 1290.0,720.7 1291.9,720.0 1294.2,720.6 1293.6,723.1 1290.3,726.6"/>
<polygon points="1269.7,723.3 1268.8,722.6 1270.1,720.2 1272.3,718.4 1273.0,719.8 1272.6,722.2 1271.9,724.3"/>
<polygon points="1242.8,736.3 1244.9,730.6 1249.1,728.3 1251.0,730.5 1246.5,735.7"/>
<polygon points="1250.3,705.0 1250.5,702.2 1251.1,699.8 1253.5,696.9 1254.3,699.5 1252.3,704.2"/>
<polygon points="1320.4,668.2 1322.7,664.1 1325.6,661.5 1327.7,659.9 1328.7,661.7 1326.7,664.7 1324.8,666.6"/>
<polygon points="1323.3,671.6 1322.5,669.4 1326.3,667.2 1329.6,666.6 1330.7,669.0 1328.4,670.6 1325.7,672.1"/>
<polygon points="1318.0,691.9 1317.3,690.3 1317.9,688.2 1319.7,685.9 1320.8,685.8 1321.1,689.3 1319.6,691.0"/>
<polygon points="1248.8,705.6 1248.7,703.4 1249.0,700.6 1252.3,697.0 1253.4,699.7 1253.6,702.1 1251.2,704.8"/>
</g>
<g fill="#EEAA00"><!-- speck O -->
<polygon points="376.2,520.4 374.8,518.6 376.2,513.7 378.0,512.7 378.9,516.0 378.4,518.3"/>
<polygon points="366.4,619.5 364.2,616.6 361.5,612.3 366.1,610.0 369.8,609.8 369.5,616.7"/>
<polygon points="330.0,544.1 327.4,539.9 330.6,532.4 332.4,528.6 337.0,533.0 336.2,540.6"/>
<polygon points="336.4,569.5 335.5,569.1 333.7,568.2 335.3,565.7 337.3,565.2 338.6,566.8 338.1,568.4"/>
<polygon points="357.2,511.7 354.0,504.9 356.5,501.2 359.5,501.0 360.6,506.7"/>
<polygon points="347.3,617.6 344.6,615.3 344.3,611.2 347.8,610.4 349.6,611.6 349.6,615.8"/>
<polygon points="356.6,509.3 354.8,507.0 355.7,502.2 357.0,501.1 357.7,505.3"/>
<polygon points="325.8,550.4 322.6,547.4 325.0,541.8 327.5,537.8 330.1,543.2 329.1,547.2"/>
<polygon points="365.9,539.3 363.5,536.9 364.4,534.2 366.6,533.8 368.3,535.4 366.9,537.7"/>
<polygon points="330.3,595.3 327.7,592.9 327.1,588.4 329.5,587.1 332.3,592.0"/>
<polygon points="321.8,593.2 321.1,593.0 320.0,590.5 320.0,588.3 321.1,587.9 322.9,589.7 322.8,592.1"/>
<polygon points="331.9,518.5 329.2,517.4 327.5,513.3 329.3,510.1 332.7,511.8 333.0,515.2"/>
<polygon points="265.9,585.7 262.5,584.4 261.3,580.7 261.8,578.1 265.6,582.1"/>
<polygon points="251.2,553.3 249.1,553.3 249.0,551.7 249.3,549.9 250.3,549.5 252.5,550.8 253.0,552.5"/>
<polygon points="355.6,669.0 352.5,669.8 350.6,663.8 352.5,662.1 356.4,666.7"/>
<polygon points="292.3,603.2 288.0,596.6 286.0,587.4 292.1,588.6 294.3,597.9"/>
<polygon points="298.9,622.6 296.0,619.7 296.4,616.4 298.3,613.7 300.7,615.4 300.3,620.5"/>
<polygon points="302.6,615.4 300.9,613.5 301.0,611.8 303.3,611.0 304.1,613.7"/>
<polygon points="334.2,568.8 331.9,567.9 331.4,566.1 334.2,565.0 335.4,566.8"/>
<polygon points="358.7,626.2 356.6,621.4 354.8,614.4 358.1,607.3 361.0,607.3 364.1,614.7 362.1,620.2"/>
<polygon points="326.7,643.3 323.9,642.9 321.4,633.5 322.5,624.6 326.9,626.5 328.7,632.9 329.6,637.9"/>
<polygon points="377.5,669.8 373.4,669.7 371.6,663.5 375.4,661.0 378.3,665.7"/>
<polygon points="252.9,537.2 250.4,535.9 249.2,530.1 247.3,520.5 251.5,520.6 255.6,528.4 255.3,534.2"/>
<polygon points="320.4,632.6 317.1,629.6 315.7,628.1 315.2,624.3 318.7,621.9 321.9,624.4 322.4,629.3"/>
<polygon points="254.3,528.2 250.8,524.4 248.0,519.1 251.6,515.0 257.2,521.2"/>
<polygon points="359.6,622.8 354.0,619.6 350.1,609.5 356.6,609.3 361.9,619.2"/>
<polygon points="353.9,649.6 350.2,644.2 350.8,636.6 353.1,631.3 357.4,638.8 356.7,644.0"/>
<polygon points="330.6,619.8 327.8,615.9 326.6,607.9 331.3,600.6 334.3,607.7 334.2,614.3"/>
<polygon points="265.0,568.7 263.2,566.1 260.9,557.5 263.3,551.5 266.9,552.8 268.0,557.8 267.4,566.5"/>
<polygon points="394.3,706.2 390.2,701.7 390.5,694.8 393.1,694.3 395.8,695.0 395.5,702.4"/>
<polygon points="309.8,597.5 308.8,596.9 309.0,594.1 310.6,591.8 311.7,593.1 311.6,597.3"/>
<polygon points="334.4,638.8 331.1,638.7 327.6,632.9 328.2,628.0 330.3,627.1 333.9,628.5 336.7,634.6"/>
<polygon points="348.5,598.8 344.7,594.0 343.9,589.4 348.4,588.8 351.1,595.8"/>
<polygon points="299.4,531.0 295.3,523.4 295.0,518.8 297.3,514.3 300.6,522.0"/>
<polygon points="266.5,615.9 263.6,612.8 262.6,610.4 262.8,604.7 264.1,605.6 265.9,607.4 266.7,611.6"/>
<polygon points="293.3,620.5 291.6,614.9 294.3,606.4 297.4,607.2 297.1,617.1"/>
<polygon points="366.9,695.6 364.0,694.3 362.6,691.1 361.8,687.9 365.3,687.6 366.9,689.2 367.5,693.7"/>
<polygon points="325.1,687.4 319.5,683.0 315.7,675.1 316.4,669.2 322.4,676.4 325.5,680.2"/>
<polygon points="246.2,591.1 243.6,590.7 240.1,587.2 241.3,585.1 242.5,583.1 247.0,584.5 248.2,586.4"/>
<polygon points="355.1,660.3 353.4,658.8 353.1,655.7 354.3,653.5 355.8,652.8 356.7,655.3 356.2,659.8"/>
<polygon points="353.5,656.8 351.6,655.5 350.7,652.5 350.7,650.2 352.1,648.8 353.7,651.6 354.6,654.4"/>
<polygon points="284.7,590.2 282.2,587.9 282.5,581.2 285.5,578.5 287.2,579.8 287.0,586.2"/>
<polygon points="400.4,573.8 397.1,569.0 397.2,555.4 399.9,550.3 403.8,552.1 405.8,558.3 403.1,568.8"/>
<polygon points="432.7,527.9 432.3,526.3 433.9,524.0 434.9,523.5 436.7,525.9 435.2,527.9"/>
<polygon points="447.0,568.7 443.2,565.7 443.0,559.5 446.5,560.0 449.0,564.4"/>
<polygon points="405.0,553.3 403.5,551.8 405.1,550.7 406.0,550.6 406.3,552.7"/>
<polygon points="419.6,596.3 418.2,588.7 420.7,580.4 423.7,578.9 423.1,591.0"/>
<polygon points="414.3,597.9 412.9,596.6 412.4,595.0 414.7,593.9 415.5,594.7 415.8,597.7"/>
<polygon points="435.8,528.0 436.7,521.6 437.6,513.7 443.9,506.0 445.8,512.4 445.7,515.4 440.1,526.1"/>
<polygon points="409.3,587.2 408.4,585.5 408.3,581.6 409.6,580.7 411.1,580.5 411.3,583.3 411.5,586.1"/>
<polygon points="445.8,541.2 442.3,535.9 441.0,531.4 442.8,526.0 445.3,530.0 447.6,537.0"/>
<polygon points="430.6,515.4 430.4,514.1 430.7,511.7 432.7,509.4 434.0,511.0 433.7,512.6 432.5,514.5"/>
<polygon points="405.5,647.8 402.1,644.9 400.8,635.5 404.1,635.8 406.5,641.8"/>
<polygon points="503.7,612.3 498.2,608.6 497.4,604.6 498.9,598.9 503.2,600.1 505.8,607.5"/>
<polygon points="495.5,619.0 494.3,618.3 493.7,616.8 494.6,615.1 496.7,614.9 497.5,616.5 497.3,618.8"/>
<polygon points="499.0,622.5 498.5,619.5 500.4,618.4 501.6,619.9 500.6,622.0"/>
<polygon points="499.2,642.2 497.9,640.5 499.5,636.6 501.2,635.6 502.1,635.8 502.5,637.9 500.5,640.8"/>
<polygon points="495.9,624.9 498.1,620.7 502.3,617.7 506.2,618.7 504.4,622.9 501.5,626.1"/>
<polygon points="479.7,660.7 477.1,659.5 477.5,652.3 482.0,647.4 484.8,647.2 485.7,652.1 483.1,657.7"/>
<polygon points="525.0,619.2 522.4,621.7 512.5,615.9 513.4,611.3 521.3,614.1"/>
<polygon points="491.1,615.7 490.0,614.2 491.9,612.1 493.3,612.7 493.8,615.4"/>
<polygon points="527.6,645.2 521.9,647.1 513.8,646.3 514.2,640.3 524.5,640.1"/>
<polygon points="508.9,615.7 509.9,613.1 513.6,612.0 513.9,615.2 510.9,617.5"/>
<polygon points="329.2,638.8 327.9,638.5 327.1,637.0 328.0,635.9 329.9,636.5 330.1,637.8"/>
<polygon points="342.6,664.6 340.8,662.6 339.8,655.2 339.5,651.0 342.9,653.1 345.2,663.2"/>
<polygon points="336.7,621.4 335.3,619.6 334.3,615.8 335.0,611.8 337.4,614.5 338.6,617.7"/>
<polygon points="389.8,649.3 388.0,647.0 389.3,642.9 391.9,640.5 392.8,643.4 391.1,648.4"/>
<polygon points="305.5,623.8 305.0,620.9 304.9,618.2 307.0,615.0 307.7,619.1 307.9,622.5"/>
<polygon points="389.6,619.9 386.1,616.8 384.9,613.3 384.2,606.8 386.7,608.6 388.5,609.7 390.1,615.2"/>
<polygon points="398.0,647.8 395.1,648.1 393.3,643.8 392.8,641.7 394.9,642.0 397.1,645.7"/>
<polygon points="383.9,652.1 381.3,652.1 380.1,651.7 380.7,649.5 382.7,648.5 384.1,649.5 384.5,650.8"/>
<polygon points="394.2,616.7 391.5,615.4 389.5,613.2 391.7,611.0 392.8,612.0 394.6,614.5"/>
<polygon points="383.2,654.0 380.2,649.4 378.3,644.8 378.8,640.4 382.9,644.0 384.8,649.4"/>
<polygon points="681.9,674.8 681.3,671.3 684.7,669.1 690.0,669.3 692.7,671.5 688.2,675.8 683.5,676.6"/>
<polygon points="683.9,686.4 682.1,685.7 681.5,683.7 681.4,681.4 682.9,680.4 684.7,683.7 684.9,685.1"/>
<polygon points="638.0,719.5 636.6,722.0 634.1,720.9 635.2,718.2 637.6,718.1"/>
<polygon points="661.1,706.0 657.9,703.5 659.1,700.8 661.8,699.8 663.8,701.5 663.2,704.4"/>
<polygon points="629.4,719.1 630.6,717.1 632.3,716.4 634.5,717.4 635.6,719.8 632.7,720.5 630.8,720.3"/>
<polygon points="649.0,691.3 648.6,690.0 651.2,689.1 652.5,690.0 652.9,691.1 650.9,692.7"/>
<polygon points="657.2,721.1 652.9,719.4 650.8,716.6 654.7,712.8 657.9,714.0 659.1,719.4"/>
<polygon points="619.0,673.9 623.2,670.5 627.7,670.4 630.2,672.8 626.3,675.3 621.1,675.9"/>
<polygon points="623.9,683.0 621.7,681.4 623.4,678.5 624.9,677.8 626.5,681.0"/>
<polygon points="618.9,687.4 615.6,689.6 612.1,687.8 612.0,682.5 615.6,681.2 620.0,682.7"/>
<polygon points="633.0,720.3 630.3,714.4 629.5,707.2 633.6,707.2 635.7,714.5"/>
<polygon points="618.5,700.0 617.1,697.9 620.1,694.7 621.1,696.6 620.4,698.5"/>
<polygon points="626.4,729.9 627.5,726.4 631.0,724.3 633.1,727.0 631.3,729.4"/>
<polygon points="682.6,704.8 680.3,704.5 679.0,702.1 680.2,699.7 684.1,701.6"/>
<polygon points="651.5,736.9 652.0,729.4 654.8,724.5 659.1,726.4 657.0,733.2"/>
<polygon points="638.7,672.1 640.6,668.7 646.0,666.7 646.2,669.5 643.0,672.4"/>
<polygon points="237.7,620.1 236.0,620.6 234.1,617.8 236.2,616.9 238.1,618.1"/>
<polygon points="254.9,643.3 252.2,642.7 250.4,639.8 250.7,638.5 252.6,637.6 255.5,639.1 255.5,640.3"/>
<polygon points="284.6,718.2 282.3,718.4 281.1,717.4 281.2,714.6 283.4,713.8 285.3,716.5"/>
<polygon points="236.6,616.6 233.4,616.8 232.1,614.1 233.2,611.8 236.2,611.8 237.4,613.7"/>
<polygon points="144.5,554.0 141.8,552.4 143.5,549.0 147.4,546.6 149.0,547.8 149.3,551.5 147.6,553.8"/>
<polygon points="170.1,544.6 167.9,544.4 165.5,543.4 165.4,540.9 167.5,540.5 169.1,543.0"/>
<polygon points="119.3,526.4 116.9,527.9 114.2,527.9 113.9,524.2 115.4,522.6 118.5,523.1 121.0,524.1"/>
<polygon points="226.2,530.2 222.1,529.6 216.9,524.7 220.0,520.6 226.7,525.4"/>
<polygon points="215.9,559.3 215.4,554.6 218.0,550.7 221.8,550.5 222.7,553.7 220.3,558.5"/>
<polygon points="208.1,557.7 204.5,558.2 199.7,553.5 199.5,551.5 202.1,547.3 206.5,551.3 208.1,554.1"/>
<polygon points="162.9,536.9 168.0,532.0 175.7,529.6 178.1,532.6 170.0,537.7"/>
<polygon points="135.1,533.2 132.0,537.1 122.9,535.4 122.8,531.9 129.8,529.6"/>
<polygon points="228.1,530.7 227.2,530.1 227.1,527.3 228.3,526.5 230.2,527.5 230.3,530.1"/>
<polygon points="221.5,510.8 218.8,503.9 222.4,499.3 226.8,500.1 226.4,506.9"/>
<polygon points="186.1,550.5 185.8,547.2 186.8,543.2 189.0,539.8 191.2,541.0 193.6,544.9 189.0,549.4"/>
<polygon points="162.1,561.2 159.3,557.1 160.5,550.5 162.5,548.6 166.9,550.3 165.4,556.1"/>
<polygon points="211.1,532.0 211.1,530.0 213.5,529.1 215.1,531.5 213.9,532.9"/>
<polygon points="165.9,532.2 162.4,535.0 154.8,532.6 153.8,530.5 154.7,526.7 160.5,525.7 163.1,530.5"/>
<polygon points="1549.4,443.1 1548.1,438.9 1548.9,432.2 1551.7,431.1 1552.9,439.6"/>
<polygon points="1542.5,422.1 1540.5,419.4 1540.0,414.7 1540.8,410.6 1543.4,413.9 1543.8,418.2"/>
<polygon points="1579.6,415.2 1577.4,410.2 1577.9,401.2 1581.8,398.4 1583.1,403.3 1581.8,410.3"/>
<polygon points="1569.1,448.3 1566.7,447.6 1563.2,441.2 1563.6,433.8 1566.0,436.6 1569.0,441.5 1569.9,445.2"/>
<polygon points="1545.1,464.7 1542.5,460.4 1539.2,447.8 1541.6,444.1 1545.5,448.3 1547.3,458.8"/>
<polygon points="1593.7,412.1 1589.7,409.2 1586.0,404.8 1585.1,401.8 1585.3,398.1 1590.0,403.2 1592.1,406.4"/>
<polygon points="1550.8,423.1 1547.4,421.9 1545.6,418.1 1546.7,414.1 1548.6,416.0 1551.4,421.0"/>
<polygon points="1581.1,417.6 1577.6,413.9 1578.2,410.1 1581.0,408.9 1582.4,408.9 1584.9,412.1 1583.5,415.6"/>
<polygon points="1594.9,397.2 1592.8,395.9 1590.2,393.2 1592.0,390.8 1593.3,390.1 1595.4,394.6"/>
<polygon points="1560.5,396.1 1558.2,394.9 1556.8,392.5 1555.8,389.8 1559.0,388.6 1561.1,389.7 1562.5,392.2"/>
<polygon points="1578.0,420.7 1574.5,418.8 1574.3,407.6 1576.5,404.9 1579.7,408.9 1579.2,417.7"/>
<polygon points="1574.5,446.1 1572.2,446.0 1570.2,440.5 1570.0,433.9 1571.8,435.6 1574.5,438.8 1576.3,445.5"/>
<polygon points="1593.3,452.2 1591.5,450.1 1590.7,444.4 1593.0,445.1 1595.0,451.1"/>
<polygon points="972.5,464.2 974.0,462.3 976.8,460.7 978.7,462.1 978.5,464.2 976.3,465.8 975.2,466.1"/>
<polygon points="898.7,445.0 899.9,443.0 902.8,443.4 902.8,444.7 900.6,446.0"/>
<polygon points="963.4,458.1 961.8,457.3 963.1,453.2 964.1,450.0 966.2,450.9 967.2,453.2 965.4,457.3"/>
<polygon points="1052.9,474.0 1052.1,471.7 1052.8,468.9 1054.3,469.3 1054.9,470.1 1054.4,472.5"/>
<polygon points="1059.4,446.5 1058.0,446.9 1056.2,444.8 1057.0,443.9 1058.6,444.6"/>
<polygon points="1049.5,468.7 1048.2,469.1 1046.8,468.4 1045.9,467.4 1045.9,466.7 1048.0,466.9 1048.6,467.6"/>
<polygon points="912.1,462.8 911.3,460.0 912.6,457.9 914.2,458.1 913.3,460.6"/>
<polygon points="1027.0,469.8 1026.8,468.5 1027.7,466.8 1028.6,467.6 1028.4,469.1"/>
<polygon points="905.9,466.0 905.9,463.0 907.3,461.5 909.2,462.8 909.0,465.3"/>
<polygon points="1084.2,469.7 1085.8,467.5 1087.5,466.9 1088.8,468.3 1088.5,470.5 1086.8,471.7"/>
<polygon points="1094.6,446.0 1095.0,444.6 1099.1,443.7 1099.5,444.9 1099.1,447.3 1097.0,448.1"/>
<polygon points="980.5,458.4 979.4,459.6 975.9,458.8 976.5,455.5 979.3,455.5"/>
<polygon points="920.4,449.9 918.5,449.4 918.3,447.0 918.5,445.2 920.1,445.9 921.4,448.4"/>
<polygon points="1127.5,452.9 1125.2,451.4 1125.4,449.5 1126.5,448.6 1127.4,450.6"/>
<polygon points="1060.2,453.0 1059.8,450.8 1061.1,448.8 1062.5,448.4 1063.1,448.8 1063.0,451.3 1061.8,452.7"/>
<polygon points="941.6,471.8 940.7,473.3 938.8,473.5 937.9,471.7 937.9,470.1 938.9,469.1 940.8,469.3"/>
<polygon points="996.5,462.4 995.8,460.6 998.2,457.6 999.5,458.9 998.6,461.1"/>
<polygon points="1011.4,454.4 1009.1,454.6 1005.0,454.5 1003.4,452.4 1005.6,450.8 1010.0,451.0"/>
<polygon points="1109.4,453.7 1106.3,453.5 1105.9,449.3 1108.2,449.6 1110.5,450.7"/>
<polygon points="1118.5,446.3 1117.5,446.1 1115.9,446.1 1115.3,444.5 1115.0,442.9 1117.0,442.9 1118.3,443.6"/>
<polygon points="970.9,464.3 969.1,464.1 967.6,462.1 967.7,460.8 969.7,460.9 970.5,462.5"/>
<polygon points="925.5,444.5 924.9,443.1 925.8,441.5 927.1,442.4 927.4,444.2"/>
<polygon points="1118.0,445.4 1117.7,444.2 1120.4,442.0 1121.4,442.2 1121.2,444.1 1119.7,445.1"/>
<polygon points="961.5,447.5 960.0,447.2 959.6,446.1 960.0,444.6 961.2,444.7 962.0,445.5 962.0,446.8"/>
<polygon points="1097.0,472.4 1095.8,470.7 1096.8,469.8 1098.4,468.6 1100.1,469.8 1100.4,471.0 1098.2,473.5"/>
<polygon points="923.1,460.6 921.5,461.8 919.1,460.7 915.8,458.3 917.0,456.5 919.6,456.5 921.9,458.4"/>
<polygon points="1214.1,497.0 1214.9,494.7 1217.2,492.4 1219.5,492.4 1219.9,494.1 1220.3,495.4 1216.3,496.5"/>
<polygon points="1238.6,483.3 1237.2,485.5 1235.6,484.7 1234.9,482.6 1237.0,481.6"/>
<polygon points="1243.0,472.0 1243.3,469.9 1246.1,468.1 1247.7,469.3 1245.2,471.8"/>
<polygon points="1178.9,458.3 1178.3,457.7 1179.3,456.3 1180.4,456.9 1180.4,458.0"/>
<polygon points="1247.1,492.5 1248.5,490.9 1250.4,490.9 1251.5,492.0 1249.4,493.3"/>
<polygon points="1250.7,491.1 1249.9,489.4 1250.6,487.9 1252.1,487.0 1252.7,488.5 1251.9,490.5"/>
<polygon points="1273.4,494.7 1271.5,494.1 1270.0,491.3 1271.4,489.9 1272.8,489.6 1274.7,492.2"/>
<polygon points="1228.7,460.4 1228.0,458.1 1229.8,457.1 1231.4,456.2 1232.9,458.1 1232.5,459.3 1230.5,460.5"/>
<polygon points="1208.3,454.3 1204.9,454.5 1202.1,450.7 1204.0,449.5 1207.6,450.7"/>
<polygon points="1257.5,473.0 1255.0,473.7 1253.3,470.9 1254.2,468.7 1257.1,470.3"/>
<polygon points="1224.5,485.6 1222.8,484.6 1223.1,482.9 1224.3,481.3 1225.1,484.5"/>
<polygon points="1227.4,456.4 1228.2,454.9 1229.7,454.7 1230.5,456.9 1228.4,457.2"/>
<polygon points="1181.4,478.7 1180.1,474.2 1180.5,470.9 1182.4,467.9 1184.8,472.1 1184.5,475.2"/>
<polygon points="704.8,415.1 703.1,414.8 702.4,413.6 703.3,412.5 704.5,412.9 705.5,414.7"/>
<polygon points="875.4,427.6 874.8,426.7 876.1,425.8 877.2,426.6 876.9,427.4"/>
<polygon points="696.3,417.2 698.6,414.1 701.7,414.3 703.4,417.3 702.2,418.9 698.5,418.4"/>
<polygon points="737.2,415.0 738.3,413.1 740.1,412.5 740.5,413.9 739.4,415.0"/>
<polygon points="747.6,421.6 746.8,418.8 748.1,416.6 749.5,416.3 750.4,418.4 749.1,420.2"/>
<polygon points="777.8,411.5 776.7,411.9 775.7,411.4 775.4,410.5 775.9,409.6 777.2,410.0 777.9,410.8"/>
<polygon points="767.6,431.2 766.7,429.9 768.2,427.9 769.7,428.9 768.5,431.0"/>
<polygon points="887.5,406.6 885.1,404.4 884.3,401.5 884.9,396.5 887.5,396.6 888.4,398.7 888.9,403.1"/>
<polygon points="792.2,425.5 790.3,425.1 790.1,423.2 790.9,422.4 792.5,423.3 792.8,424.4"/>
<polygon points="867.0,426.6 863.6,427.0 860.9,425.4 861.0,423.5 864.5,424.2"/>
<polygon points="1399.0,503.4 1401.2,499.6 1404.8,498.0 1405.3,499.9 1403.2,502.4"/>
<polygon points="1412.1,529.1 1411.0,525.9 1413.0,524.0 1415.2,524.4 1415.9,526.7 1413.9,529.7"/>
<polygon points="1398.6,505.6 1399.2,504.6 1400.4,503.9 1401.8,504.4 1401.6,506.3 1399.9,506.5"/>
<polygon points="1401.9,500.8 1402.9,499.1 1404.3,497.9 1405.2,498.2 1406.4,499.5 1405.4,500.9 1402.9,501.3"/>
<polygon points="1410.2,517.1 1410.5,515.8 1411.0,513.7 1413.6,513.7 1414.2,514.6 1414.1,516.1 1411.9,517.7"/>
<polygon points="1472.9,498.0 1475.0,496.2 1478.5,495.3 1480.0,497.2 1478.6,499.3 1474.7,499.2"/>
<polygon points="1463.4,501.2 1465.4,497.5 1471.2,494.2 1470.8,497.5 1466.0,501.1"/>
<polygon points="1447.9,511.2 1447.5,508.9 1451.5,508.8 1453.7,510.3 1452.6,512.3 1448.6,512.5"/>
<polygon points="1385.3,502.8 1387.6,500.6 1393.1,500.9 1392.6,503.4 1388.3,504.4"/>
<polygon points="1375.0,534.9 1374.9,533.6 1376.7,532.8 1378.5,532.7 1377.6,534.7 1376.8,535.7"/>
<polygon points="1372.3,506.3 1375.8,503.7 1380.0,504.1 1379.4,506.1 1374.5,507.0"/>
<polygon points="1431.4,531.3 1434.6,529.2 1441.9,527.4 1444.2,529.4 1439.7,531.8 1434.6,532.1"/>
<polygon points="1475.7,512.9 1475.4,511.1 1476.5,509.9 1478.6,509.8 1478.2,511.6 1476.5,513.3"/>
<polygon points="1365.2,523.5 1364.1,522.1 1366.8,519.3 1369.1,519.7 1368.7,521.3 1366.7,523.8"/>
<polygon points="1422.5,461.2 1418.9,460.4 1415.9,459.1 1415.3,456.2 1418.9,456.3 1421.6,458.1"/>
<polygon points="1396.0,465.7 1393.8,463.3 1394.2,461.3 1396.8,461.4 1397.0,463.8"/>
<polygon points="1432.5,474.8 1433.7,473.3 1437.7,471.1 1443.9,472.3 1444.9,476.2 1438.8,478.2 1434.8,477.0"/>
<polygon points="1401.7,468.5 1399.4,467.5 1396.9,464.5 1397.8,463.4 1401.2,463.4 1402.0,465.9"/>
<polygon points="1404.4,460.6 1402.9,459.4 1402.3,456.8 1403.0,454.9 1405.4,455.0 1406.3,457.2 1406.3,458.2"/>
<polygon points="1481.6,428.7 1478.6,428.0 1477.7,425.3 1479.4,423.0 1481.4,426.1"/>
<polygon points="1403.7,471.2 1402.8,470.2 1402.6,469.0 1403.7,466.9 1404.6,466.4 1405.2,468.8 1405.0,470.5"/>
<polygon points="1523.3,479.5 1521.5,475.1 1523.1,471.4 1525.8,469.4 1527.3,471.9 1525.2,477.8"/>
<polygon points="1400.7,481.8 1397.5,483.8 1390.6,477.4 1393.0,475.8 1399.3,479.0"/>
<polygon points="1487.3,438.5 1485.9,432.5 1490.1,430.9 1493.0,432.4 1491.6,435.7"/>
<polygon points="1501.0,477.8 1500.5,475.6 1500.6,471.9 1503.5,468.8 1505.8,470.1 1506.7,472.5 1504.7,476.3"/>
<polygon points="1423.9,482.8 1424.9,481.3 1427.4,481.0 1429.4,481.4 1430.0,482.4 1427.9,484.4 1424.3,484.5"/>
<polygon points="1515.2,482.7 1511.7,481.4 1510.3,478.7 1513.5,476.6 1516.2,479.3"/>
<polygon points="1511.5,437.3 1512.0,433.8 1514.5,432.5 1516.5,435.1 1514.0,437.3"/>
<polygon points="1482.2,455.4 1483.3,453.1 1486.5,451.0 1490.6,449.9 1491.2,453.9 1489.0,456.6 1485.0,457.9"/>
<polygon points="1490.8,442.7 1488.8,441.3 1488.7,440.3 1488.6,437.8 1489.8,437.5 1491.5,439.4 1490.9,441.5"/>
<polygon points="1436.3,436.8 1435.0,437.9 1433.4,436.4 1432.9,435.6 1435.0,434.9 1436.2,435.8"/>
<polygon points="1476.2,481.2 1476.6,479.1 1477.9,477.3 1479.5,477.0 1481.4,478.6 1481.8,481.6 1477.8,482.9"/>
<polygon points="1457.4,489.7 1456.4,488.5 1458.9,486.5 1460.1,486.1 1461.0,486.5 1460.4,488.5 1459.3,490.0"/>
<polygon points="511.5,784.0 511.3,783.4 513.7,780.9 515.4,781.3 516.1,782.9 514.9,784.2 512.6,785.3"/>
<polygon points="407.2,759.6 409.7,758.2 412.1,757.8 415.6,759.7 414.5,761.1 409.0,761.6"/>
<polygon points="522.4,738.4 522.1,736.5 523.5,735.5 526.0,736.5 526.1,737.7 524.2,739.2"/>
<polygon points="386.8,712.6 383.8,711.2 382.8,706.7 383.4,702.1 386.5,705.5 388.4,708.9"/>
<polygon points="525.0,730.7 522.3,731.3 519.8,728.9 520.3,727.1 520.2,725.4 523.9,727.4 525.0,729.0"/>
<polygon points="456.1,814.3 455.6,812.4 456.8,811.0 458.3,812.9 457.5,814.7"/>
<polygon points="387.1,817.3 385.9,815.2 384.9,812.7 386.4,810.2 387.7,810.8 389.4,813.4 389.6,815.9"/>
<polygon points="524.2,756.7 521.7,754.8 521.7,752.4 523.1,751.1 525.4,751.1 526.2,755.1"/>
<polygon points="440.0,713.6 435.3,714.7 431.7,713.1 433.7,708.7 437.6,711.0"/>
<polygon points="469.3,760.8 468.5,763.1 466.1,762.6 464.7,762.3 464.7,760.7 466.1,759.2 468.6,760.1"/>
<polygon points="398.3,763.5 400.6,761.9 401.7,761.9 404.5,762.7 405.2,763.7 402.1,765.1 400.1,764.1"/>
<polygon points="533.4,744.2 530.2,740.4 530.2,735.5 532.7,735.2 534.5,740.9"/>
<polygon points="485.3,737.0 485.3,734.6 486.4,732.0 489.2,732.7 489.7,734.6 487.5,737.0"/>
<polygon points="474.2,734.2 471.7,733.3 470.1,731.3 471.0,729.5 474.5,731.5"/>
<polygon points="518.8,747.5 517.7,746.2 519.0,744.1 520.6,743.8 521.9,745.1 520.3,747.9"/>
<polygon points="493.1,830.1 494.2,827.3 497.7,825.0 499.3,828.2 496.8,831.0"/>
<polygon points="402.0,826.3 400.2,826.2 399.2,823.3 400.3,822.1 401.6,822.0 402.9,824.4"/>
<polygon points="441.5,833.9 440.3,833.0 440.2,831.1 441.7,830.5 443.1,830.2 443.9,832.6"/>
<polygon points="398.6,701.4 398.6,698.3 401.9,697.2 402.6,698.4 400.1,702.5"/>
<polygon points="422.9,778.4 422.4,776.5 423.8,774.9 425.5,774.9 425.0,777.6"/>
<polygon points="469.2,726.8 467.2,728.1 463.4,726.8 462.8,725.1 464.7,723.9 467.9,725.0"/>
<polygon points="441.3,695.2 440.4,691.3 441.3,688.6 443.9,686.5 446.1,688.8 445.0,691.3 443.0,693.4"/>
<polygon points="555.5,827.5 554.4,827.6 552.2,827.6 551.5,825.2 551.6,823.8 554.5,824.3 555.2,825.5"/>
<polygon points="595.2,791.1 594.8,790.6 597.6,788.6 598.7,789.2 599.0,789.9 598.4,791.4 596.5,792.3"/>
<polygon points="627.8,801.6 624.5,801.0 621.8,797.5 622.4,795.4 624.9,795.7 628.0,797.8"/>
<polygon points="636.8,807.1 633.9,805.5 633.3,803.8 632.9,800.9 636.2,801.7 637.4,803.5"/>
<polygon points="634.6,832.1 632.2,831.6 631.4,829.5 632.8,827.6 633.9,827.4 635.0,830.0"/>
<polygon points="611.9,753.2 608.6,752.8 607.0,751.7 605.6,748.2 607.7,747.7 611.5,748.8"/>
<polygon points="649.2,802.9 647.7,804.0 646.5,804.6 645.2,802.9 645.7,801.7 647.9,802.0"/>
<polygon points="581.5,761.0 580.8,759.5 580.6,758.4 582.8,757.1 583.9,757.8 584.4,759.4 583.2,761.2"/>
<polygon points="619.1,821.8 617.4,822.8 614.0,821.3 615.0,819.7 615.9,819.4 618.7,820.1"/>
<polygon points="565.6,774.4 563.6,773.1 564.5,768.8 567.2,769.0 567.6,773.2"/>
<polygon points="644.8,839.0 642.5,835.7 643.4,833.5 646.1,832.8 646.8,836.4"/>
<polygon points="590.4,769.1 588.0,770.5 585.5,769.4 587.0,767.2 589.3,766.8"/>
<polygon points="565.2,759.5 563.1,760.8 558.2,759.1 557.5,756.5 561.3,754.0 563.6,755.6"/>
<polygon points="542.2,745.3 540.6,743.2 541.5,739.1 543.9,737.1 545.2,739.4 545.4,742.7 543.4,745.6"/>
<polygon points="594.3,752.8 592.0,752.3 592.4,748.1 593.8,747.9 595.3,751.2"/>
<polygon points="665.8,778.3 663.5,776.6 662.4,772.9 663.0,770.4 665.9,772.4 667.3,775.2"/>
<polygon points="1305.4,680.6 1307.2,675.2 1310.8,670.6 1314.1,670.7 1314.0,673.7 1311.0,678.5"/>
<polygon points="1294.4,718.5 1294.5,716.0 1294.6,713.7 1296.9,712.1 1297.9,713.3 1297.7,715.7 1296.1,717.3"/>
<polygon points="1241.0,703.5 1240.9,701.3 1243.7,700.1 1244.9,700.9 1245.6,701.8 1243.9,704.0 1242.9,704.5"/>
<polygon points="1320.9,680.3 1320.1,678.9 1321.1,675.8 1322.2,674.0 1323.9,673.6 1323.3,677.6 1321.9,679.9"/>
<polygon points="1331.4,679.2 1331.5,677.1 1333.4,674.8 1336.1,675.0 1335.7,677.9 1334.5,679.5"/>
<polygon points="1321.6,663.1 1322.7,659.4 1327.4,657.0 1329.2,658.3 1324.2,663.2"/>
<polygon points="1239.8,720.3 1241.0,717.5 1243.9,713.3 1248.2,710.1 1249.6,710.5 1247.4,715.4 1243.8,719.1"/>
<polygon points="1241.3,709.5 1241.4,708.3 1243.0,706.3 1243.8,707.0 1245.3,708.9 1244.3,710.1 1243.0,710.7"/>
<polygon points="1300.1,691.7 1299.1,690.1 1300.8,686.4 1303.1,685.7 1304.1,686.7 1303.3,689.4 1302.1,691.0"/>
<polygon points="1258.7,705.8 1259.1,703.9 1261.6,703.0 1262.4,704.8 1260.7,705.8"/>
<polygon points="1239.8,703.0 1239.0,701.1 1240.4,697.8 1241.2,696.6 1243.3,695.7 1242.5,699.3 1241.6,700.7"/>
<polygon points="1261.8,716.6 1262.1,714.2 1267.0,710.7 1270.2,710.1 1269.5,712.6 1265.4,715.5"/>
<polygon points="625.6,304.8 626.1,302.8 629.3,301.8 634.7,303.0 635.6,305.4 630.9,307.0 626.1,306.4"/>
<polygon points="565.4,357.4 563.3,356.3 564.1,351.1 566.7,348.7 568.8,351.8 568.2,355.7"/>
<polygon points="604.9,364.6 601.7,361.8 599.9,353.5 603.5,348.7 607.5,348.9 609.2,356.7 606.6,361.9"/>
<polygon points="609.9,370.6 602.6,375.5 599.1,372.7 599.2,367.6 605.9,368.3"/>
<polygon points="632.5,328.4 630.6,325.5 631.0,320.9 634.8,319.8 636.0,322.8 635.1,326.9"/>
<polygon points="639.4,376.0 638.1,373.1 638.8,371.5 641.0,369.6 643.1,369.7 642.9,371.9 641.4,374.3"/>
<polygon points="627.3,361.5 626.9,358.2 630.3,353.7 634.6,351.9 635.2,354.7 633.5,358.9 630.4,361.8"/>
<polygon points="668.0,380.2 666.5,379.1 666.1,377.5 667.4,374.4 668.8,375.1 670.7,376.1 669.1,379.8"/>
<polygon points="573.3,289.2 574.7,287.2 576.9,285.7 577.2,288.0 576.1,289.6"/>
<polygon points="672.2,362.2 670.7,361.4 672.9,358.8 674.6,357.7 677.0,359.1 676.0,361.7 674.9,363.1"/>
<polygon points="611.9,328.6 610.6,329.3 608.8,327.1 608.8,325.8 610.1,325.3 611.9,325.5 612.6,327.1"/>
<polygon points="643.2,360.0 641.6,357.5 644.6,354.1 648.7,354.1 650.2,358.5 646.5,360.2"/>
<polygon points="565.2,314.7 565.1,312.3 575.0,309.9 580.4,313.3 574.7,316.5 569.0,318.3"/>
<polygon points="608.7,332.9 606.5,331.3 608.3,326.8 610.8,327.1 611.2,330.6"/>
<polygon points="574.6,328.1 576.4,325.3 580.7,325.5 582.4,326.5 581.5,328.3 577.0,329.6"/>
</g>
<g fill="#D83900"><!-- speck RO -->
<polygon points="173.1,316.5 172.4,309.9 173.8,303.8 177.6,303.8 177.9,313.5"/>
<polygon points="180.7,307.8 177.1,305.2 177.8,300.3 179.8,296.5 183.8,296.2 183.6,301.6 182.1,306.7"/>
<polygon points="215.6,323.4 215.0,318.1 220.9,314.0 226.3,314.3 226.9,316.6 220.3,323.8"/>
<polygon points="241.7,304.6 241.8,302.5 243.3,300.4 245.5,300.6 246.6,301.3 245.3,304.8 243.1,304.7"/>
<polygon points="216.0,271.2 215.7,269.0 216.6,268.4 218.3,268.8 218.8,269.9 218.0,271.2"/>
<polygon points="453.7,360.8 452.2,358.9 452.3,356.8 455.2,354.5 456.0,356.2 455.7,359.4"/>
<polygon points="447.4,383.4 446.5,381.7 448.2,377.7 450.7,376.7 451.6,377.3 452.4,379.6 448.9,383.2"/>
<polygon points="383.9,407.0 383.5,405.3 385.3,404.2 388.4,402.2 389.2,403.0 387.8,405.8 384.5,408.1"/>
<polygon points="369.4,412.8 368.7,412.1 369.5,405.4 372.2,404.8 373.7,404.1 373.3,408.1 371.6,413.4"/>
<polygon points="421.3,358.6 420.9,355.8 423.6,352.2 425.5,352.4 425.2,355.5 422.9,359.0"/>
<polygon points="454.0,369.4 453.2,366.8 454.8,365.0 456.3,365.0 457.8,365.2 457.0,367.6 455.8,369.8"/>
<polygon points="461.8,407.1 461.2,405.1 462.6,403.2 464.3,402.0 465.6,402.5 465.2,404.5 463.4,407.6"/>
<polygon points="469.2,379.3 468.8,375.9 471.2,373.8 472.8,374.7 471.3,378.0"/>
<polygon points="403.1,439.9 401.4,435.2 404.8,430.0 407.6,432.9 406.6,438.4"/>
<polygon points="444.6,361.0 443.9,358.2 446.3,356.0 447.6,357.5 447.2,360.7"/>
<polygon points="424.3,371.6 423.6,368.8 428.4,362.1 430.5,363.9 426.9,370.4"/>
<polygon points="404.2,390.0 403.7,387.6 407.4,384.8 408.4,385.7 406.0,390.2"/>
<polygon points="406.1,367.6 403.9,363.6 404.9,357.4 406.4,356.2 408.9,356.9 409.7,361.3 409.1,363.2"/>
<polygon points="346.5,359.6 346.0,358.1 345.9,356.0 346.6,354.7 347.9,355.0 349.1,356.9 348.1,359.0"/>
<polygon points="360.8,377.3 363.4,370.1 369.3,367.8 370.5,370.0 367.7,374.1"/>
<polygon points="439.2,360.8 439.0,359.4 439.5,357.0 441.4,356.2 442.9,358.1 442.6,360.3 440.5,361.9"/>
<polygon points="251.5,575.0 247.5,571.9 251.0,567.3 254.4,567.8 254.4,573.2"/>
<polygon points="310.7,541.1 309.1,540.3 307.5,533.5 308.3,532.2 310.7,534.2 311.7,537.9"/>
<polygon points="246.2,549.0 240.5,545.1 234.9,532.2 235.9,525.0 241.8,532.2 246.0,539.0"/>
<polygon points="296.6,615.2 291.7,612.5 291.7,606.8 294.9,606.2 299.1,608.3 299.1,610.9"/>
<polygon points="263.3,595.8 259.7,593.8 256.4,588.1 256.4,582.6 261.9,586.4 264.4,592.6"/>
<polygon points="289.2,599.1 283.6,593.2 282.2,588.1 282.4,578.8 286.0,581.6 288.4,593.0"/>
<polygon points="275.6,539.5 271.7,536.0 271.4,533.2 271.8,526.8 274.4,529.3 276.0,536.9"/>
<polygon points="317.4,593.2 315.4,590.9 315.2,587.6 317.4,586.2 319.5,589.9"/>
<polygon points="266.8,586.2 265.1,584.6 262.2,582.4 262.1,578.8 263.5,578.9 265.5,579.8 266.9,583.5"/>
<polygon points="255.0,543.9 254.1,541.7 254.2,537.5 256.2,535.5 257.6,536.0 257.1,541.3"/>
<polygon points="237.7,540.4 234.0,538.5 234.0,530.8 236.6,526.3 238.1,528.9 239.3,539.5"/>
<polygon points="346.4,589.9 343.4,590.0 340.6,582.9 343.8,581.0 347.5,586.9"/>
<polygon points="378.1,619.0 375.9,614.3 377.1,596.2 381.8,600.7 382.1,611.4"/>
<polygon points="374.6,621.3 371.9,620.2 367.5,610.7 370.1,608.8 373.9,610.4 376.1,618.3"/>
<polygon points="279.0,632.6 276.2,630.1 277.0,627.0 279.2,627.2 279.5,629.8"/>
<polygon points="335.2,580.0 332.2,578.1 330.7,574.0 332.6,572.9 335.2,576.5"/>
<polygon points="255.5,534.5 252.7,532.0 252.3,528.7 256.3,525.2 257.8,526.8 258.5,532.7"/>
<polygon points="295.4,557.3 292.1,554.5 290.0,549.1 291.3,547.9 295.4,551.7"/>
<polygon points="352.5,673.7 349.4,669.9 350.2,666.8 354.4,664.8 357.2,669.4"/>
<polygon points="328.8,581.7 324.9,580.1 320.2,574.5 320.4,572.6 322.4,571.0 325.4,573.0 329.5,579.0"/>
<polygon points="366.5,695.7 361.3,690.7 359.8,687.7 361.9,681.3 366.9,686.4 367.6,689.3"/>
<polygon points="369.6,618.3 365.8,612.0 365.6,608.1 368.0,605.0 371.3,604.5 370.7,612.7"/>
<polygon points="286.7,598.5 284.9,598.5 285.0,596.1 286.0,592.8 286.7,592.5 287.7,595.6 287.8,598.6"/>
<polygon points="252.5,602.8 249.4,602.9 248.0,594.8 248.2,591.1 253.2,595.1 254.6,601.0"/>
<polygon points="352.5,658.3 349.4,654.8 349.5,650.2 351.7,650.5 352.9,655.3"/>
<polygon points="330.2,578.2 326.6,575.1 322.4,563.9 325.3,559.8 329.1,561.6 331.4,574.5"/>
<polygon points="281.5,586.8 275.7,583.0 272.8,570.1 278.1,569.4 283.4,578.2"/>
<polygon points="351.6,644.3 347.6,641.7 349.1,637.2 353.7,638.1 354.5,642.9"/>
<polygon points="323.7,609.7 321.6,607.0 322.2,602.5 323.7,602.1 324.5,606.4"/>
<polygon points="350.6,639.5 349.2,632.7 351.9,620.0 355.8,620.5 355.2,630.0"/>
<polygon points="251.6,536.0 248.9,533.5 249.2,531.2 252.1,530.2 254.3,532.2 254.6,534.7"/>
<polygon points="348.7,587.7 346.5,586.2 345.0,582.6 346.5,580.6 347.9,583.3"/>
<polygon points="296.8,554.2 294.6,553.3 292.1,549.9 292.9,543.4 294.6,543.2 298.9,547.1 298.2,552.1"/>
<polygon points="359.2,605.7 356.1,604.2 354.7,594.9 356.3,592.6 359.7,594.7 362.4,602.6"/>
<polygon points="370.9,638.4 368.6,636.5 367.9,634.9 369.6,632.4 372.3,634.1 372.5,637.2"/>
<polygon points="306.8,631.8 304.1,630.8 303.2,625.7 304.0,622.0 309.2,625.1 308.8,629.5"/>
<polygon points="260.2,615.5 257.1,612.1 256.1,606.6 262.2,606.4 263.9,610.8"/>
<polygon points="281.7,539.9 278.2,537.2 277.3,528.9 280.4,525.6 283.6,528.4 283.7,535.5"/>
<polygon points="340.0,683.0 334.2,674.1 334.9,663.6 340.6,665.8 342.5,680.0"/>
<polygon points="361.0,688.5 354.3,681.5 351.6,671.4 356.1,667.6 361.0,681.1"/>
<polygon points="291.7,567.5 289.3,565.7 288.1,562.9 289.6,561.4 293.0,563.7"/>
<polygon points="371.4,677.4 368.8,676.8 366.4,670.0 367.1,666.4 368.9,665.1 370.8,667.5 373.1,674.4"/>
<polygon points="305.3,531.1 303.3,529.1 304.6,523.3 307.7,518.9 308.7,522.3 307.6,529.2"/>
<polygon points="274.0,607.0 273.0,604.8 273.2,602.3 275.6,600.0 275.9,603.1 276.0,605.3"/>
<polygon points="280.2,602.5 275.6,599.7 270.8,590.8 273.1,585.6 280.2,593.6"/>
<polygon points="325.5,570.6 323.6,570.1 322.3,566.1 324.7,563.0 326.6,565.2 327.3,567.8"/>
<polygon points="347.3,620.1 345.0,618.2 343.6,614.0 344.5,612.5 345.3,612.1 346.9,613.8 347.5,617.3"/>
<polygon points="322.2,589.4 318.6,588.0 315.7,581.3 318.8,581.4 322.0,586.5"/>
<polygon points="372.3,695.4 370.7,692.6 371.6,688.7 373.3,688.4 374.1,694.6"/>
<polygon points="269.2,579.4 267.2,576.8 265.4,573.3 270.3,570.1 272.8,573.2 272.9,576.2"/>
<polygon points="389.5,693.5 388.5,692.2 388.8,689.4 389.5,688.1 390.8,689.5 391.6,691.5"/>
<polygon points="496.8,636.6 492.5,635.4 485.6,627.6 486.7,622.6 493.7,624.7 498.1,630.0"/>
<polygon points="502.4,513.1 498.7,509.8 499.2,506.1 503.4,504.5 506.3,509.9"/>
<polygon points="477.0,550.9 475.1,550.5 475.0,546.3 476.4,545.6 478.8,546.2 479.0,550.0"/>
<polygon points="460.0,609.2 459.9,605.6 461.9,605.1 464.7,606.5 463.3,608.7"/>
<polygon points="429.0,646.3 427.0,644.9 426.2,640.8 430.8,640.7 431.5,643.2"/>
<polygon points="474.0,658.6 474.0,656.9 475.5,656.1 477.2,656.8 477.4,657.8 475.6,659.9"/>
<polygon points="483.4,609.1 478.9,607.6 477.0,603.6 476.6,599.3 480.7,600.6 483.7,605.8"/>
<polygon points="405.5,515.9 405.0,511.5 407.4,506.5 409.2,506.3 407.3,513.0"/>
<polygon points="446.2,549.4 442.5,543.9 442.2,532.9 447.8,532.3 449.2,542.9"/>
<polygon points="400.9,600.1 399.4,600.1 398.7,596.7 400.2,594.8 401.1,595.3 401.6,596.8 402.1,599.2"/>
<polygon points="404.3,576.0 399.9,573.1 396.7,566.3 395.6,557.9 401.2,558.8 403.3,562.8 406.6,571.8"/>
<polygon points="409.4,525.3 406.9,523.6 404.8,519.9 404.2,515.5 406.4,512.5 408.7,516.3 410.0,521.8"/>
<polygon points="416.1,641.4 415.2,640.4 414.7,636.1 415.0,634.1 416.9,632.0 417.7,635.9 418.1,639.3"/>
<polygon points="425.5,608.0 421.8,602.9 419.8,596.5 423.5,597.4 426.5,603.0"/>
<polygon points="412.2,526.9 410.1,526.5 409.0,523.6 410.6,522.2 413.2,523.2 414.3,525.4"/>
<polygon points="415.3,547.7 413.3,544.1 414.2,536.2 417.0,537.2 419.4,539.1 418.8,544.0"/>
<polygon points="411.4,551.7 408.0,549.7 407.8,545.1 408.7,541.6 411.9,547.2"/>
<polygon points="491.9,660.9 489.3,658.0 488.3,655.6 489.1,651.9 492.4,651.6 494.7,654.7 494.6,659.9"/>
<polygon points="502.4,612.2 498.2,610.1 498.3,603.5 501.3,601.5 505.7,608.7"/>
<polygon points="473.6,656.1 473.7,654.0 475.8,652.5 477.9,652.7 477.2,654.4 474.7,656.5"/>
<polygon points="504.4,617.7 504.2,615.0 509.2,611.0 511.1,613.8 512.2,616.6 507.2,619.5"/>
<polygon points="498.8,650.2 496.1,647.5 497.3,643.1 500.5,640.6 502.7,642.5 502.5,645.3 500.1,649.7"/>
<polygon points="535.0,655.2 531.5,654.7 529.3,651.0 530.5,650.3 533.5,650.9"/>
<polygon points="513.5,650.5 510.4,651.7 507.0,647.4 509.7,644.0 513.6,647.3"/>
<polygon points="513.9,670.5 511.7,669.8 512.4,664.2 514.7,663.0 516.8,668.4"/>
<polygon points="516.9,652.7 516.0,651.3 517.3,649.4 519.5,650.3 519.6,652.0 517.7,653.3"/>
<polygon points="518.0,654.8 515.7,656.4 512.4,655.8 511.4,654.1 511.8,652.3 514.6,651.8 516.2,653.8"/>
<polygon points="525.8,620.6 524.0,620.8 521.6,619.5 521.8,617.9 522.4,616.4 523.9,617.0 526.2,619.6"/>
<polygon points="503.1,591.8 506.8,589.9 510.9,590.1 512.5,591.4 512.6,594.1 505.5,594.5"/>
<polygon points="616.8,554.9 615.3,550.7 616.3,547.5 618.4,547.8 618.6,553.2"/>
<polygon points="557.3,662.2 556.2,659.4 557.8,656.8 559.7,656.6 559.7,661.0"/>
<polygon points="620.5,572.2 618.0,570.1 619.9,565.4 622.3,563.5 625.9,562.8 626.3,566.9 623.3,572.9"/>
<polygon points="564.3,558.6 562.4,558.3 562.6,553.5 563.7,551.8 565.4,554.2 565.9,557.4"/>
<polygon points="638.8,626.3 637.3,624.0 637.3,619.2 642.1,618.5 643.7,621.4 641.8,625.1"/>
<polygon points="552.1,542.8 549.7,542.1 548.6,538.8 549.3,536.1 551.8,535.8 554.8,537.9 554.6,539.8"/>
<polygon points="584.3,567.2 581.6,565.6 580.2,562.0 581.4,558.0 582.2,557.3 584.6,560.9 585.5,565.2"/>
<polygon points="554.2,660.5 552.1,659.4 553.8,653.7 556.0,653.6 557.2,656.0 555.5,659.1"/>
<polygon points="642.6,664.6 640.2,662.6 641.2,657.5 645.3,659.4 645.6,663.8"/>
<polygon points="624.5,570.4 621.7,568.0 624.4,563.3 628.1,558.4 629.0,564.0 626.3,569.2"/>
<polygon points="561.3,591.3 559.3,590.1 560.1,583.8 563.3,581.4 566.4,583.8 565.4,588.0"/>
<polygon points="632.5,538.6 630.6,536.1 631.7,533.4 633.3,532.5 636.4,533.3 636.6,536.2"/>
<polygon points="596.1,662.1 595.3,661.4 594.4,659.2 596.2,657.1 597.9,656.7 597.9,659.5 597.7,661.3"/>
<polygon points="646.0,654.0 644.3,651.8 645.7,649.4 649.5,647.8 650.2,650.6 650.4,652.7"/>
<polygon points="555.7,570.1 553.9,568.4 555.5,565.5 559.0,563.4 559.1,565.7 558.5,569.6"/>
<polygon points="587.3,594.2 585.5,590.6 587.7,586.2 591.8,585.8 592.0,589.7 591.2,592.3"/>
<polygon points="586.9,641.1 584.2,638.7 584.8,636.0 587.3,632.8 589.2,636.0 590.1,638.4"/>
<polygon points="599.1,651.6 597.7,649.5 597.7,646.7 600.6,647.0 600.6,649.8"/>
<polygon points="608.8,664.1 606.2,662.1 606.0,658.2 610.7,657.4 611.5,660.7"/>
<polygon points="635.7,641.3 633.8,639.1 637.0,635.1 641.0,636.9 638.8,641.1"/>
<polygon points="631.4,599.8 628.9,596.5 631.3,591.6 634.9,594.3 634.9,597.6"/>
<polygon points="624.5,642.3 622.1,638.9 623.5,635.7 626.0,635.6 627.2,639.9"/>
<polygon points="555.0,657.1 553.3,653.8 554.5,649.4 558.6,648.9 558.3,654.6"/>
<polygon points="647.9,592.1 644.5,590.6 643.1,586.7 642.2,580.8 645.8,579.7 648.4,583.7 650.5,589.9"/>
<polygon points="648.8,539.1 647.7,536.9 647.7,535.5 649.6,534.5 651.1,535.9 650.4,537.3"/>
<polygon points="587.8,630.5 585.8,629.0 584.7,626.1 586.8,625.0 589.0,625.7 589.6,629.4"/>
<polygon points="650.2,587.1 647.1,584.0 647.3,581.0 650.4,581.0 651.2,583.7"/>
<polygon points="645.8,579.3 644.1,574.8 645.2,569.7 649.7,569.4 649.6,575.3"/>
<polygon points="608.9,555.3 606.9,553.8 608.2,547.8 610.7,547.4 613.2,547.7 611.5,553.6"/>
<polygon points="546.2,546.2 545.4,545.1 546.3,543.4 548.1,543.2 548.5,544.2 547.7,546.1"/>
<polygon points="611.6,548.5 611.3,546.7 614.2,542.4 616.7,541.8 617.2,543.8 614.9,548.7"/>
<polygon points="649.7,546.3 647.7,545.1 645.4,541.6 647.7,536.7 649.8,539.0 652.0,541.5 651.5,543.7"/>
<polygon points="617.3,561.4 615.2,558.5 617.1,554.8 622.0,553.9 622.3,557.4 621.0,559.9"/>
<polygon points="575.5,538.2 574.5,536.9 575.8,535.4 577.0,534.6 577.9,537.3 577.2,538.4"/>
<polygon points="613.7,578.7 612.0,578.4 611.6,577.1 612.0,574.5 614.3,574.7 615.2,575.7 615.4,577.4"/>
<polygon points="565.8,631.7 563.8,628.8 565.5,623.2 567.4,623.0 569.3,625.6 568.8,628.7"/>
<polygon points="567.5,654.9 563.7,653.7 563.9,648.3 565.1,645.4 567.6,648.3 568.4,651.9"/>
<polygon points="607.6,632.0 604.9,630.9 602.5,624.3 604.3,622.1 606.3,619.2 609.2,625.6 609.5,628.2"/>
<polygon points="607.3,562.4 605.4,562.0 604.7,557.7 606.2,554.7 608.1,556.0 610.4,557.6 609.5,562.2"/>
<polygon points="565.8,634.7 564.4,633.3 564.2,631.4 565.6,629.7 566.7,630.4 566.5,633.9"/>
<polygon points="586.1,559.0 583.3,557.5 584.0,553.8 586.5,553.7 588.8,557.1"/>
<polygon points="623.5,639.3 622.6,638.8 621.8,637.0 622.0,634.7 622.8,634.0 624.3,636.2 624.7,639.0"/>
<polygon points="560.9,644.9 559.7,643.1 559.6,641.5 562.0,640.2 563.1,641.7 562.6,643.6"/>
<polygon points="544.6,639.7 542.7,637.9 543.0,636.4 545.1,636.8 545.6,638.4"/>
<polygon points="215.1,564.1 210.8,561.5 210.1,554.9 215.2,554.3 216.9,559.4"/>
<polygon points="157.6,506.0 154.6,505.7 152.3,503.2 154.0,501.8 157.3,503.4"/>
<polygon points="167.3,555.8 164.5,553.9 163.5,546.8 165.6,543.9 169.3,545.1 172.0,547.4 171.5,552.8"/>
<polygon points="158.1,547.9 154.9,549.9 149.6,549.2 149.2,546.7 150.4,544.4 155.9,545.0"/>
<polygon points="173.5,531.6 171.9,530.8 171.2,530.4 170.8,527.6 172.1,527.5 174.4,528.4 174.2,529.9"/>
<polygon points="139.6,534.0 138.3,537.1 132.1,537.7 126.5,532.7 127.8,530.3 131.2,527.9 138.5,530.6"/>
<polygon points="234.1,519.3 232.9,521.1 230.5,521.2 228.8,519.5 229.7,517.5 232.3,517.6"/>
<polygon points="194.1,523.5 192.2,524.2 189.8,519.7 192.2,519.2 195.1,521.7"/>
<polygon points="183.6,500.8 182.2,498.1 183.0,494.7 185.3,493.7 186.3,498.4"/>
<polygon points="168.6,499.2 166.4,501.0 161.6,501.0 160.1,498.7 163.5,496.2 167.6,496.0"/>
<polygon points="178.9,513.9 178.7,515.4 176.5,515.5 173.8,514.4 174.2,513.4 175.6,512.2 178.1,512.4"/>
<polygon points="190.2,560.5 188.8,557.5 190.3,555.0 192.3,553.4 194.6,555.5 193.5,559.3"/>
<polygon points="489.0,483.8 487.0,481.5 487.7,476.9 490.6,476.3 493.2,479.4 491.0,482.3"/>
<polygon points="495.5,433.7 492.3,430.8 491.7,428.1 493.1,427.4 495.8,430.2"/>
<polygon points="492.9,477.0 494.3,475.5 496.4,475.6 498.1,476.5 497.2,478.3 494.0,478.5"/>
<polygon points="487.3,436.6 485.9,432.1 489.0,428.8 491.5,428.9 493.5,430.6 490.0,435.5"/>
<polygon points="490.8,485.0 489.8,484.3 490.3,482.3 492.5,482.6 492.9,484.3"/>
<polygon points="496.5,404.1 495.4,403.2 498.0,400.7 499.8,401.1 500.6,402.8 498.3,404.9"/>
<polygon points="500.8,398.6 498.8,397.7 498.4,393.2 499.9,391.3 501.7,391.3 502.5,393.0 503.3,397.1"/>
<polygon points="534.6,392.9 532.8,394.2 530.8,393.9 529.7,392.5 530.3,391.5 532.7,391.3 533.8,391.6"/>
<polygon points="492.1,482.4 489.2,483.5 487.9,480.2 490.0,476.1 493.2,478.3"/>
<polygon points="529.5,421.0 524.9,418.2 525.9,414.2 528.5,413.7 530.4,416.8"/>
<polygon points="510.4,432.7 509.5,430.8 511.3,429.1 513.9,429.4 514.6,430.5 513.3,432.7 512.1,434.1"/>
<polygon points="1506.6,417.4 1506.3,416.1 1508.9,414.4 1510.7,415.8 1509.5,417.6 1508.6,418.5"/>
<polygon points="1439.6,444.3 1435.1,445.7 1430.0,443.1 1427.0,440.8 1432.0,438.9 1438.4,440.6"/>
<polygon points="1454.7,404.1 1455.9,401.2 1458.6,397.3 1461.3,396.6 1461.2,399.8 1458.6,403.6"/>
<polygon points="1496.9,428.0 1497.5,425.5 1500.7,424.6 1503.0,426.0 1503.6,428.0 1498.7,429.6"/>
<polygon points="1448.4,411.1 1447.8,410.3 1447.4,409.0 1448.4,407.6 1449.8,408.3 1450.1,409.4 1449.4,411.2"/>
<polygon points="1440.3,421.7 1440.0,417.2 1443.9,414.3 1445.1,417.4 1444.0,421.5"/>
<polygon points="1431.9,411.8 1432.8,410.8 1435.8,409.6 1437.4,410.7 1436.6,412.5 1433.7,413.3"/>
<polygon points="1513.7,430.2 1513.3,427.2 1515.9,425.1 1519.6,428.0 1517.7,430.3"/>
<polygon points="1493.6,438.9 1495.8,436.4 1498.7,436.0 1499.4,438.3 1498.6,439.9 1495.8,439.9"/>
<polygon points="1423.2,454.6 1420.6,454.8 1418.5,453.4 1417.8,451.3 1420.1,451.3 1422.4,452.7"/>
<polygon points="1473.2,449.9 1470.3,448.3 1467.1,444.8 1467.6,443.1 1471.5,441.3 1473.5,444.3 1473.8,446.1"/>
<polygon points="1401.9,453.2 1399.5,451.7 1399.0,448.1 1401.2,446.6 1402.4,450.1"/>
<polygon points="1388.4,452.5 1388.3,449.8 1390.4,448.2 1392.4,449.1 1392.7,452.3 1389.5,454.0"/>
<polygon points="1524.1,427.5 1519.1,425.6 1515.2,421.6 1518.3,419.6 1523.1,422.8"/>
<polygon points="1514.3,485.0 1515.1,481.0 1518.3,478.2 1519.4,480.8 1517.4,484.9"/>
<polygon points="1480.3,409.6 1481.3,405.6 1484.3,404.0 1486.4,407.3 1483.4,410.0"/>
<polygon points="482.4,860.9 479.8,860.2 478.8,858.1 481.2,857.4 482.9,858.2"/>
<polygon points="466.6,763.9 465.5,762.1 467.1,759.5 468.2,758.1 469.5,760.5 468.0,763.4"/>
<polygon points="523.0,734.2 519.5,734.0 518.5,729.9 519.2,728.0 521.3,728.7 523.4,732.7"/>
<polygon points="536.2,722.1 534.9,719.7 535.9,718.0 536.7,716.8 538.1,715.6 538.7,718.2 537.2,721.2"/>
<polygon points="408.2,732.9 406.0,732.1 404.4,727.8 406.0,726.8 407.8,729.2"/>
<polygon points="443.1,759.4 440.8,761.0 438.0,761.1 437.0,758.1 439.1,756.2 440.9,757.3"/>
<polygon points="465.4,735.1 463.1,735.9 461.4,735.4 461.5,731.9 462.4,730.2 464.6,730.4 466.3,733.6"/>
<polygon points="519.0,817.6 518.2,818.9 515.5,818.6 513.7,816.7 515.5,815.2 518.8,815.5"/>
<polygon points="420.1,766.3 417.4,766.7 415.8,763.3 414.5,761.0 416.3,759.3 418.8,761.5 421.5,765.2"/>
<polygon points="477.0,836.8 474.6,835.3 474.1,832.8 475.6,831.9 477.5,834.4"/>
<polygon points="403.6,824.7 402.0,825.4 400.6,825.1 398.8,823.5 401.4,822.8 403.7,823.4"/>
<polygon points="503.4,841.7 501.4,839.1 500.9,836.2 503.2,833.2 504.7,834.9 505.3,838.7"/>
<polygon points="518.7,786.0 515.9,787.7 514.5,787.1 513.4,784.8 514.7,783.2 516.7,784.0"/>
<polygon points="394.7,716.0 395.3,712.2 397.4,709.1 399.8,708.4 399.8,710.7 397.8,714.7"/>
<polygon points="394.8,810.1 394.5,808.5 396.0,804.6 398.8,804.3 400.2,805.4 397.6,810.3"/>
<polygon points="509.8,851.8 507.3,853.9 504.8,855.0 502.5,851.5 505.4,849.6 507.7,849.8"/>
<polygon points="396.0,732.9 394.1,731.5 393.4,729.8 394.7,728.5 396.6,728.8 397.2,731.1"/>
<polygon points="521.5,816.1 522.1,813.1 524.3,811.3 527.4,812.0 528.1,813.0 526.9,815.1 523.9,817.5"/>
<polygon points="679.9,746.8 680.7,744.2 683.1,744.1 685.2,744.3 685.1,746.3 683.8,748.5 682.2,748.3"/>
<polygon points="693.9,755.2 692.9,754.0 691.1,750.9 691.4,749.2 693.6,748.8 695.4,751.1 695.8,752.9"/>
<polygon points="620.3,832.8 618.4,829.9 619.8,826.9 621.2,826.8 622.1,830.3"/>
<polygon points="600.5,754.8 599.0,756.0 595.6,755.1 591.6,752.9 594.7,750.7 599.1,752.4"/>
<polygon points="650.9,742.7 652.2,739.4 654.3,738.1 655.2,739.5 654.8,741.8"/>
<polygon points="632.8,744.5 634.2,742.0 637.2,742.8 637.8,744.6 635.0,746.2"/>
<polygon points="571.4,803.1 571.1,801.7 574.4,799.5 578.3,799.5 578.4,802.6 573.9,805.0"/>
<polygon points="574.0,821.1 571.5,818.3 571.6,814.5 573.0,813.2 575.5,811.6 576.0,815.1 575.3,818.4"/>
<polygon points="597.8,776.2 597.5,774.2 599.2,772.5 601.1,773.8 601.4,775.4 599.6,777.3"/>
</g>
<g fill="#CD0000"><!-- speck R -->
<polygon points="594.6,578.0 592.8,576.7 592.3,570.9 593.9,565.2 596.2,566.2 598.0,569.5 597.5,576.8"/>
<polygon points="567.3,598.8 566.7,597.2 568.9,593.7 570.1,594.6 570.0,597.2"/>
<polygon points="601.8,639.6 598.1,634.6 599.6,629.9 601.9,628.1 605.3,633.2"/>
<polygon points="585.8,597.0 582.7,594.9 584.3,592.3 586.9,591.9 587.6,595.2"/>
<polygon points="634.6,569.8 633.3,568.1 636.0,564.9 637.7,566.6 636.8,568.6"/>
<polygon points="584.5,663.9 581.7,662.6 582.7,659.6 585.9,659.1 586.9,663.5"/>
<polygon points="616.0,625.3 615.0,625.0 614.7,621.9 615.5,621.3 618.3,621.5 618.0,623.6 618.2,625.3"/>
<polygon points="604.0,653.4 603.2,650.3 605.0,648.1 606.8,649.5 605.9,651.4"/>
<polygon points="620.2,650.8 617.1,648.8 616.3,644.1 619.4,643.4 622.5,644.9 623.4,647.7"/>
<polygon points="557.6,535.1 557.5,534.6 557.9,533.2 558.6,532.9 559.7,532.6 560.1,534.0 559.3,535.2"/>
<polygon points="603.4,581.3 601.6,580.3 601.7,575.9 604.8,576.8 605.6,579.7"/>
<polygon points="581.8,644.0 579.6,641.7 581.5,636.5 584.4,634.2 586.0,635.8 584.8,641.5"/>
<polygon points="617.3,647.9 615.7,647.3 615.8,644.0 617.6,643.5 618.8,646.5"/>
<polygon points="577.4,603.4 576.4,601.6 576.8,598.7 578.5,596.4 579.7,596.8 580.3,599.5 579.7,601.7"/>
<polygon points="570.6,551.1 568.4,549.2 569.4,547.6 571.6,546.2 573.3,547.1 573.0,548.8 572.1,550.8"/>
<polygon points="633.7,543.7 634.4,539.5 637.2,535.8 640.2,537.7 639.4,544.4"/>
<polygon points="615.6,585.8 614.8,584.1 616.2,582.2 618.4,581.5 619.3,583.1 618.6,584.9"/>
<polygon points="563.9,590.6 561.9,587.6 562.7,584.0 565.1,583.5 566.1,588.5"/>
<polygon points="573.2,587.8 572.5,584.1 574.2,581.4 576.8,582.8 575.1,586.2"/>
<polygon points="1172.0,457.9 1170.5,455.7 1171.5,453.3 1174.9,449.9 1175.9,451.8 1175.9,456.2 1173.5,457.7"/>
<polygon points="1219.1,471.7 1219.9,468.8 1222.5,467.2 1224.8,467.4 1225.6,470.6 1224.8,471.9 1220.7,472.3"/>
<polygon points="1243.0,490.4 1242.3,489.2 1243.3,486.9 1244.5,487.1 1245.3,488.9 1244.4,490.6"/>
<polygon points="1247.6,474.0 1245.4,475.0 1242.1,472.5 1241.8,471.0 1242.9,469.1 1244.9,469.2 1247.8,471.6"/>
<polygon points="1215.2,487.5 1214.3,485.9 1215.6,482.0 1217.6,481.7 1217.3,486.0"/>
<polygon points="1262.2,457.1 1261.0,457.6 1259.8,456.8 1260.0,455.4 1261.3,455.6"/>
<polygon points="1245.5,476.0 1242.1,478.7 1238.1,477.8 1239.1,473.8 1243.0,474.2"/>
<polygon points="722.8,426.5 721.9,425.6 721.8,424.4 723.1,424.1 723.6,425.7"/>
<polygon points="796.6,434.6 799.3,433.6 803.1,433.0 803.0,435.7 800.3,436.3"/>
<polygon points="889.6,451.0 888.3,450.4 886.9,447.6 887.2,446.7 888.9,446.5 890.0,447.1 890.6,448.5"/>
<polygon points="832.4,425.6 831.3,425.7 830.7,423.8 831.5,423.1 832.9,423.6 833.5,425.4"/>
<polygon points="879.6,452.2 876.8,452.9 873.8,451.1 875.9,449.6 878.6,449.6"/>
<polygon points="677.4,427.9 678.6,425.8 680.6,423.9 682.8,425.9 683.0,428.9 680.2,428.9"/>
<polygon points="828.8,443.9 827.2,442.3 828.0,440.9 829.0,440.4 830.4,441.1 830.7,441.6 829.7,444.0"/>
<polygon points="857.9,447.5 859.3,445.3 865.2,446.4 864.0,448.9 861.0,450.4"/>
<polygon points="863.5,409.8 860.8,407.8 861.1,403.3 863.3,403.1 864.8,405.5"/>
<polygon points="817.9,449.0 816.6,450.4 815.5,449.5 815.0,448.7 816.5,448.3"/>
<polygon points="752.9,439.5 750.1,438.9 748.4,436.7 749.5,435.2 751.3,435.5 752.7,437.1"/>
<polygon points="827.0,431.2 827.1,429.9 827.7,428.6 829.4,428.3 829.9,430.1 828.9,431.2"/>
<polygon points="727.1,437.6 725.9,437.9 724.4,437.5 723.5,436.8 723.4,435.3 725.4,435.6 727.0,436.1"/>
<polygon points="759.7,424.9 759.6,422.2 761.1,420.2 763.3,420.4 764.1,422.6 762.3,425.5"/>
<polygon points="869.5,418.1 867.7,419.4 865.7,419.1 865.9,415.8 868.3,416.3"/>
<polygon points="1394.1,509.5 1395.0,506.5 1401.6,504.7 1406.1,507.2 1403.8,508.8 1395.5,510.9"/>
<polygon points="1428.0,499.4 1428.6,497.7 1431.7,496.5 1434.4,497.2 1435.0,498.7 1432.0,500.2 1430.4,499.8"/>
<polygon points="1355.7,537.7 1355.7,535.1 1360.2,531.1 1364.9,531.6 1362.5,535.7 1360.2,536.9"/>
<polygon points="1465.7,527.8 1467.2,523.7 1470.8,521.1 1472.0,523.7 1467.7,527.2"/>
<polygon points="1466.7,514.4 1466.6,512.7 1468.1,511.9 1470.6,511.6 1471.0,513.0 1469.4,515.3 1468.2,516.0"/>
<polygon points="1403.0,508.7 1402.1,507.6 1403.6,505.0 1405.9,504.1 1407.4,505.0 1407.1,506.7 1404.3,508.7"/>
<polygon points="1370.8,505.8 1373.3,501.5 1376.0,499.9 1380.2,498.1 1378.5,503.0 1374.2,505.5"/>
<polygon points="1392.4,523.6 1393.1,522.2 1397.1,520.6 1400.8,520.7 1400.0,522.1 1393.3,524.6"/>
</g>
<g fill="#1874CD"><!-- speck B -->
<polygon points="363.4,652.8 358.0,648.6 355.7,641.7 356.3,633.9 361.1,635.5 364.0,646.8"/>
<polygon points="329.6,686.2 327.3,684.6 328.9,682.4 330.9,681.8 330.9,684.2"/>
<polygon points="305.6,569.0 303.9,568.8 303.7,566.8 304.4,565.9 305.7,565.7 306.5,566.4 306.9,568.1"/>
<polygon points="277.9,616.1 276.1,613.0 274.9,608.9 277.3,604.0 278.8,607.4 280.3,611.3"/>
<polygon points="338.4,674.2 335.2,671.6 333.5,668.3 336.2,664.9 339.9,667.6 341.0,669.4"/>
<polygon points="307.8,655.2 306.9,652.6 306.3,650.1 308.0,645.5 309.2,646.5 309.7,649.4 309.2,652.4"/>
<polygon points="248.5,540.4 247.8,538.6 248.0,534.8 249.1,532.3 250.2,533.1 250.4,536.0 249.7,541.1"/>
<polygon points="318.0,580.4 314.6,577.2 315.6,569.6 317.6,564.2 320.2,571.2 319.9,575.3"/>
<polygon points="257.5,594.5 255.4,594.1 253.8,589.0 254.1,584.8 255.6,585.1 257.5,588.8 257.6,591.9"/>
<polygon points="431.1,531.7 428.5,529.8 427.7,526.0 429.3,522.6 431.0,523.6 432.3,528.9"/>
<polygon points="447.6,514.0 445.7,512.6 446.2,509.3 448.5,504.7 451.4,506.8 453.2,511.0 451.7,514.8"/>
<polygon points="431.8,593.4 429.1,591.4 429.6,585.6 432.2,587.4 433.7,590.9"/>
<polygon points="413.1,565.8 409.3,562.4 411.2,558.3 415.4,554.1 418.0,555.5 418.8,559.5 416.8,564.7"/>
<polygon points="527.2,666.2 525.3,664.3 524.6,658.8 525.0,654.2 529.0,653.6 532.1,661.1 531.0,663.4"/>
<polygon points="533.6,669.0 534.3,666.4 540.8,664.3 541.3,667.3 537.2,669.5"/>
<polygon points="512.4,618.4 511.0,617.3 511.2,613.7 513.5,611.7 516.9,612.1 516.6,615.7 515.7,616.8"/>
<polygon points="323.1,633.1 321.4,627.9 322.7,616.7 326.7,616.6 325.6,627.7"/>
<polygon points="360.0,659.4 358.1,659.2 358.0,655.7 359.6,652.5 360.7,652.7 362.2,654.9 361.1,659.4"/>
<polygon points="329.8,654.5 328.6,652.0 327.6,642.9 328.5,641.7 331.0,640.8 332.8,646.5 332.0,650.6"/>
<polygon points="340.2,680.5 338.5,679.6 337.9,676.2 338.9,674.6 340.5,676.1 340.8,678.3"/>
<polygon points="387.8,627.3 385.3,619.6 385.5,613.2 387.3,611.0 388.9,620.6"/>
<polygon points="362.0,684.1 361.0,681.5 363.6,675.7 365.6,676.2 364.8,681.4"/>
<polygon points="362.1,661.4 360.1,658.7 360.1,655.1 363.1,654.2 364.0,658.2"/>
<polygon points="377.4,676.9 374.6,676.4 374.0,672.4 374.3,668.7 376.5,668.1 379.2,671.4 379.4,676.3"/>
<polygon points="350.5,692.3 348.4,690.7 346.0,682.4 348.2,680.9 349.9,683.4 352.1,690.0"/>
<polygon points="360.4,623.9 358.9,622.4 359.7,619.8 360.8,618.6 361.8,621.0 361.3,623.3"/>
<polygon points="333.5,671.2 332.1,670.7 331.1,668.7 332.9,668.0 334.0,669.1"/>
<polygon points="342.2,618.4 338.8,616.8 338.2,612.0 340.3,611.8 342.3,616.3"/>
<polygon points="378.6,669.8 375.8,666.8 374.5,663.0 376.0,661.7 378.4,666.4"/>
<polygon points="324.1,637.1 323.5,634.3 324.4,631.8 326.1,632.3 326.1,635.3"/>
<polygon points="339.5,658.9 334.4,654.7 332.6,649.6 337.2,649.0 338.7,653.5"/>
<polygon points="341.5,670.6 340.0,664.8 342.0,656.8 344.1,656.9 345.3,664.7"/>
<polygon points="361.4,689.8 360.0,687.9 360.5,685.6 363.1,686.0 362.9,689.5"/>
<polygon points="328.1,627.9 326.1,625.9 323.6,619.5 322.6,616.0 325.4,616.5 327.3,618.9 328.9,626.2"/>
<polygon points="131.5,549.6 128.0,547.9 125.9,545.1 127.8,540.7 131.2,541.9 133.5,547.5"/>
<polygon points="138.7,531.5 136.3,530.8 133.9,529.0 134.8,524.8 136.1,524.3 138.7,525.6 141.3,527.8"/>
<polygon points="181.2,510.7 181.2,508.8 184.0,508.0 185.3,510.8 183.3,511.8"/>
<polygon points="189.0,509.8 187.7,509.0 188.7,504.8 190.4,503.5 192.3,504.7 192.5,507.0 191.1,509.6"/>
<polygon points="126.4,545.0 123.2,543.8 120.5,541.6 121.8,536.7 125.3,537.5 127.6,540.5"/>
<polygon points="201.9,516.0 200.9,512.3 202.6,510.3 204.2,509.9 206.4,511.3 206.2,513.2 203.6,515.2"/>
<polygon points="156.0,516.2 154.0,513.0 156.2,506.4 158.9,508.4 161.2,513.9"/>
<polygon points="126.9,507.8 125.4,508.2 123.8,506.5 123.5,503.8 125.9,502.9 128.1,504.0 128.4,506.2"/>
<polygon points="167.3,558.9 163.3,555.4 165.0,548.6 168.7,550.2 170.7,554.2"/>
<polygon points="143.3,548.6 139.5,548.8 136.6,543.0 137.4,539.8 143.3,545.2"/>
<polygon points="224.0,514.1 220.6,519.1 215.7,518.9 211.8,513.5 215.9,511.9 220.9,511.6"/>
<polygon points="144.1,512.8 142.2,514.4 140.2,512.6 139.5,511.6 140.3,509.4 142.3,509.6 144.4,510.7"/>
<polygon points="134.4,520.1 132.6,518.5 134.1,515.8 137.5,517.0 136.5,520.5"/>
<polygon points="222.6,519.0 221.1,517.9 220.2,515.5 221.3,512.9 223.5,512.0 224.1,514.7 224.3,517.5"/>
<polygon points="222.8,557.1 221.4,556.0 221.4,552.5 221.6,549.2 224.5,548.5 225.5,551.5 225.7,555.2"/>
<polygon points="147.0,530.3 142.9,528.2 145.2,524.3 148.8,524.6 150.2,529.1"/>
<polygon points="212.8,539.8 208.4,541.4 204.4,538.6 206.3,535.0 211.2,536.7"/>
<polygon points="171.7,532.8 170.7,534.5 165.5,535.1 161.5,532.2 165.0,530.2 166.7,529.1 171.4,530.1"/>
<polygon points="219.8,557.9 220.2,554.3 222.4,550.4 227.9,548.3 227.9,550.4 227.4,553.4 222.9,556.5"/>
<polygon points="141.4,529.8 141.3,528.0 141.4,526.9 143.7,525.4 144.5,526.7 144.1,528.7 143.1,530.3"/>
<polygon points="201.0,530.9 198.5,527.1 197.9,525.4 200.2,520.3 202.2,522.2 204.0,524.0 203.6,527.7"/>
<polygon points="181.8,502.4 177.8,502.2 178.3,496.4 180.2,492.0 183.7,492.6 184.6,495.4 185.9,501.1"/>
<polygon points="116.7,522.2 117.9,517.8 121.5,518.3 123.3,520.9 123.5,525.0 119.2,524.6"/>
<polygon points="184.5,546.7 183.8,547.8 180.0,547.9 178.0,546.2 180.0,544.7 182.7,545.2"/>
<polygon points="156.9,527.1 158.9,518.5 165.4,515.1 167.2,517.4 161.8,526.9"/>
<polygon points="1554.0,435.0 1552.5,434.6 1552.2,432.5 1552.5,430.2 1554.6,429.3 1556.4,430.9 1555.8,434.9"/>
<polygon points="1587.2,396.4 1585.5,393.8 1586.8,384.7 1588.3,383.4 1590.5,381.5 1591.2,388.5 1590.9,392.1"/>
<polygon points="1559.9,440.9 1558.7,440.6 1556.0,439.2 1557.4,436.0 1559.8,434.8 1561.1,434.9 1562.7,439.6"/>
<polygon points="1580.1,407.6 1578.3,407.3 1576.4,402.0 1577.4,399.2 1579.6,401.0 1581.5,407.4"/>
<polygon points="1579.3,449.4 1577.2,447.8 1577.1,445.3 1580.4,445.2 1581.4,447.6"/>
<polygon points="1555.6,393.5 1553.4,391.9 1551.6,388.4 1554.5,382.5 1556.9,383.4 1558.5,386.4 1558.0,391.2"/>
<polygon points="1600.2,432.3 1596.9,431.4 1595.1,424.0 1598.6,423.4 1601.5,428.3"/>
<polygon points="1561.0,438.1 1560.1,435.8 1560.3,433.7 1560.8,432.2 1563.1,434.3 1562.4,436.6"/>
<polygon points="1584.1,453.4 1582.3,448.0 1583.1,439.5 1586.6,435.9 1588.1,438.5 1588.9,441.1 1585.8,449.4"/>
<polygon points="1538.3,447.1 1537.5,445.7 1537.7,442.1 1540.3,439.8 1541.6,442.6 1541.0,445.1"/>
<polygon points="1594.0,388.9 1591.7,388.1 1591.3,384.3 1592.0,381.0 1594.5,380.6 1595.1,384.3 1594.9,387.7"/>
<polygon points="1577.2,412.1 1575.7,410.2 1576.0,408.8 1577.9,407.7 1578.8,409.2 1578.4,411.5"/>
<polygon points="1590.6,442.5 1589.6,441.7 1589.6,438.9 1590.9,438.5 1592.0,439.1 1592.6,441.3"/>
<polygon points="1569.9,461.6 1568.1,462.7 1566.4,460.7 1565.7,458.1 1568.5,456.7 1569.5,457.3 1571.1,461.5"/>
<polygon points="516.8,399.9 514.9,397.5 515.0,394.2 516.9,393.6 518.7,396.7"/>
<polygon points="527.2,403.7 526.6,400.3 528.4,397.4 529.9,397.9 529.6,400.7"/>
<polygon points="491.4,433.2 489.8,432.6 490.0,427.7 493.2,427.7 493.7,431.5"/>
<polygon points="507.3,460.4 505.5,459.2 504.3,456.9 504.2,453.3 506.2,454.4 507.2,455.8 508.0,457.8"/>
<polygon points="504.0,430.8 505.1,428.7 509.4,427.0 511.1,430.3 507.0,432.2"/>
<polygon points="505.8,399.8 502.9,402.0 500.6,399.4 502.0,396.7 505.7,396.4"/>
<polygon points="491.5,436.7 489.4,437.8 487.8,437.7 486.5,436.0 486.5,434.5 489.5,434.7 491.2,435.6"/>
<polygon points="505.1,429.9 501.2,432.1 498.3,430.5 497.9,428.6 501.2,426.8 504.9,428.1"/>
<polygon points="501.3,446.2 500.0,443.9 504.8,440.0 506.7,440.7 504.2,446.4"/>
<polygon points="509.8,438.8 509.6,435.4 511.9,433.7 514.4,435.7 513.3,438.1"/>
<polygon points="491.1,428.8 490.3,426.9 494.0,423.8 495.2,424.6 495.4,427.9 493.1,429.4"/>
<polygon points="514.7,398.8 512.9,399.7 512.2,398.9 511.4,397.2 512.8,396.6 514.6,397.5"/>
<polygon points="523.0,395.9 520.7,397.0 515.3,395.4 514.8,393.5 517.9,391.5 520.2,391.9"/>
<polygon points="504.8,422.3 503.1,424.2 497.5,420.9 499.7,419.2 504.5,419.8"/>
<polygon points="1647.9,423.3 1646.4,424.2 1644.5,424.3 1642.2,422.5 1644.7,421.4 1646.8,421.9"/>
<polygon points="1665.5,409.2 1664.3,408.2 1665.0,406.6 1666.5,405.7 1667.0,407.3 1666.6,408.9"/>
<polygon points="1618.3,391.0 1617.4,391.3 1614.9,390.6 1612.8,388.7 1614.4,388.0 1617.3,387.4 1617.9,388.8"/>
<polygon points="1657.9,418.2 1657.1,415.8 1661.0,410.6 1664.7,411.5 1662.7,417.5"/>
<polygon points="1685.7,378.0 1682.6,376.5 1682.4,372.9 1684.5,372.1 1686.8,375.2"/>
<polygon points="1619.7,427.5 1620.0,423.4 1623.3,422.9 1626.3,425.6 1626.4,428.1 1624.9,429.8 1620.0,429.1"/>
<polygon points="1616.2,383.6 1615.3,382.0 1616.2,378.7 1617.9,377.3 1619.1,378.5 1619.5,380.1 1618.0,383.4"/>
<polygon points="1644.5,399.6 1643.0,400.2 1641.3,399.4 1641.3,398.0 1643.1,397.2 1644.4,398.0"/>
<polygon points="1652.2,404.3 1648.1,404.6 1641.5,399.7 1644.6,397.8 1650.1,399.8"/>
<polygon points="1691.4,383.3 1686.5,383.6 1683.2,379.4 1682.6,377.5 1686.3,375.5 1691.7,379.5"/>
<polygon points="1629.9,399.5 1627.1,400.3 1625.4,397.9 1626.1,396.0 1628.5,395.3 1629.9,397.3"/>
<polygon points="1670.0,415.2 1666.9,414.2 1668.2,410.5 1671.5,410.5 1672.0,413.4"/>
<polygon points="1652.3,383.5 1649.3,384.3 1648.1,382.6 1649.5,381.0 1651.4,382.2"/>
<polygon points="1651.4,423.7 1648.4,420.2 1649.3,416.4 1651.3,413.8 1654.3,416.4 1653.5,421.1"/>
<polygon points="1686.0,408.5 1683.7,408.6 1682.7,406.4 1684.5,405.5 1685.6,406.2"/>
<polygon points="1632.1,434.7 1628.9,435.6 1625.5,428.3 1627.5,425.3 1630.2,425.1 1633.2,432.7"/>
<polygon points="1638.3,404.9 1635.0,404.8 1632.5,402.8 1631.6,399.7 1636.6,400.8"/>
<polygon points="1692.5,363.3 1688.5,364.5 1684.9,359.6 1687.1,355.6 1691.6,359.6"/>
<polygon points="1663.5,365.7 1661.5,366.8 1660.5,366.6 1659.0,365.9 1659.4,363.9 1661.5,364.2 1662.2,364.7"/>
<polygon points="1691.1,368.9 1689.5,368.4 1689.3,366.8 1691.5,365.6 1692.2,367.1"/>
<polygon points="1316.0,692.7 1315.5,690.5 1317.2,688.4 1320.0,688.2 1321.2,688.4 1320.8,692.0 1319.5,692.6"/>
<polygon points="1323.2,676.4 1322.4,673.7 1325.3,672.3 1327.1,672.8 1326.1,676.2"/>
<polygon points="1255.3,718.4 1255.0,715.0 1257.3,711.1 1258.6,710.5 1259.0,712.6 1257.9,716.3"/>
<polygon points="686.3,297.0 684.3,294.1 683.9,289.8 683.7,287.0 688.0,287.0 688.5,290.3 687.9,295.5"/>
<polygon points="782.9,334.6 783.2,333.3 784.7,332.1 786.4,332.7 785.5,335.1 784.6,335.5"/>
<polygon points="857.2,273.9 857.0,269.3 860.0,267.6 861.7,269.6 859.5,274.2"/>
<polygon points="687.3,314.2 682.0,312.4 678.6,308.6 680.0,303.1 681.8,300.7 687.0,306.6 688.0,310.2"/>
<polygon points="808.2,298.3 809.0,296.0 811.9,293.9 813.9,295.4 813.7,296.7 811.5,299.0"/>
<polygon points="837.4,296.4 835.5,296.2 831.3,288.7 831.3,283.7 837.1,286.1 839.0,291.1"/>
<polygon points="735.0,295.0 733.2,295.3 728.7,293.8 727.8,289.0 731.2,287.7 734.7,289.2 736.9,291.6"/>
<polygon points="771.0,293.3 766.3,290.5 764.4,282.9 767.5,282.2 771.5,287.2"/>
<polygon points="733.2,351.3 729.5,350.2 727.6,348.3 725.7,345.5 728.9,344.5 731.3,346.1 733.6,348.1"/>
<polygon points="749.6,271.1 746.4,270.5 744.5,266.9 747.1,266.5 749.1,268.2"/>
<polygon points="846.3,304.2 844.9,305.3 839.7,305.0 837.0,303.1 836.9,301.3 841.0,300.2 844.4,301.3"/>
<polygon points="802.6,309.8 801.1,311.1 796.2,312.0 790.0,307.7 793.5,303.9 798.5,302.7 804.6,306.3"/>
<polygon points="858.0,279.6 856.3,281.2 852.5,277.1 851.1,272.0 855.7,272.9 857.9,275.9"/>
<polygon points="852.8,315.3 851.8,313.3 852.1,305.6 855.0,305.8 859.0,304.7 859.0,309.3 856.2,315.4"/>
<polygon points="781.4,316.3 784.0,313.7 788.2,313.2 789.4,315.6 787.4,317.5 784.3,317.6"/>
<polygon points="724.1,280.2 717.7,277.8 717.2,274.5 722.1,270.8 726.0,275.0"/>
<polygon points="870.6,294.9 869.5,293.4 871.8,289.5 874.4,288.8 875.5,290.1 875.1,293.7 872.7,295.4"/>
<polygon points="841.7,281.3 841.8,279.2 843.5,277.2 847.1,278.3 847.4,279.9 845.5,282.8 843.3,283.1"/>
<polygon points="825.4,271.2 823.9,273.1 819.8,271.9 819.2,269.8 821.6,268.2 824.8,269.1"/>
<polygon points="713.7,270.6 713.2,266.0 715.7,263.3 719.3,263.9 717.4,268.4"/>
<polygon points="827.2,320.7 824.8,321.6 823.5,319.2 823.8,317.5 825.2,318.0 827.2,319.3"/>
<polygon points="742.3,271.7 741.5,263.7 747.4,260.0 752.9,261.5 753.8,266.0 748.1,270.4"/>
<polygon points="810.9,289.1 810.6,285.3 812.6,284.5 815.3,285.2 813.2,288.8"/>
<polygon points="826.7,260.4 823.4,262.1 818.2,258.7 817.6,255.7 819.5,252.7 823.6,253.6 826.2,257.2"/>
<polygon points="741.3,295.2 743.0,292.5 748.3,290.5 750.6,290.7 752.4,292.8 749.2,295.0 745.0,297.3"/>
<polygon points="694.0,268.2 691.6,266.2 690.3,263.8 693.1,262.1 695.4,263.4 695.2,266.1"/>
</g>
<g fill="#B3B3B3"><!-- LG -->
<polygon points="289.7,711.3 299.6,707.3 309.4,715.2 319.3,725.1 335.1,725.1 339.0,719.2 329.2,711.3 323.3,699.4 335.1,707.3 343.0,715.2 345.0,727.1 352.8,733.0 368.6,742.8 364.7,750.7 352.8,748.8 335.1,746.8 319.3,742.8 305.5,738.9 291.7,738.9"/>
<polygon points="329.2,772.4 341.0,778.3 352.8,798.1 368.6,804.0 378.5,809.9 376.5,817.8 339.0,817.8 331.1,798.1"/>
<polygon points="433.7,776.4 467.2,770.5 475.1,794.1 477.1,809.9 475.1,829.6 455.4,853.3 443.6,845.4 439.6,829.6 423.8,837.5 419.9,829.6 443.6,809.9 455.4,817.8 467.2,813.8 475.1,802.0 469.2,794.1"/>
<polygon points="364.7,671.8 372.6,667.9 396.2,667.9 404.1,687.6 396.2,699.4 380.5,711.3 368.6,711.3 364.7,695.5"/>
<polygon points="392.3,735.0 398.2,738.9 412.0,758.6 423.8,762.6 421.9,770.5 408.1,772.4 396.2,762.6"/>
<polygon points="303.5,733.0 313.4,733.0 313.4,742.8 303.5,742.8"/>
<polygon points="299.6,671.8 321.3,677.8 327.2,701.4 339.0,711.3 345.0,727.1 335.1,733.0 325.2,721.1 313.4,713.3 305.5,697.5 299.6,683.7"/>
<polygon points="315.4,731.0 337.1,723.1 352.8,733.0 356.8,744.8 368.6,735.0 382.4,731.0 390.3,746.8 396.2,762.6 388.3,817.8 356.8,820.7 339.0,816.8 331.1,802.0 339.0,794.1 325.2,778.3 333.1,770.5 317.3,744.8"/>
<polygon points="382.4,742.8 398.2,758.6 408.1,767.5 423.8,762.6 422.9,775.4 447.5,778.3 473.2,792.1 479.1,802.0 469.2,817.8 457.4,820.7 445.5,813.8 441.6,823.7 429.8,834.6 416.0,840.5 396.2,832.6 376.5,825.7"/>
</g>
<g fill="#4D4D4D"><!-- DG -->
<polygon points="305.5,671.8 317.3,679.7 321.3,699.4 335.1,711.3 341.0,725.1 337.1,731.0 329.2,719.2 317.3,711.3 309.4,695.5 303.5,683.7"/>
<polygon points="319.3,735.0 335.1,727.1 348.9,735.0 352.8,746.8 364.7,748.8 372.6,738.9 380.5,735.0 386.4,746.8 392.3,762.6 386.4,774.4 380.5,790.2 384.4,806.0 380.5,815.8 356.8,817.8 341.0,813.8 335.1,802.0 345.0,796.1 337.1,786.2 327.2,776.4 337.1,776.4 348.9,780.3 356.8,772.4 348.9,764.5 341.0,766.5 337.1,754.7 343.0,750.7 333.1,742.8 321.3,742.8"/>
<polygon points="372.6,675.8 382.4,671.8 388.3,677.8 396.2,675.8 396.2,687.6 388.3,695.5 380.5,691.6 374.5,699.4 368.6,695.5 376.5,685.6"/>
<polygon points="386.4,746.8 396.2,762.6 408.1,770.5 421.9,766.5 419.9,778.3 433.7,778.3 447.5,782.3 459.3,786.2 469.2,794.1 475.1,802.0 467.2,813.8 455.4,817.8 443.6,809.9 439.6,821.7 427.8,831.6 416.0,837.5 396.2,829.6 378.5,823.7 386.4,815.8 384.4,806.0 388.3,794.1 392.3,778.3 390.3,762.6"/>
<polygon points="380.5,699.4 386.4,703.4 388.3,719.2 386.4,735.0 392.3,746.8 386.4,746.8 382.4,735.0 380.5,719.2"/>
</g>
<g fill="#CD0000"><!-- gray R -->
<polygon points="396.2,786.2 408.1,786.2 406.1,798.1 398.2,802.0"/>
<polygon points="348.9,752.7 360.7,754.7 362.7,762.6 352.8,762.6"/>
<polygon points="356.8,786.2 368.6,788.2 364.7,798.1 354.8,796.1"/>
<polygon points="335.1,746.8 343.0,746.8 341.0,752.7 335.1,752.7"/>
<polygon points="408.1,778.3 416.0,776.4 417.9,786.2 410.0,788.2"/>
<polygon points="329.2,719.2 337.1,717.2 352.8,731.0 348.9,735.0"/>
<polygon points="364.7,750.7 374.5,738.9 378.5,740.9 368.6,754.7"/>
<polygon points="380.5,770.5 388.3,766.5 388.3,778.3 382.4,786.2"/>
<polygon points="408.1,798.1 423.8,794.1 427.8,802.0 412.0,809.9"/>
<polygon points="427.8,782.3 443.6,786.2 441.6,794.1 429.8,792.1"/>
<polygon points="447.5,798.1 459.3,798.1 457.4,809.9 447.5,809.9"/>
<polygon points="341.0,798.1 352.8,800.0 350.9,809.9 343.0,809.9"/>
<polygon points="392.3,809.9 408.1,813.8 406.1,823.7 394.3,821.7"/>
</g>
<g fill="#B3B3B3"><!-- LG2 -->
<polygon points="368.6,802.0 377.5,802.0 377.5,813.8 368.6,813.8"/>
<polygon points="464.3,798.1 475.1,796.1 476.1,811.9 465.3,813.8"/>
</g>
<g fill="#D83900"><!-- TX RO -->
<polygon points="736.9,912.1 751.0,914.1 765.0,914.1 791.1,932.2 813.2,934.2 831.3,926.1 861.4,924.1 881.4,910.1 901.5,912.1 920.0,926.1 941.7,938.2 941.7,1072.7 736.9,1072.7"/>
<polygon points="871.4,910.1 881.4,908.1 883.5,918.1 873.4,920.1"/>
</g>
<g fill="#F9E300"><!-- TX Y -->
<polygon points="748.9,918.1 761.0,922.1 781.1,942.2 811.2,940.2 829.3,932.2 841.3,946.2 855.4,960.3 873.4,958.3 881.4,962.3 893.5,958.3 921.6,952.2 921.6,1072.7 748.9,1072.7"/>
<polygon points="909.6,916.1 920.0,915.1 921.6,928.1 910.6,928.1"/>
</g>
<g fill="#B2D144"><!-- TX G -->
<polygon points="757.0,928.1 769.0,932.2 781.1,948.2 813.2,950.2 821.2,962.3 841.3,966.3 853.3,980.3 861.4,980.3 875.4,972.3 891.5,968.3 901.5,966.3 901.5,1072.7 757.0,1072.7"/>
</g>
<g fill="#4B939F"><!-- TX T -->
<polygon points="785.1,971.3 801.1,970.3 805.2,962.3 815.2,961.3 817.2,974.3 829.3,982.3 841.3,992.4 859.4,986.4 869.4,982.3 871.4,1072.7 785.1,1072.7"/>
</g>
<g fill="#B2D144"><!-- TX G2 -->
<polygon points="819.2,1004.4 829.3,1002.4 827.2,1014.5 821.2,1016.5"/>
</g>
<g fill="#1874CD"><!-- TX B -->
<polygon points="791.1,980.3 807.2,972.3 821.2,982.3 823.2,996.4 819.2,1010.5 823.2,1024.5 841.3,1020.5 859.4,1022.5 867.4,1032.5 871.4,1072.7 791.1,1072.7"/>
</g>
<g fill="#D83900"><!-- FL RO -->
<polygon points="1260.1,940.2 1274.1,952.2 1288.2,944.2 1300.2,939.2 1320.3,943.2 1328.3,952.2 1360.5,952.2 1360.5,1092.8 1260.1,1092.8"/>
<polygon points="1300.2,902.0 1308.3,900.0 1310.3,914.1 1302.2,912.1"/>
</g>
<g fill="#F9E300"><!-- FL Y -->
<polygon points="1270.1,976.3 1278.1,970.3 1290.2,968.3 1292.2,952.2 1308.3,950.2 1324.3,951.2 1330.3,958.3 1334.4,962.3 1360.5,962.3 1360.5,1092.8 1270.1,1092.8"/>
</g>
<g fill="#B2D144"><!-- FL G -->
<polygon points="1270.1,986.4 1286.2,980.3 1300.2,972.3 1306.3,958.3 1320.3,954.2 1324.3,960.3 1334.4,972.3 1344.4,1004.4 1360.5,1008.4 1360.5,1092.8 1270.1,1092.8"/>
</g>
<g fill="#F9E300"><!-- FL Y2 -->
<polygon points="1308.3,980.3 1316.3,968.3 1326.3,972.3 1329.3,988.4 1326.3,998.4 1316.3,996.4 1309.3,990.4"/>
<polygon points="1280.2,996.4 1292.2,992.4 1298.2,1000.4 1292.2,1010.5 1282.2,1008.4"/>
</g>
<g fill="#4B939F"><!-- FL T -->
<polygon points="1280.2,1012.5 1292.2,1020.5 1300.2,1024.5 1310.3,1024.5 1316.3,1014.5 1328.3,1010.5 1340.4,1008.4 1352.4,1012.5 1360.5,1012.5 1360.5,1092.8 1280.2,1092.8"/>
<polygon points="1306.3,1001.4 1314.3,1001.4 1314.3,1009.4 1306.3,1009.4"/>
</g>
<g fill="#1874CD"><!-- FL B -->
<polygon points="1280.2,1024.5 1292.2,1032.5 1300.2,1038.6 1310.3,1040.6 1320.3,1032.5 1328.3,1020.5 1340.4,1016.5 1348.4,1020.5 1360.5,1022.5 1360.5,1092.8 1280.2,1092.8"/>
</g>
<g fill="#D83900"><!-- App RO -->
<polygon points="1360.1,558.4 1376.1,538.3 1400.2,526.3 1410.3,532.3 1394.2,554.4 1382.2,572.5 1370.1,578.5 1360.1,572.5"/>
<polygon points="1325.0,652.2 1335.0,636.2 1347.0,622.2 1358.0,608.2 1370.0,596.2 1379.0,588.2 1369.0,579.8 1360.0,587.8 1348.0,599.8 1337.0,613.8 1325.0,627.8 1315.0,643.8"/>
</g>
<g fill="#EEAA00"><!-- App O -->
<polygon points="1366.1,558.4 1380.2,542.3 1400.2,530.3 1406.3,532.3 1390.2,550.4 1380.2,566.4 1370.1,574.5 1364.1,570.4"/>
<polygon points="1364.1,574.5 1374.1,574.5 1370.1,584.5 1364.1,586.5"/>
<polygon points="1332.9,634.5 1344.9,620.5 1355.9,606.5 1367.9,594.5 1376.9,586.5 1371.1,581.5 1362.1,589.5 1350.1,601.5 1339.1,615.5 1327.1,629.5"/>
<polygon points="1241.2,718.2 1261.3,712.1 1273.3,724.2 1265.3,730.2 1249.3,732.2"/>
<polygon points="1281.4,706.1 1297.4,692.1 1301.4,698.1 1289.4,714.1"/>
<polygon points="1301.4,678.0 1321.5,678.0 1313.5,690.0 1301.4,688.0"/>
</g>
<g fill="#B2D144"><!-- App G -->
<polygon points="1345.5,617.3 1354.5,605.3 1365.5,594.3 1362.5,591.7 1351.5,602.7 1342.5,614.7"/>
</g>
<g fill="#4B939F"><!-- App T -->
<polygon points="1351.0,608.8 1358.0,600.8 1356.0,599.2 1349.0,607.2"/>
</g>
</g></g>
<polygon fill="#1874CD" points="1091.0,288.0 1100.0,282.0 1113.0,276.0 1115.0,279.0 1104.0,286.0 1094.0,292.0"/>
<polygon fill="#1874CD" points="1042.0,318.0 1050.0,315.0 1058.0,316.0 1056.0,321.0 1046.0,322.0"/>
<polygon fill="#1874CD" points="1189.0,360.0 1194.0,358.0 1195.0,364.0 1190.0,365.0"/>
<polygon fill="#1874CD" points="1183.0,372.0 1187.0,371.0 1187.0,376.0 1183.0,376.0"/>
<polygon fill="#4B939F" points="1176.0,388.0 1182.0,386.0 1181.0,392.0"/>
<polygon fill="#1874CD" points="1238.0,349.0 1252.0,351.0 1252.0,358.0 1242.0,357.0"/>
<polygon fill="#B2D144" points="220.0,771.0 232.0,770.0 246.0,772.0 247.0,776.0 232.0,777.0 222.0,775.0"/>
<polygon fill="#D83900" points="236.0,771.0 246.0,772.0 246.0,775.0 237.0,775.0"/>
<polygon fill="#CD0000" points="270.0,790.0 275.0,789.0 281.0,795.0 280.0,799.0 274.0,797.0"/>
<polygon fill="#CD0000" points="270.0,806.0 274.0,805.0 280.0,814.0 277.0,817.0 272.0,812.0"/>
<polygon fill="#EEAA00" points="243.0,797.0 248.0,797.0 248.0,803.0 244.0,802.0"/>
<polygon fill="#EEAA00" points="1583.0,520.0 1588.0,520.0 1588.0,526.0 1583.0,526.0"/>
<polygon fill="#1874CD" points="143.0,256.0 150.0,254.0 152.0,262.0 146.0,264.0"/>
<polygon fill="#1874CD" points="146.0,246.0 149.0,246.0 149.0,249.0 146.0,249.0"/>
<polygon fill="#1874CD" points="1645.0,424.0 1660.0,420.0 1662.0,426.0 1650.0,430.0"/>
<polygon fill="#1874CD" points="1670.0,414.0 1690.0,408.0 1692.0,413.0 1675.0,419.0"/>
<polygon fill="#1874CD" points="1700.0,400.0 1712.0,396.0 1714.0,400.0 1702.0,405.0"/>
<polygon fill="#B2D144" points="866.0,1036.0 870.0,1052.0 873.0,1052.0 869.0,1030.0 864.0,1008.0 866.0,990.0 875.0,976.0 890.0,964.0 900.0,960.0 899.0,957.0 888.0,961.0 872.0,974.0 863.0,988.0 861.0,1008.0"/>
<polygon fill="#B2D144" points="1266.1,1098.8 1271.1,1098.8 1271.1,1102.8 1266.1,1102.8"/>
<polygon fill="#EEAA00" points="1288.2,1100.8 1293.2,1100.8 1293.2,1103.8 1288.2,1103.8"/>
<polygon fill="#EEAA00" points="1298.2,1098.8 1306.3,1098.8 1306.3,1103.8 1298.2,1103.8"/>
<polygon fill="#B2D144" points="1306.3,1095.8 1324.3,1094.8 1324.3,1099.8 1306.3,1101.2"/>
<polygon fill="#4B939F" points="1326.3,1090.8 1330.3,1090.8 1330.3,1094.8 1326.3,1094.8"/>
<polygon fill="#B2D144" points="1330.3,1085.7 1340.4,1082.7 1341.4,1087.7 1331.3,1092.8"/>
<polygon fill="#4B939F" points="1340.4,1070.7 1346.4,1070.7 1346.4,1078.7 1340.4,1078.7"/>
<polygon fill="#EEAA00" points="1606.0,514.0 1613.0,515.0 1613.0,519.0 1606.0,519.0"/>
<polygon fill="#EEAA00" points="1623.0,516.0 1631.0,517.0 1631.0,521.0 1623.0,521.0"/>
<g fill="none" stroke="#000" stroke-width="3.5" stroke-linejoin="round" stroke-linecap="round">
<polyline points="154.7,248.5 928.0,249.0 928.0,236.0 937.0,236.0 940.0,256.1 964.2,263.1 966.2,266.1 980.2,261.1 994.3,264.1 1004.3,273.2 1012.3,271.2 1026.4,280.2 1046.5,274.2 1050.5,278.2 1068.6,279.2 1085.6,283.2 1060.5,292.2 1044.5,300.3 1028.4,314.3 1014.4,325.4 1014.4,328.4 1032.4,324.4 1048.5,321.3 1045.5,332.4 1052.0,330.0 1060.5,334.4 1064.6,335.4 1072.6,326.4 1090.7,321.3 1106.7,310.3 1118.8,303.3 1134.8,302.3 1133.0,306.0 1120.8,314.3 1113.7,324.4 1120.8,321.3 1132.8,324.4 1144.9,334.4 1162.9,339.4 1179.0,330.4 1201.1,328.4 1211.1,327.4 1212.1,336.4 1229.2,339.4 1234.2,348.5 1240.2,354.5 1219.1,353.5 1215.1,358.5 1201.1,350.5 1181.0,354.5 1171.0,360.5 1164.9,356.5 1160.9,362.5 1154.9,356.5 1148.9,368.5 1140.8,382.6 1136.8,386.6 1131.0,394.0 1125.5,401.0 1124.8,404.7 1130.0,401.0 1139.0,391.0 1150.0,379.0 1155.5,376.6 1151.9,390.6 1143.5,410.7 1138.3,422.7 1135.8,438.8 1130.8,454.0 1131.8,474.1 1135.8,492.1 1142.9,504.2 1152.9,504.2 1162.9,498.2 1171.0,486.1 1176.0,470.1 1175.0,454.0 1172.0,454.0 1166.9,436.8 1167.9,422.7 1171.0,414.7 1174.0,400.7 1179.0,390.6 1188.0,384.0 1195.0,380.6 1196.0,388.0 1199.0,380.0 1201.1,370.5 1209.1,360.5 1221.1,363.5 1233.2,368.5 1249.2,374.6 1255.3,380.6 1258.3,388.6 1257.3,400.7 1253.3,412.7 1249.2,422.7 1241.2,428.8 1245.2,438.8 1257.3,428.8 1267.3,420.7 1275.4,426.7 1279.4,442.8 1281.4,454.0 1281.4,466.0 1273.3,474.1 1263.3,484.1 1259.3,494.2 1252.3,503.2 1261.3,506.2 1269.3,512.2 1281.4,514.2 1301.4,510.2 1315.5,502.2 1340.0,491.6 1360.1,480.1 1376.1,470.1 1381.2,462.0 1376.1,454.0 1376.1,448.8 1392.2,445.8 1416.3,449.8 1436.4,447.8 1450.4,439.8 1455.4,430.8 1451.4,420.7 1464.5,408.7 1476.5,396.6 1490.6,388.6 1585.9,388.0 1588.9,378.6 1599.0,377.6 1609.0,373.5 1613.0,366.5 1619.1,358.5 1621.1,346.4 1627.1,338.4 1629.1,328.4 1651.2,302.3 1656.2,303.3 1657.2,310.3 1677.3,305.3 1691.3,316.3 1690.3,362.5 1699.4,368.5 1701.4,378.6 1710.4,385.6 1712.4,394.6 1697.4,402.7 1681.3,408.7 1667.2,412.7 1661.2,406.7 1653.2,418.7 1641.1,425.7 1629.1,432.8 1621.1,440.8 1615.0,448.8 1611.0,454.0 1609.0,458.0 1607.0,466.0 1601.0,478.1 1603.0,486.1 1611.0,494.2 1615.0,502.2 1628.0,504.5 1628.0,508.0 1621.1,509.5 1609.0,510.2 1601.0,512.2 1593.0,506.2 1591.0,510.2 1580.9,513.2 1560.8,516.2 1540.8,519.2 1524.7,524.3 1518.0,533.0 1513.5,543.0 1518.7,550.4 1517.7,564.4 1512.7,576.5 1504.6,586.5 1494.6,596.5 1490.6,602.6 1484.5,592.5 1476.5,582.5 1473.0,573.0 1477.5,584.5 1485.0,594.5 1489.0,606.6 1489.0,616.6 1484.5,628.7 1478.5,640.7 1468.5,654.8 1462.5,664.8 1462.8,671.9 1464.5,678.0 1468.5,690.0 1474.5,706.1 1477.5,712.1"/>
<polyline points="1420.3,756.3 1410.3,768.3 1406.3,778.4 1390.2,778.4 1380.2,786.4 1373.1,798.5 1366.1,808.5 1352.0,818.5 1340.0,827.6 1329.6,836.6 1323.5,840.6 1319.5,850.7 1313.5,864.7 1309.5,876.8 1310.5,890.8 1310.3,892.0 1316.3,918.1 1322.3,940.2 1328.3,958.3 1334.4,976.3 1340.4,994.4 1346.4,1010.4 1349.4,1026.5 1348.4,1044.6 1345.4,1062.6 1340.4,1074.7 1334.4,1079.7 1326.3,1081.7 1319.3,1079.7 1315.3,1072.7 1310.3,1060.6 1300.2,1052.6 1296.2,1040.6 1292.2,1028.5 1288.2,1020.5 1283.2,1016.5 1278.1,1006.4 1275.1,996.4 1270.1,986.4 1273.1,972.3 1276.1,958.3 1272.1,946.2 1262.1,938.2 1252.0,924.1 1240.0,910.5 1237.2,910.1 1229.2,914.1 1221.1,918.1 1209.1,925.1 1199.1,924.1 1197.0,914.1 1189.0,905.0 1177.0,899.0 1160.9,899.0 1140.8,901.0 1131.0,901.0 1127.0,889.0 1124.0,900.0 1120.8,898.0 1100.7,899.0 1088.6,902.0 1088.6,904.0 1094.7,912.1 1086.6,920.1 1082.6,928.1 1090.7,934.2 1096.7,942.2 1086.6,949.2 1078.6,938.2 1069.6,931.1 1064.6,942.2 1056.5,938.2 1044.5,944.2 1034.4,937.2 1024.4,928.1 1024.4,922.1 1016.4,919.1 1010.3,922.1 1006.3,929.1 986.3,924.1 966.2,922.1 950.1,926.1 936.1,932.2 932.0,938.2 920.0,950.7 893.5,958.3 881.4,966.3 869.4,978.3 861.4,988.4 861.4,1006.4 861.4,1020.5 866.4,1036.6 870.4,1052.6 861.4,1055.6 853.3,1051.6 841.3,1049.6 829.3,1044.6 817.2,1038.6 813.2,1028.5 806.2,1014.5 805.2,1004.4 801.1,994.4 791.1,980.3 783.1,970.3 775.0,952.2 769.0,940.2 759.0,932.2 750.0,922.1 736.9,921.1 726.9,918.1 716.8,923.1 712.8,930.1 708.8,942.2 700.8,949.2 690.7,943.2 674.7,934.2 662.6,922.1 658.6,904.0 653.5,893.0 650.6,890.8 638.5,882.8 628.5,870.7 618.5,863.7 612.4,854.7 605.4,849.7 561.2,850.7 561.2,866.5 481.5,866.7 378.1,826.6 378.1,822.6 313.9,823.6 309.9,818.5 306.9,806.5 298.8,794.4 286.8,782.4 278.8,780.4 272.7,772.4 256.7,768.3 244.6,758.3 224.6,757.3 215.5,752.3 214.5,736.2 208.5,722.2 192.4,706.1 180.4,692.1 178.4,682.0 180.4,678.0 168.3,666.8 164.3,654.8 166.0,646.0 160.3,636.7 148.3,626.7 140.2,612.6 128.2,594.5 125.2,574.5 112.1,554.4 110.1,542.3 118.1,522.3 117.1,506.2 112.1,492.1 110.1,474.1 105.1,463.0 110.1,454.0 117.1,420.7 121.2,390.6 123.2,360.5 122.2,344.4 120.2,342.4 119.1,324.4 116.1,310.3 110.1,292.2 102.1,282.2 101.1,270.2 126.2,277.2 146.3,278.2 154.3,280.2 156.0,256.0 154.7,248.5"/>
<polygon points="1513.5,544.3 1520.7,534.3 1540.8,528.3 1564.9,522.3 1576.9,524.3 1560.8,534.3 1540.8,541.3 1520.7,546.0"/>
<polyline points="315.5,249.0 316.5,340.0 318.0,352.0"/>
<polyline points="122.2,344.4 140.2,346.4 150.3,352.5 155.3,364.5 166.3,368.5 184.4,364.1 200.5,367.5 220.5,362.5 240.6,357.9 260.7,354.1 280.8,352.5 318.0,352.0"/>
<polyline points="318.0,352.0 329.0,360.5 331.0,366.5 324.0,382.6 318.9,396.6 310.9,406.7 310.9,412.7 318.9,416.7 315.9,428.8 315.5,492.5"/>
<polyline points="343.0,249.0 343.0,284.2 351.0,296.3 353.0,304.3 365.1,312.3 377.1,326.4 391.2,330.4 390.2,342.4 385.2,350.5 388.2,358.5 384.2,364.5 390.2,372.5 401.2,363.5 409.2,376.6 414.3,388.6 421.3,396.6 427.3,404.7 433.3,410.7 441.4,406.7 461.4,404.3 471.5,402.7 474.5,396.6 481.5,402.7 482.6,403.0"/>
<polyline points="112.0,492.5 482.6,492.5"/>
<polyline points="232.6,492.5 232.6,596.5 381.1,733.2"/>
<polyline points="399.2,492.5 399.2,696.0 393.2,702.0 381.0,700.0 379.0,718.0 381.1,733.2"/>
<polyline points="381.1,733.2 387.2,744.3 396.2,762.3 387.2,772.4 385.2,786.4 379.1,798.5 385.2,808.5 383.2,816.5 378.1,822.6"/>
<polyline points="399.2,667.8 941.5,667.8"/>
<polyline points="538.3,528.3 538.3,866.3"/>
<polyline points="482.6,388.6 482.6,528.3"/>
<polyline points="482.6,388.6 677.7,388.6"/>
<polyline points="482.6,528.3 733.9,528.3"/>
<polyline points="677.7,249.0 677.7,528.3"/>
<polyline points="677.7,355.5 885.5,355.5"/>
<polyline points="868.4,249.0 871.4,260.1 872.4,276.2 878.4,294.2 880.4,320.3 884.5,338.4 888.5,350.5 885.5,355.5 885.5,358.5 879.4,366.5 884.5,372.5 890.5,375.6 890.5,440.6"/>
<polyline points="890.5,440.6 1037.4,440.6"/>
<polyline points="890.5,440.6 886.5,447.8 891.5,454.0 885.5,468.0 887.5,473.1"/>
<polyline points="677.7,458.0 833.3,458.0 849.3,465.0 861.4,463.0 881.4,469.1 887.5,473.1"/>
<polyline points="887.5,473.1 893.5,486.1 899.5,504.2 907.5,520.3 908.5,540.3 916.0,553.0 920.0,557.0 926.0,566.4 934.1,570.4 928.0,578.5 936.1,590.5 941.5,592.5 941.5,667.8"/>
<polyline points="908.5,541.9 1022.4,541.3 1029.4,548.4"/>
<polyline points="733.9,528.3 733.9,667.8"/>
<polyline points="733.9,562.4 925.0,562.4"/>
<polyline points="706.8,667.8 706.0,843.6"/>
<polyline points="706.0,843.6 605.4,843.6 605.4,849.7"/>
<polyline points="706.0,686.0 791.1,686.0 791.1,753.3 801.1,759.3 810.2,757.3 815.2,764.3 833.3,770.4 844.3,768.3 850.3,778.4 859.4,774.4 869.4,782.4 875.4,775.4 892.5,783.4 901.5,778.4 920.0,775.4 925.0,773.4 944.1,784.4 957.1,787.4"/>
<polyline points="941.5,667.8 941.5,685.0 945.1,718.0 945.1,784.6"/>
<polyline points="957.1,787.4 957.1,842.6 963.2,852.7 968.2,866.7 972.2,876.8 969.2,890.8 967.2,904.0 966.2,922.1"/>
<polyline points="957.1,806.5 1037.0,806.5"/>
<polyline points="941.5,685.0 1067.6,685.0 1069.6,691.0 1059.5,703.1 1078.6,703.1"/>
<polyline points="1014.4,328.4 1006.3,330.4 1006.3,350.5 994.3,358.5 988.3,368.5 993.3,376.6 991.3,390.6 996.3,400.7 1010.3,408.7 1020.4,416.7 1028.4,424.7 1035.4,430.8 1037.4,440.8 1041.5,450.8 1040.5,454.0 1042.5,464.0 1052.5,474.1 1064.6,488.1 1065.6,498.2 1058.5,508.2 1041.5,513.2 1040.5,522.3 1043.5,528.3 1038.5,538.3 1029.4,544.3 1029.4,548.4 1028.4,562.4 1032.4,572.5 1044.5,584.5 1050.5,592.5 1053.5,602.6 1066.6,603.6 1063.5,612.6 1059.5,622.6 1068.6,632.7 1080.6,642.7 1084.6,652.8 1086.6,662.8 1094.7,669.8 1096.7,678.0 1084.6,686.0 1080.6,698.1 1076.6,710.1 1068.6,722.2 1067.6,734.2 1060.5,740.2 1054.5,752.3 1048.5,762.3 1040.5,772.4 1036.4,786.4 1040.5,800.5 1037.4,810.5 1042.5,826.6 1040.5,838.6 1032.4,850.7 1026.4,862.7 1024.4,878.8 1078.6,878.8 1075.6,890.8 1078.6,902.0 1086.0,903.0"/>
<polyline points="1052.5,474.1 1131.8,474.1"/>
<polyline points="1064.6,336.4 1068.6,342.4 1120.8,355.5 1128.8,366.5 1130.8,374.6 1135.8,376.6 1136.8,384.6"/>
<polyline points="1139.8,504.2 1139.8,586.5 1135.8,592.5 1139.8,604.6 1132.8,616.6 1126.8,626.7 1124.8,636.7"/>
<polyline points="1124.8,636.7 1122.8,646.7 1112.7,654.8 1112.7,664.8 1103.0,663.0 1096.7,660.8 1090.7,666.8 1094.7,669.8"/>
<polyline points="1124.8,636.7 1136.8,635.7 1150.9,640.7 1160.9,632.7 1165.0,638.0 1173.0,626.7 1181.0,632.7 1189.0,622.6 1197.0,609.6 1214.1,603.6 1214.1,594.5 1225.2,593.5 1233.2,603.6 1249.2,610.6 1269.3,607.6 1279.4,618.6"/>
<polyline points="1215.1,502.2 1215.1,603.6"/>
<polyline points="1160.9,501.2 1215.1,501.2 1215.1,503.2 1253.3,503.2"/>
<polyline points="1279.4,618.6 1287.4,612.6 1291.4,600.6 1301.4,594.5 1307.5,584.5 1321.5,576.5 1329.6,558.4 1332.6,542.3 1336.6,536.0"/>
<polyline points="1336.6,494.2 1336.6,572.5 1466.5,572.5"/>
<polyline points="1279.4,618.6 1277.4,628.7 1285.4,640.7 1291.4,651.8 1271.3,662.8 1251.3,678.0 1244.0,682.0"/>
<polyline points="1291.4,651.8 1301.4,660.8 1311.5,662.8 1321.5,656.8 1330.0,654.6 1337.0,653.2 1342.8,647.4 1342.2,641.6 1349.8,634.6 1352.1,627.6 1358.0,620.6 1357.0,615.9 1359.7,612.4 1363.8,618.3 1370.2,617.1 1371.9,610.1 1376.6,604.9 1381.3,601.9 1390.6,592.6 1392.9,581.6 1399.9,586.8 1410.4,594.4 1413.9,588.0"/>
<polyline points="1363.8,572.8 1363.8,590.3 1371.9,584.5 1381.3,578.6 1385.3,575.7 1392.9,577.5 1402.2,575.7 1411.6,577.5 1413.3,583.3 1413.9,588.0"/>
<polyline points="1413.9,588.0 1420.9,590.9 1431.4,598.5 1436.0,601.9 1430.2,606.6 1425.5,613.6 1426.1,620.6 1432.5,618.3"/>
<polyline points="1084.6,686.0 1125.8,686.0 1125.8,681.0 1301.4,681.5 1462.5,683.0"/>
<polyline points="1065.6,738.2 1265.3,738.2"/>
<polyline points="1301.4,682.0 1293.4,696.1 1277.4,702.1 1261.3,712.1 1239.2,720.2 1230.2,730.2 1229.2,738.2"/>
<polyline points="1265.3,737.2 1283.4,730.2 1319.5,733.2 1329.6,742.2 1340.0,743.2 1359.1,744.3 1390.2,777.4"/>
<polyline points="1265.3,738.2 1255.3,747.3 1269.3,757.3 1281.4,776.4 1297.4,794.4 1309.5,810.5 1317.5,830.6 1323.5,840.6"/>
<polyline points="1122.8,738.2 1118.8,798.5 1112.7,838.6 1113.7,902.0"/>
<polyline points="1193.0,738.2 1203.1,808.5 1210.1,822.6 1213.1,834.6 1207.1,842.6 1207.1,858.7 1209.1,876.8 1211.1,886.8 1287.4,893.8 1290.0,901.0 1293.0,896.0 1291.4,886.8 1307.5,890.8"/>
<polyline points="1209.1,877.8 1135.8,877.8 1140.8,890.8 1141.0,900.0"/>
<polyline points="1357.1,483.0 1357.1,493.1 1478.5,493.1 1488.6,504.2 1492.6,514.2"/>
<polyline points="1492.6,514.2 1484.5,528.3 1483.5,540.3 1492.6,548.4 1498.6,558.4 1484.5,566.4 1472.5,570.4 1467.0,573.0"/>
<polyline points="1492.6,515.0 1521.7,529.3"/>
<polyline points="1468.5,573.0 1468.5,616.6 1488.6,616.6"/>
<polyline points="1533.7,388.6 1532.7,420.7 1533.7,438.8 1537.0,446.0 1536.7,454.0 1538.8,466.0 1532.7,492.1 1528.7,520.3"/>
<polyline points="1585.9,388.6 1582.9,400.7 1580.9,408.7 1572.9,412.7 1568.9,422.7 1564.9,438.8 1560.8,454.0 1555.8,467.0"/>
<polyline points="1600.0,378.6 1603.0,454.0 1606.0,462.0"/>
<polyline points="1538.8,467.0 1593.0,467.0 1605.0,463.0 1609.0,458.0"/>
<polyline points="1532.7,491.1 1591.0,492.1 1593.0,504.2"/>
<polyline points="1580.9,491.5 1580.9,513.2"/>
<polyline stroke-width="8" points="147.0,262.0 155.0,264.0"/>
<polyline stroke-width="5.5" points="159.9,256.9 162.6,270.3 168.0,282.4 165.3,293.2 162.6,305.3 157.2,314.7 151.8,316.0"/>
<polyline stroke-width="5.5" points="154.5,289.1 149.1,299.9 147.8,310.6 153.2,317.4"/>
<polyline stroke-width="5" points="165.3,274.4 170.6,283.8 168.0,297.2 165.3,308.0"/>
<polyline stroke-width="4.5" points="154.5,289.1 159.0,282.0 163.0,276.0"/>
<polyline stroke-width="5" points="119.0,319.0 127.0,320.0"/>
<polyline stroke-width="5" points="119.0,329.0 125.0,331.0 122.0,336.0"/>
<polyline stroke-width="3" points="162.4,633.8 164.3,630.1 171.6,630.1 173.5,637.4 168.0,641.1 166.1,646.6 173.5,648.5 179.0,652.1"/>
<polyline stroke-width="3.8" points="1468.7,570.5 1461.7,578.6 1452.3,585.6 1445.4,589.1 1446.5,598.5 1447.7,608.9 1441.9,617.1 1447.7,622.9 1451.2,629.9 1454.7,636.9 1452.3,643.9 1453.5,653.2 1450.0,662.5 1453.5,669.5 1447.7,671.9"/>
<polyline stroke-width="3.8" points="1468.7,575.1 1458.2,586.8 1452.3,595.0 1454.7,603.1 1458.2,612.4 1455.8,618.3 1461.7,622.9 1466.3,628.7 1465.2,634.6 1471.0,639.2 1465.2,648.6 1461.7,657.9 1460.5,663.7 1462.8,666.0"/>
<polyline stroke-width="5" points="1453.5,638.1 1446.5,631.1 1439.5,625.3 1432.5,618.3"/>
<polyline stroke-width="4.5" points="1452.3,646.2 1444.2,639.2 1436.0,632.2"/>
<polyline stroke-width="4.5" points="1453.5,655.5 1445.4,652.1 1438.4,649.7"/>
<polyline stroke-width="5" points="1451.2,664.9 1441.9,661.4 1433.7,659.0"/>
<polyline stroke-width="3.5" points="1447.7,622.9 1441.9,617.1 1440.7,611.3"/>
<polyline stroke-width="3" points="1465.2,634.6 1475.7,632.2 1482.6,629.9"/>
<polyline stroke-width="4.6" points="1462.8,691.5 1455.3,694.7 1448.8,698.0 1442.4,696.9 1441.3,691.5"/>
<polyline stroke-width="4.6" points="1440.2,705.5 1448.8,704.4 1457.4,702.3 1464.9,704.4 1468.2,710.9 1466.0,717.3 1459.6,722.7 1455.3,724.8 1448.8,720.5 1443.4,719.5 1432.7,720.5"/>
<polyline stroke-width="4.6" points="1457.4,702.3 1460.1,709.8 1458.0,713.0"/>
<polyline stroke-width="5" points="1448.8,720.5 1446.7,725.9 1445.6,732.4 1438.1,736.7 1430.5,733.4"/>
<polyline stroke-width="4.6" points="1445.6,732.4 1453.1,736.7 1454.2,738.8 1446.7,745.3 1440.2,745.3 1431.6,747.4 1426.2,749.6 1421.9,747.4 1420.9,753.9 1420.3,756.3"/>
<polyline stroke-width="2.8" points="1615.0,503.0 1628.0,505.0 1630.5,498.0 1627.0,491.5 1622.5,492.0"/>
<polyline stroke-width="4.5" points="1271.0,984.0 1276.0,988.0 1274.0,994.0 1281.0,990.0"/>
<polyline stroke-width="4" points="1284.0,1018.0 1289.0,1022.0 1287.0,1027.0"/>
<polyline stroke-width="7" points="1319.5,1079.0 1322.0,1080.0"/>
<polyline stroke-width="3.5" points="1195.0,381.0 1196.0,392.0"/>
<polyline stroke-width="2.6" points="932.0,922.0 934.0,930.0 938.0,926.0 936.0,934.0"/>
<polyline stroke-width="2.6" points="1062.0,902.0 1070.0,898.0 1078.0,902.0 1074.0,910.0 1064.0,910.0 1062.0,902.0"/>
<polyline stroke-width="3" points="1127.0,889.0 1125.0,900.0"/>
<polyline stroke-width="3" points="862.0,1006.0 856.0,1004.0 858.0,1010.0"/>
<polyline stroke-width="3.5" points="1606.0,516.0 1612.0,517.0"/>
<polyline stroke-width="3.5" points="1624.0,518.0 1630.0,519.0"/>
</g>
<text x="1762" y="456" font-weight="bold" font-size="28.4" textLength="239" lengthAdjust="spacingAndGlyphs">Relative pop. size</text>
<g font-size="23.7">
<rect x="1762.5" y="473" width="36" height="36" fill="#4D4D4D"/><text x="1812" y="499.8">excl.-severe</text>
<rect x="1762.5" y="509" width="36" height="36" fill="#B3B3B3"/><text x="1812" y="535.8">excl.-moderate</text>
<rect x="1762.5" y="545" width="36" height="36" fill="#1874CD"/><text x="1812" y="571.8">0-10</text>
<rect x="1762.5" y="581" width="36" height="36" fill="#4B939F"/><text x="1812" y="607.8">10-20</text>
<rect x="1762.5" y="617" width="36" height="36" fill="#7FB272"/><text x="1812" y="643.8">20-30</text>
<rect x="1762.5" y="653" width="36" height="36" fill="#B2D144"/><text x="1812" y="679.8">30-40</text>
<rect x="1762.5" y="689" width="36" height="36" fill="#E5F017"/><text x="1812" y="715.8">40-50</text>
<rect x="1762.5" y="725" width="36" height="36" fill="#F9E300"/><text x="1812" y="751.8">50-60</text>
<rect x="1762.5" y="761" width="36" height="36" fill="#EEAA00"/><text x="1812" y="787.8">60-70</text>
<rect x="1762.5" y="797" width="36" height="36" fill="#E37100"/><text x="1812" y="823.8">70-80</text>
<rect x="1762.5" y="833" width="36" height="36" fill="#D83900"/><text x="1812" y="859.8">80-90</text>
<rect x="1762.5" y="869" width="36" height="36" fill="#CD0000"/><text x="1812" y="895.8">90-100</text>
</g>
</svg></body></html>
